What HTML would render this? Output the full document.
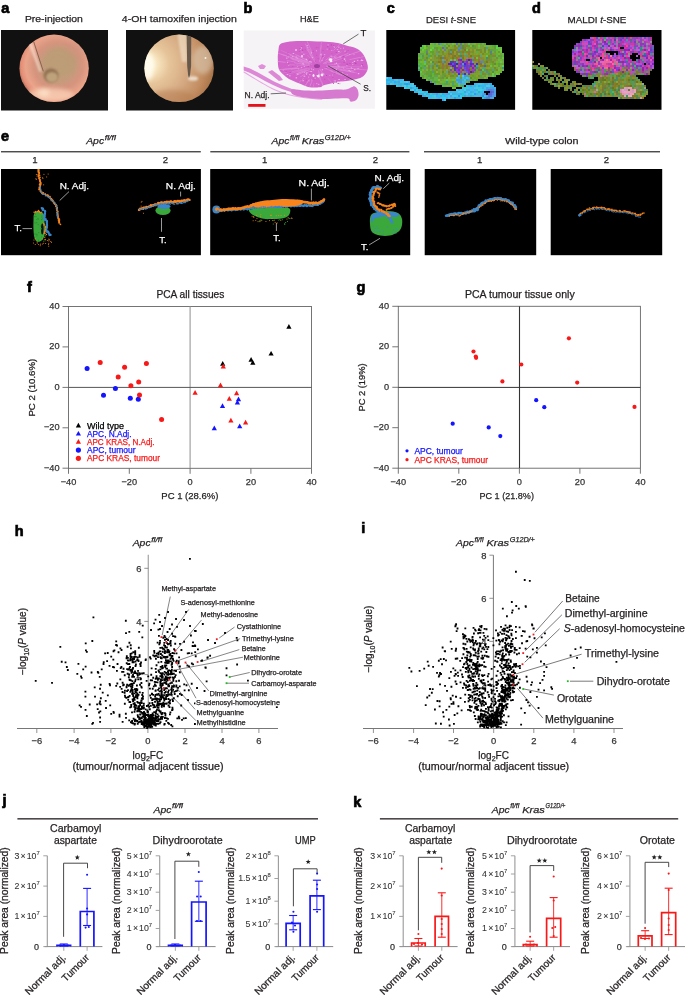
<!DOCTYPE html>
<html><head><meta charset="utf-8"><style>
html,body{margin:0;padding:0;background:#fff;}
body{width:685px;height:997px;overflow:hidden;}
svg{display:block;font-family:"Liberation Sans",sans-serif;will-change:transform;}
text:not([stroke]){stroke:#231f20;stroke-width:0.25px;}
</style></head><body>
<svg width="685" height="997" viewBox="0 0 685 997" fill="#231f20">
<text x="1.2" y="12.6" font-size="14.5" font-weight="bold" fill="#000" stroke="#000" stroke-width="0.7">a</text>
<text x="243.4" y="12.55" font-size="14.5" font-weight="bold" fill="#000" stroke="#000" stroke-width="0.7">b</text>
<text x="386.7" y="12.6" font-size="14.5" font-weight="bold" fill="#000" stroke="#000" stroke-width="0.7">c</text>
<text x="532" y="12.6" font-size="14.5" font-weight="bold" fill="#000" stroke="#000" stroke-width="0.7">d</text>
<text x="24.9" y="22.1" font-size="9.8" textLength="57.9" lengthAdjust="spacingAndGlyphs" stroke="#231f20" stroke-width="0.25">Pre-injection</text>
<text x="121.8" y="22.1" font-size="9.8" textLength="115" lengthAdjust="spacingAndGlyphs" stroke="#231f20" stroke-width="0.25">4-OH tamoxifen injection</text>
<rect x="1" y="30" width="107" height="80.5" fill="#111"/>
<rect x="126" y="30" width="107" height="80.5" fill="#111"/>
<defs>
<radialGradient id="e1" cx="0.56" cy="0.46" r="0.56">
 <stop offset="0" stop-color="#bfa27a"/><stop offset="0.4" stop-color="#c49c7c"/>
 <stop offset="0.62" stop-color="#d6947e"/><stop offset="0.84" stop-color="#eaa48a"/><stop offset="0.96" stop-color="#e48e76"/><stop offset="1" stop-color="#c87a66"/>
</radialGradient>
<radialGradient id="e2" cx="0.06" cy="0.44" r="1.0">
 <stop offset="0" stop-color="#fffbe8"/><stop offset="0.12" stop-color="#f8e6c0"/><stop offset="0.3" stop-color="#e6c49a"/>
 <stop offset="0.55" stop-color="#d6ab84"/><stop offset="0.8" stop-color="#c28c60"/><stop offset="1" stop-color="#a06a40"/>
</radialGradient>
<filter id="bl1" x="-0.5" y="-0.5" width="2" height="2"><feGaussianBlur stdDeviation="2.2"/></filter>
<filter id="bl2" x="-0.5" y="-0.5" width="2" height="2"><feGaussianBlur stdDeviation="0.8"/></filter>
<clipPath id="c1"><ellipse cx="54.1" cy="68.3" rx="34.7" ry="33.7"/></clipPath>
<clipPath id="c2"><ellipse cx="179.1" cy="68.3" rx="34.7" ry="33.7"/></clipPath>
</defs>
<ellipse cx="54.1" cy="68.3" rx="34.7" ry="33.7" fill="url(#e1)"/>
<g clip-path="url(#c1)">
<ellipse cx="50" cy="95" rx="24" ry="7" fill="#f8cdb4" opacity="0.8" filter="url(#bl1)"/>
<ellipse cx="44" cy="93" rx="6" ry="4" fill="#fbe2c8" opacity="0.8" filter="url(#bl1)"/>
<ellipse cx="76" cy="50" rx="10" ry="8" fill="#d09480" opacity="0.5" filter="url(#bl1)"/>
<ellipse cx="60" cy="62" rx="16" ry="14" fill="#b89c74" opacity="0.55" filter="url(#bl1)"/>
<ellipse cx="51" cy="75.5" rx="7.4" ry="7" fill="#8c6c50" opacity="0.9" filter="url(#bl2)"/>
<ellipse cx="52" cy="77.3" rx="6" ry="5.3" fill="#bea27c" filter="url(#bl2)"/>
<path d="M27,40 L31,40 L41.5,71 L39.5,72 Z" fill="#f6dccc" opacity="0.75" filter="url(#bl2)"/>
<line x1="33.8" y1="42" x2="43.3" y2="71.3" stroke="#7e5e4c" stroke-width="0.9"/>
</g>
<ellipse cx="179.1" cy="68.3" rx="34.7" ry="33.7" fill="url(#e2)"/>
<g clip-path="url(#c2)">
<ellipse cx="203" cy="60" rx="10" ry="14" fill="#d8c8b0" opacity="0.6" filter="url(#bl1)"/>
<ellipse cx="148" cy="66" rx="6" ry="14" fill="#fffcee" opacity="0.9" filter="url(#bl1)"/>
<ellipse cx="172" cy="98" rx="22" ry="8" fill="#b47a50" opacity="0.5" filter="url(#bl1)"/>
<path d="M177,33 L187,33 L187,62 L182,62 Z" fill="#f4e6d0" opacity="0.6" filter="url(#bl2)"/>
<path d="M186.6,33 L191.3,33 L191.1,66 L189.8,77.5 L188.4,77.5 L187.2,66 Z" fill="#66584a"/>
<ellipse cx="193" cy="78.5" rx="5" ry="2.2" fill="#f4ece4" opacity="0.8" filter="url(#bl2)"/>
<circle cx="205.5" cy="58" r="1" fill="#f6f0ea"/>
</g>
<text x="300" y="22.3" font-size="9.8" textLength="18.8" lengthAdjust="spacingAndGlyphs" stroke="#231f20" stroke-width="0.25">H&amp;E</text>
<rect x="243.7" y="30.5" width="131.2" height="78.2" fill="#f6f3f6"/>
<path d="M243.7,66.5 L250.0,68.5 L258.0,72.5 L266.0,77.0 L274.0,81.5 L283.0,85.5 L292.0,89.0 L300.0,91.0 L300.0,93.5 L291.0,92.0 L282.0,89.0 L273.0,85.0 L265.0,81.0 L257.0,76.5 L249.0,72.5 L243.7,70.5 Z" fill="#dc88d6"/>
<path d="M244.0,72.0 C245.3,72.8 249.0,75.2 252.0,77.0 C255.0,78.8 258.7,81.1 262.0,83.0 C265.3,84.9 268.7,86.9 272.0,88.5 C275.3,90.1 278.7,91.3 282.0,92.5 C285.3,93.7 288.2,94.6 292.0,95.5 C295.8,96.4 300.0,97.2 305.0,97.8 C310.0,98.4 319.2,99.0 322.0,99.3" fill="none" stroke="#e9a6e4" stroke-width="1.1" stroke-linecap="round" stroke-linejoin="round"/>
<path d="M268.0,72.0 L272.0,70.0 L276.0,73.0 L280.0,76.0 L283.0,80.0 L279.0,81.0 L274.0,77.0 Z" fill="#dc88d6"/>
<path d="M258.0,66.0 L262.0,64.0 L266.0,66.0 L264.0,69.0 L260.0,69.0 Z" fill="#e090da"/>
<path d="M292.0,89.5 C294.0,88.8 300.0,90.3 305.0,90.5 C310.0,90.7 316.8,90.7 322.0,90.5 C327.2,90.3 332.0,89.7 336.0,89.5 C340.0,89.3 343.4,89.9 346.0,89.5 C348.6,89.1 350.0,87.8 351.4,87.3 C352.8,86.8 353.4,85.9 354.4,86.2 C355.4,86.5 356.8,87.8 357.5,89.3 C358.2,90.8 358.8,93.5 358.5,95.4 C358.2,97.3 356.9,99.6 355.5,100.6 C354.1,101.6 351.6,101.9 350.4,101.6 C349.2,101.2 350.4,99.0 348.3,98.5 C346.2,98.0 342.5,98.4 338.1,98.5 C333.7,98.6 327.2,99.2 321.7,99.0 C316.2,98.8 309.8,98.2 305.0,97.5 C300.2,96.8 295.2,95.8 293.0,94.5 C290.8,93.2 290.0,90.2 292.0,89.5 Z" fill="#d67ad0"/>
<path d="M279.9,44.4 C281.3,43.0 283.4,42.5 287.0,41.9 C290.6,41.3 295.5,41.0 301.3,40.9 C307.1,40.8 315.9,41.2 321.7,41.5 C327.5,41.8 331.9,42.1 336.0,42.7 C340.1,43.4 342.9,44.5 346.3,45.4 C349.7,46.3 353.8,47.0 356.5,48.4 C359.2,49.8 360.9,51.3 362.6,53.5 C364.3,55.7 365.9,59.1 366.7,61.7 C367.5,64.3 368.2,66.5 367.7,68.9 C367.2,71.3 365.5,74.3 363.6,76.0 C361.7,77.7 359.1,78.3 356.5,79.1 C353.9,79.9 351.0,80.3 348.3,80.7 C345.6,81.1 342.8,81.1 340.1,81.5 C337.4,81.9 334.7,82.6 332.0,83.2 C329.3,83.8 325.9,84.5 323.8,85.2 C321.8,85.9 322.1,87.0 319.7,87.3 C317.3,87.6 312.6,87.8 309.5,87.3 C306.4,86.8 304.4,85.4 301.3,84.2 C298.2,83.0 294.0,81.6 291.1,80.1 C288.2,78.6 285.9,76.9 283.9,75.0 C281.8,73.1 279.8,71.6 278.8,68.9 C277.8,66.2 277.9,61.8 277.8,58.7 C277.7,55.6 278.0,52.9 278.4,50.5 C278.8,48.1 278.5,45.8 279.9,44.4 Z" fill="#d264ca"/>
<g fill="#eeb6ea"><rect x="301.2" y="66.9" width="1.0" height="0.9"/><rect x="334.2" y="46.8" width="0.6" height="1.1"/><rect x="303.0" y="53.8" width="1.6" height="0.8"/><rect x="352.1" y="64.0" width="1.2" height="0.6"/><rect x="335.0" y="80.5" width="1.1" height="1.0"/><rect x="338.1" y="46.7" width="1.4" height="0.9"/><rect x="306.6" y="45.3" width="1.5" height="0.8"/><rect x="342.1" y="80.9" width="1.3" height="1.1"/><rect x="314.6" y="77.6" width="1.0" height="1.2"/><rect x="292.6" y="53.1" width="1.6" height="0.8"/><rect x="334.3" y="56.6" width="1.1" height="0.8"/><rect x="310.8" y="68.6" width="1.2" height="1.1"/><rect x="339.0" y="83.0" width="1.5" height="1.2"/><rect x="338.1" y="50.9" width="1.5" height="1.2"/><rect x="357.9" y="67.9" width="1.3" height="0.6"/><rect x="351.7" y="68.1" width="0.9" height="0.5"/><rect x="315.9" y="50.3" width="0.9" height="1.0"/><rect x="333.2" y="45.9" width="1.3" height="0.7"/><rect x="307.3" y="47.2" width="1.2" height="0.5"/><rect x="297.8" y="61.1" width="1.2" height="0.6"/><rect x="357.2" y="59.9" width="1.1" height="0.9"/><rect x="335.7" y="69.0" width="1.2" height="0.9"/><rect x="361.0" y="65.3" width="1.0" height="1.0"/><rect x="301.2" y="56.6" width="1.6" height="0.9"/><rect x="327.6" y="44.5" width="1.0" height="0.9"/><rect x="282.7" y="69.9" width="1.2" height="0.5"/><rect x="334.3" y="63.6" width="1.3" height="0.7"/><rect x="341.1" y="75.0" width="0.6" height="0.5"/><rect x="302.3" y="63.2" width="1.2" height="0.7"/><rect x="311.9" y="57.1" width="1.0" height="0.9"/><rect x="306.5" y="59.8" width="1.4" height="0.5"/><rect x="329.4" y="74.9" width="0.9" height="0.7"/><rect x="349.3" y="54.0" width="0.8" height="0.8"/><rect x="340.3" y="48.3" width="0.9" height="0.7"/><rect x="351.9" y="62.4" width="1.5" height="0.6"/><rect x="309.6" y="71.3" width="1.5" height="0.8"/><rect x="300.1" y="49.1" width="1.1" height="0.6"/><rect x="349.6" y="79.2" width="0.8" height="0.7"/><rect x="349.6" y="71.0" width="1.4" height="0.7"/><rect x="292.0" y="56.3" width="1.4" height="0.7"/><rect x="310.4" y="61.5" width="1.0" height="0.8"/><rect x="317.9" y="83.9" width="1.5" height="0.7"/><rect x="344.4" y="79.1" width="1.3" height="0.9"/><rect x="305.6" y="58.3" width="0.8" height="0.5"/><rect x="331.0" y="56.1" width="1.4" height="0.5"/><rect x="357.8" y="73.1" width="1.5" height="1.1"/><rect x="357.5" y="68.2" width="0.6" height="1.0"/><rect x="295.6" y="56.6" width="1.3" height="0.9"/><rect x="316.2" y="83.4" width="1.2" height="0.7"/><rect x="302.5" y="80.2" width="1.1" height="1.0"/><rect x="310.9" y="52.3" width="1.1" height="1.1"/><rect x="295.6" y="77.3" width="1.5" height="1.1"/><rect x="334.4" y="80.2" width="0.6" height="0.7"/><rect x="303.8" y="66.1" width="1.0" height="0.8"/><rect x="288.3" y="65.1" width="0.9" height="0.7"/><rect x="310.9" y="71.2" width="1.2" height="0.8"/><rect x="297.2" y="57.8" width="0.7" height="0.9"/><rect x="341.9" y="60.0" width="0.7" height="0.6"/><rect x="312.7" y="69.4" width="1.4" height="0.8"/><rect x="349.1" y="70.2" width="1.0" height="0.8"/><rect x="323.2" y="73.5" width="1.0" height="1.0"/><rect x="320.2" y="54.3" width="1.1" height="1.0"/><rect x="287.1" y="61.8" width="1.0" height="1.1"/><rect x="360.6" y="59.7" width="1.5" height="1.1"/><rect x="303.3" y="63.5" width="0.7" height="1.1"/><rect x="337.3" y="81.3" width="1.4" height="1.0"/><rect x="343.4" y="67.7" width="0.7" height="0.9"/><rect x="338.3" y="79.1" width="1.6" height="0.9"/><rect x="346.2" y="65.5" width="1.3" height="0.6"/><rect x="286.2" y="57.6" width="1.2" height="1.1"/><rect x="301.6" y="51.6" width="0.8" height="0.9"/><rect x="345.1" y="60.5" width="1.0" height="0.8"/><rect x="310.8" y="61.6" width="0.7" height="0.9"/><rect x="344.5" y="50.7" width="1.3" height="1.0"/><rect x="338.3" y="65.7" width="1.1" height="1.0"/><rect x="289.1" y="75.4" width="1.5" height="0.9"/><rect x="318.7" y="74.2" width="0.8" height="0.7"/><rect x="297.9" y="68.6" width="0.9" height="0.7"/><rect x="306.1" y="73.6" width="1.0" height="1.1"/><rect x="330.7" y="55.2" width="0.8" height="0.5"/><rect x="321.8" y="60.1" width="0.8" height="0.8"/><rect x="308.4" y="76.5" width="0.7" height="1.2"/><rect x="321.8" y="69.2" width="1.1" height="1.1"/><rect x="350.8" y="67.4" width="1.1" height="1.0"/><rect x="353.8" y="60.8" width="1.3" height="1.2"/><rect x="320.7" y="53.6" width="0.8" height="1.0"/><rect x="353.6" y="54.2" width="0.8" height="0.7"/><rect x="296.9" y="73.6" width="1.5" height="1.1"/><rect x="302.7" y="80.3" width="0.9" height="0.8"/><rect x="343.0" y="47.6" width="0.7" height="1.1"/><rect x="305.8" y="59.0" width="1.2" height="1.0"/><rect x="318.1" y="64.4" width="0.8" height="0.9"/><rect x="362.2" y="60.4" width="1.1" height="0.6"/><rect x="304.4" y="71.9" width="0.7" height="1.1"/><rect x="361.0" y="59.7" width="1.4" height="1.0"/><rect x="306.1" y="72.4" width="1.3" height="1.1"/><rect x="303.6" y="75.7" width="1.6" height="1.0"/><rect x="326.6" y="48.8" width="1.1" height="0.7"/><rect x="342.0" y="72.5" width="1.2" height="0.6"/><rect x="335.9" y="70.5" width="0.8" height="1.1"/><rect x="336.7" y="49.2" width="1.5" height="0.6"/><rect x="309.2" y="74.3" width="1.2" height="0.9"/><rect x="336.0" y="63.2" width="0.9" height="0.6"/><rect x="286.8" y="74.1" width="1.4" height="0.9"/><rect x="343.9" y="59.1" width="0.9" height="0.8"/><rect x="323.9" y="54.4" width="1.4" height="0.7"/><rect x="309.3" y="60.9" width="1.1" height="1.0"/><rect x="311.0" y="79.6" width="0.7" height="0.7"/><rect x="347.2" y="74.5" width="0.8" height="0.6"/><rect x="316.4" y="75.2" width="1.4" height="1.0"/><rect x="331.3" y="50.2" width="1.0" height="0.6"/><rect x="325.8" y="67.9" width="0.8" height="0.7"/><rect x="361.7" y="60.1" width="1.2" height="0.9"/><rect x="339.4" y="56.6" width="1.5" height="0.8"/><rect x="332.1" y="74.5" width="0.6" height="1.0"/><rect x="337.3" y="64.7" width="1.1" height="0.8"/><rect x="297.4" y="66.2" width="0.6" height="0.9"/><rect x="335.9" y="62.7" width="1.2" height="1.2"/><rect x="348.4" y="70.2" width="0.7" height="0.8"/><rect x="300.8" y="47.3" width="1.1" height="1.2"/><rect x="308.5" y="80.6" width="1.3" height="0.6"/><rect x="354.0" y="69.2" width="1.5" height="1.0"/><rect x="343.9" y="58.4" width="1.4" height="1.2"/></g>
<g fill="#b848b0"><rect x="354.2" y="62.4" width="1.2" height="0.8"/><rect x="287.6" y="52.4" width="0.7" height="0.8"/><rect x="340.4" y="66.6" width="0.9" height="1.0"/><rect x="306.9" y="63.5" width="1.2" height="0.8"/><rect x="342.2" y="59.4" width="0.9" height="0.9"/><rect x="331.7" y="53.4" width="0.6" height="0.6"/><rect x="347.6" y="50.0" width="1.0" height="0.6"/><rect x="298.8" y="51.2" width="0.9" height="0.6"/><rect x="295.3" y="64.6" width="0.6" height="0.5"/><rect x="319.1" y="61.1" width="1.2" height="0.5"/><rect x="315.3" y="60.7" width="0.6" height="1.2"/><rect x="299.6" y="48.0" width="1.0" height="0.6"/><rect x="333.9" y="58.5" width="0.7" height="0.5"/><rect x="342.9" y="55.6" width="1.2" height="0.8"/><rect x="360.3" y="56.6" width="0.8" height="0.7"/><rect x="350.2" y="70.4" width="0.9" height="0.6"/><rect x="331.3" y="44.2" width="0.6" height="0.6"/><rect x="285.6" y="71.5" width="1.3" height="0.6"/><rect x="306.9" y="69.5" width="1.4" height="0.6"/><rect x="305.9" y="79.7" width="0.7" height="0.8"/><rect x="309.4" y="72.6" width="1.3" height="0.6"/><rect x="343.9" y="74.8" width="1.3" height="0.9"/><rect x="359.5" y="59.2" width="0.9" height="0.7"/><rect x="347.3" y="64.2" width="0.8" height="0.6"/><rect x="342.3" y="69.4" width="1.2" height="0.8"/><rect x="322.4" y="50.5" width="1.2" height="0.5"/><rect x="320.7" y="75.9" width="1.1" height="0.6"/><rect x="301.2" y="79.4" width="1.1" height="1.1"/><rect x="355.1" y="62.9" width="1.3" height="1.0"/><rect x="309.4" y="59.5" width="0.7" height="0.8"/><rect x="329.4" y="48.6" width="0.7" height="1.0"/><rect x="301.5" y="46.1" width="0.7" height="1.0"/><rect x="330.8" y="44.5" width="0.8" height="1.2"/><rect x="299.7" y="67.6" width="0.9" height="1.0"/><rect x="332.4" y="77.1" width="1.0" height="0.6"/><rect x="288.3" y="63.5" width="0.8" height="1.1"/><rect x="333.3" y="71.0" width="1.2" height="1.1"/><rect x="310.4" y="69.3" width="1.0" height="0.6"/><rect x="352.0" y="69.0" width="1.3" height="0.6"/><rect x="326.8" y="63.5" width="1.2" height="0.6"/><rect x="310.4" y="64.4" width="0.7" height="0.9"/><rect x="343.5" y="61.8" width="1.1" height="0.9"/><rect x="299.2" y="58.7" width="1.4" height="0.7"/><rect x="317.6" y="47.5" width="0.8" height="0.6"/><rect x="333.0" y="83.1" width="1.0" height="0.8"/><rect x="361.7" y="64.3" width="1.2" height="0.8"/><rect x="305.8" y="83.2" width="0.7" height="0.6"/><rect x="342.4" y="56.4" width="1.0" height="0.9"/><rect x="304.5" y="62.2" width="0.9" height="1.0"/><rect x="344.5" y="56.1" width="0.7" height="0.7"/><rect x="315.9" y="47.3" width="0.7" height="1.0"/><rect x="312.7" y="50.8" width="0.8" height="0.8"/><rect x="325.7" y="66.8" width="0.9" height="1.1"/><rect x="305.2" y="63.5" width="1.3" height="1.1"/><rect x="306.3" y="54.2" width="1.2" height="0.5"/><rect x="292.2" y="66.3" width="1.0" height="0.6"/><rect x="346.4" y="63.6" width="1.4" height="1.0"/><rect x="317.8" y="58.2" width="0.6" height="0.9"/><rect x="289.0" y="57.1" width="0.8" height="1.1"/><rect x="316.5" y="54.9" width="0.6" height="0.8"/><rect x="334.3" y="72.4" width="1.3" height="1.1"/><rect x="302.0" y="49.7" width="1.2" height="1.1"/><rect x="324.3" y="78.9" width="1.0" height="0.7"/><rect x="335.7" y="81.7" width="1.3" height="0.8"/><rect x="337.6" y="83.0" width="1.3" height="0.9"/><rect x="316.2" y="65.8" width="0.7" height="0.6"/><rect x="327.5" y="61.1" width="0.9" height="0.8"/><rect x="349.3" y="63.0" width="1.4" height="0.6"/><rect x="307.8" y="65.9" width="0.9" height="1.1"/><rect x="333.1" y="45.3" width="1.1" height="0.9"/><rect x="322.4" y="55.8" width="1.2" height="1.1"/><rect x="289.7" y="72.1" width="0.9" height="0.9"/><rect x="335.7" y="52.2" width="1.3" height="0.6"/><rect x="313.6" y="78.8" width="0.9" height="0.7"/><rect x="308.0" y="60.5" width="0.8" height="0.6"/><rect x="287.7" y="53.6" width="0.8" height="0.6"/><rect x="325.7" y="75.2" width="1.3" height="0.9"/><rect x="286.9" y="55.2" width="1.0" height="0.7"/><rect x="327.4" y="46.0" width="0.8" height="1.2"/><rect x="338.3" y="71.2" width="0.7" height="0.5"/><rect x="345.6" y="51.4" width="0.8" height="1.1"/><rect x="362.7" y="66.5" width="0.9" height="0.6"/><rect x="304.9" y="49.5" width="0.7" height="0.6"/><rect x="311.0" y="82.4" width="0.7" height="0.6"/></g>
<defs><clipPath id="hb"><path d="M279.9,44.4 C281.3,43.0 283.4,42.5 287.0,41.9 C290.6,41.3 295.5,41.0 301.3,40.9 C307.1,40.8 315.9,41.2 321.7,41.5 C327.5,41.8 331.9,42.1 336.0,42.7 C340.1,43.4 342.9,44.5 346.3,45.4 C349.7,46.3 353.8,47.0 356.5,48.4 C359.2,49.8 360.9,51.3 362.6,53.5 C364.3,55.7 365.9,59.1 366.7,61.7 C367.5,64.3 368.2,66.5 367.7,68.9 C367.2,71.3 365.5,74.3 363.6,76.0 C361.7,77.7 359.1,78.3 356.5,79.1 C353.9,79.9 351.0,80.3 348.3,80.7 C345.6,81.1 342.8,81.1 340.1,81.5 C337.4,81.9 334.7,82.6 332.0,83.2 C329.3,83.8 325.9,84.5 323.8,85.2 C321.8,85.9 322.1,87.0 319.7,87.3 C317.3,87.6 312.6,87.8 309.5,87.3 C306.4,86.8 304.4,85.4 301.3,84.2 C298.2,83.0 294.0,81.6 291.1,80.1 C288.2,78.6 285.9,76.9 283.9,75.0 C281.8,73.1 279.8,71.6 278.8,68.9 C277.8,66.2 277.9,61.8 277.8,58.7 C277.7,55.6 278.0,52.9 278.4,50.5 C278.8,48.1 278.5,45.8 279.9,44.4 Z" fill="#000"/></clipPath></defs>
<g clip-path="url(#hb)" stroke="#e9a2e3" opacity="0.55" stroke-linecap="round"><line x1="301.3" y1="68.0" x2="291.2" y2="69.2" stroke-width="0.93"/><line x1="338.9" y1="66.4" x2="362.7" y2="66.9" stroke-width="0.54"/><line x1="295.2" y1="62.0" x2="287.0" y2="60.5" stroke-width="0.69"/><line x1="312.4" y1="56.7" x2="306.4" y2="46.8" stroke-width="0.58"/><line x1="318.7" y1="70.8" x2="320.0" y2="79.2" stroke-width="0.96"/><line x1="293.8" y1="58.3" x2="281.4" y2="54.3" stroke-width="0.87"/><line x1="329.9" y1="70.4" x2="345.8" y2="76.3" stroke-width="0.86"/><line x1="310.1" y1="68.1" x2="298.9" y2="71.1" stroke-width="0.60"/><line x1="312.2" y1="80.6" x2="310.0" y2="86.2" stroke-width="0.94"/><line x1="323.8" y1="63.3" x2="334.4" y2="58.2" stroke-width="0.75"/><line x1="336.4" y1="67.4" x2="360.1" y2="69.1" stroke-width="0.56"/><line x1="309.9" y1="63.2" x2="295.0" y2="58.0" stroke-width="0.95"/><line x1="319.9" y1="69.2" x2="322.7" y2="73.7" stroke-width="0.77"/><line x1="326.8" y1="66.5" x2="343.4" y2="67.4" stroke-width="0.96"/><line x1="302.3" y1="70.3" x2="285.5" y2="74.9" stroke-width="0.55"/><line x1="308.0" y1="63.3" x2="291.6" y2="58.8" stroke-width="0.98"/><line x1="339.1" y1="69.7" x2="356.7" y2="72.9" stroke-width="0.57"/><line x1="314.0" y1="83.4" x2="311.0" y2="96.1" stroke-width="0.56"/><line x1="308.7" y1="49.8" x2="305.3" y2="43.9" stroke-width="0.81"/><line x1="334.3" y1="68.3" x2="353.5" y2="70.9" stroke-width="0.80"/><line x1="319.4" y1="61.6" x2="321.5" y2="54.6" stroke-width="0.93"/><line x1="301.3" y1="61.1" x2="288.2" y2="57.3" stroke-width="0.99"/><line x1="311.8" y1="64.4" x2="292.1" y2="59.5" stroke-width="0.66"/><line x1="306.5" y1="68.5" x2="292.1" y2="71.7" stroke-width="0.66"/><line x1="338.8" y1="72.5" x2="347.1" y2="75.1" stroke-width="0.89"/><line x1="346.5" y1="68.3" x2="368.4" y2="70.1" stroke-width="0.75"/><line x1="314.6" y1="59.4" x2="309.3" y2="49.3" stroke-width="0.71"/><line x1="322.1" y1="83.0" x2="323.9" y2="90.4" stroke-width="0.69"/><line x1="328.9" y1="59.4" x2="341.4" y2="51.8" stroke-width="0.59"/><line x1="325.7" y1="60.2" x2="330.6" y2="56.5" stroke-width="0.99"/><line x1="333.7" y1="80.9" x2="345.5" y2="92.1" stroke-width="0.80"/><line x1="326.1" y1="66.3" x2="337.8" y2="66.7" stroke-width="0.69"/><line x1="291.8" y1="55.0" x2="281.0" y2="50.4" stroke-width="0.57"/><line x1="308.4" y1="64.0" x2="299.6" y2="62.2" stroke-width="0.78"/><line x1="315.2" y1="62.1" x2="309.9" y2="54.6" stroke-width="0.85"/><line x1="319.5" y1="57.3" x2="321.6" y2="45.6" stroke-width="0.58"/><line x1="311.8" y1="52.0" x2="306.8" y2="40.6" stroke-width="0.75"/><line x1="324.3" y1="68.3" x2="338.4" y2="73.3" stroke-width="0.59"/><line x1="311.9" y1="62.8" x2="297.0" y2="54.9" stroke-width="0.61"/><line x1="329.4" y1="66.5" x2="345.4" y2="67.1" stroke-width="0.78"/><line x1="309.3" y1="69.7" x2="296.7" y2="75.0" stroke-width="0.97"/><line x1="285.3" y1="62.3" x2="277.0" y2="61.4" stroke-width="1.00"/><line x1="334.9" y1="58.9" x2="348.1" y2="53.4" stroke-width="0.77"/><line x1="325.0" y1="63.8" x2="341.3" y2="58.6" stroke-width="0.77"/><line x1="309.5" y1="79.0" x2="303.1" y2="88.8" stroke-width="0.55"/><line x1="311.9" y1="56.8" x2="306.7" y2="48.9" stroke-width="0.82"/><line x1="340.5" y1="69.9" x2="354.2" y2="72.3" stroke-width="0.94"/><line x1="321.6" y1="80.9" x2="324.0" y2="91.3" stroke-width="0.81"/><line x1="323.3" y1="63.4" x2="336.4" y2="56.9" stroke-width="0.81"/><line x1="310.1" y1="57.9" x2="306.1" y2="53.7" stroke-width="0.59"/><line x1="309.0" y1="62.3" x2="301.8" y2="59.5" stroke-width="0.68"/><line x1="296.6" y1="68.0" x2="288.2" y2="68.8" stroke-width="0.89"/><line x1="303.4" y1="78.5" x2="299.4" y2="82.0" stroke-width="0.98"/><line x1="288.9" y1="56.7" x2="267.5" y2="49.9" stroke-width="0.92"/><line x1="330.9" y1="71.1" x2="340.4" y2="74.8" stroke-width="0.89"/><line x1="322.5" y1="72.0" x2="326.1" y2="76.6" stroke-width="0.56"/><line x1="349.9" y1="59.5" x2="363.4" y2="56.7" stroke-width="0.87"/><line x1="297.0" y1="68.2" x2="282.8" y2="69.6" stroke-width="0.82"/><line x1="319.2" y1="72.9" x2="320.7" y2="81.4" stroke-width="0.60"/><line x1="286.8" y1="72.3" x2="279.0" y2="73.8" stroke-width="0.55"/><line x1="320.5" y1="62.2" x2="324.3" y2="56.3" stroke-width="0.93"/><line x1="307.9" y1="62.1" x2="300.8" y2="59.3" stroke-width="0.64"/><line x1="308.9" y1="80.0" x2="301.1" y2="92.0" stroke-width="0.89"/><line x1="345.1" y1="56.4" x2="364.2" y2="49.6" stroke-width="0.96"/><line x1="326.9" y1="65.1" x2="340.2" y2="63.7" stroke-width="0.62"/><line x1="301.7" y1="59.7" x2="290.5" y2="55.4" stroke-width="0.92"/><line x1="308.0" y1="69.7" x2="297.6" y2="73.5" stroke-width="0.73"/><line x1="300.5" y1="58.7" x2="288.4" y2="53.7" stroke-width="0.59"/><line x1="305.1" y1="70.5" x2="296.1" y2="73.7" stroke-width="0.77"/><line x1="328.1" y1="78.5" x2="335.5" y2="87.5" stroke-width="0.57"/><line x1="306.6" y1="60.3" x2="295.4" y2="54.7" stroke-width="0.80"/><line x1="320.3" y1="50.1" x2="321.8" y2="39.7" stroke-width="0.61"/><line x1="302.5" y1="63.9" x2="294.4" y2="62.8" stroke-width="0.78"/><line x1="287.2" y1="68.9" x2="273.7" y2="70.1" stroke-width="0.92"/><line x1="308.8" y1="65.6" x2="288.2" y2="64.7" stroke-width="0.64"/><line x1="309.7" y1="65.1" x2="301.7" y2="64.3" stroke-width="0.96"/><line x1="328.3" y1="67.4" x2="338.8" y2="68.8" stroke-width="0.55"/><line x1="333.7" y1="50.3" x2="342.5" y2="41.7" stroke-width="0.70"/><line x1="334.0" y1="59.2" x2="342.0" y2="55.9" stroke-width="0.85"/><line x1="309.0" y1="71.5" x2="300.4" y2="76.8" stroke-width="0.69"/></g>
<ellipse cx="317" cy="66" rx="3" ry="2" fill="#a040a0"/>
<g fill="#fbeefa"><ellipse cx="330.5" cy="59.5" rx="1.8" ry="1.2"/><ellipse cx="313.5" cy="75.5" rx="1" ry="1.6"/><ellipse cx="318.5" cy="76" rx="1.1" ry="1.5"/><ellipse cx="302" cy="56" rx="1" ry="0.7"/><ellipse cx="296" cy="50" rx="0.9" ry="0.7"/></g>
<circle cx="322" cy="75" r="1.4" fill="#fbe8fa"/><circle cx="318" cy="76" r="1.1" fill="#fbe8fa"/><circle cx="331" cy="61" r="1.3" fill="#fbe8fa"/>
<rect x="248.2" y="104" width="17.3" height="2.8" fill="#e3121b"/>
<line x1="343.2" y1="43.9" x2="358.5" y2="34.1" stroke="#333" stroke-width="0.7"/>
<text x="360.5" y="35.6" font-size="9.6" stroke="#231f20" stroke-width="0.25">T</text>
<line x1="327.9" y1="65.8" x2="360.6" y2="84.2" stroke="#333" stroke-width="0.7"/>
<text x="363.3" y="90.6" font-size="9.6" textLength="7.8" lengthAdjust="spacingAndGlyphs" stroke="#231f20" stroke-width="0.25">S.</text>
<line x1="270.7" y1="93.8" x2="286" y2="93" stroke="#333" stroke-width="0.7"/>
<text x="244.5" y="97.6" font-size="9.6" textLength="25.1" lengthAdjust="spacingAndGlyphs" stroke="#231f20" stroke-width="0.25">N. Adj.</text>
<text x="426" y="22.5" font-size="9.8" textLength="50" lengthAdjust="spacingAndGlyphs" stroke="#231f20" stroke-width="0.25">DESI <tspan font-style="italic">t</tspan>-SNE</text>
<rect x="386.3" y="30" width="128.8" height="79.8" fill="#000"/>
<defs><filter id="soft" x="-0.05" y="-0.05" width="1.1" height="1.1"><feGaussianBlur stdDeviation="0.45"/></filter></defs>
<g filter="url(#soft)"><path fill="#78b43c" d="M430 43h2v2h-2zM436 43h2v2h-2zM444 43h2v2h-2zM432 45h2v2h-2zM436 45h2v2h-2zM440 45h2v2h-2zM470 45h2v2h-2zM484 45h2v2h-2zM486 45h2v2h-2zM488 45h2v2h-2zM430 47h2v2h-2zM478 47h2v2h-2zM420 51h2v2h-2zM486 51h2v2h-2zM498 53h2v2h-2zM418 57h2v2h-2zM498 59h2v2h-2zM420 61h2v2h-2zM426 65h2v2h-2zM494 65h2v2h-2zM500 65h2v2h-2zM498 67h2v2h-2zM422 69h2v2h-2zM426 69h2v2h-2zM502 69h2v2h-2zM438 75h2v2h-2zM486 75h2v2h-2zM424 77h2v2h-2zM444 79h2v2h-2zM448 79h2v2h-2zM454 79h2v2h-2zM440 81h2v2h-2zM466 81h2v2h-2zM436 83h2v2h-2zM450 83h2v2h-2zM446 85h2v2h-2zM454 87h2v2h-2z"/>
<path fill="#64b450" d="M432 43h2v2h-2zM434 45h2v2h-2zM438 49h2v2h-2zM458 53h2v2h-2zM502 53h2v2h-2zM420 55h2v2h-2zM496 55h2v2h-2zM420 57h2v2h-2zM502 61h2v2h-2zM436 77h2v2h-2zM434 79h2v2h-2zM442 85h2v2h-2zM448 85h2v2h-2z"/>
<path fill="#50b43c" d="M434 43h2v2h-2zM418 55h2v2h-2zM418 61h2v2h-2zM420 63h2v2h-2zM422 65h2v2h-2zM452 73h2v2h-2zM494 75h2v2h-2zM426 77h2v2h-2zM432 79h2v2h-2z"/>
<path fill="#508c8c" d="M438 43h2v2h-2zM488 73h2v2h-2z"/>
<path fill="#50a0a0" d="M440 43h2v2h-2zM450 51h2v2h-2zM436 53h2v2h-2zM480 55h2v2h-2zM472 57h2v2h-2zM472 61h2v2h-2zM462 63h2v2h-2zM424 67h2v2h-2zM446 71h2v2h-2zM434 83h2v2h-2z"/>
<path fill="#64b43c" d="M442 43h2v2h-2zM448 43h2v2h-2zM472 43h2v2h-2zM482 43h2v2h-2zM490 45h2v2h-2zM422 47h2v2h-2zM490 47h2v2h-2zM424 49h2v2h-2zM496 49h2v2h-2zM492 51h2v2h-2zM424 53h2v2h-2zM496 53h2v2h-2zM502 55h2v2h-2zM498 57h2v2h-2zM498 61h2v2h-2zM422 63h2v2h-2zM420 65h2v2h-2zM430 69h2v2h-2zM494 71h2v2h-2zM498 71h2v2h-2zM500 71h2v2h-2zM420 73h2v2h-2zM422 73h2v2h-2zM420 75h2v2h-2zM424 75h2v2h-2zM432 75h2v2h-2zM428 77h2v2h-2zM434 77h2v2h-2zM430 79h2v2h-2zM436 79h2v2h-2zM442 79h2v2h-2zM470 79h2v2h-2zM432 81h2v2h-2zM444 81h2v2h-2zM448 81h2v2h-2zM438 83h2v2h-2zM454 83h2v2h-2zM444 85h2v2h-2z"/>
<path fill="#64a03c" d="M446 43h2v2h-2zM480 43h2v2h-2zM484 43h2v2h-2zM468 45h2v2h-2zM474 45h2v2h-2zM434 47h2v2h-2zM472 47h2v2h-2zM420 49h2v2h-2zM436 49h2v2h-2zM492 49h2v2h-2zM430 51h2v2h-2zM494 51h2v2h-2zM432 53h2v2h-2zM500 55h2v2h-2zM422 57h2v2h-2zM490 57h2v2h-2zM420 59h2v2h-2zM426 59h2v2h-2zM426 63h2v2h-2zM498 63h2v2h-2zM498 65h2v2h-2zM488 69h2v2h-2zM494 69h2v2h-2zM426 71h2v2h-2zM428 71h2v2h-2zM428 73h2v2h-2zM444 73h2v2h-2zM422 75h2v2h-2zM442 75h2v2h-2zM480 75h2v2h-2zM484 75h2v2h-2zM430 77h2v2h-2zM432 77h2v2h-2zM440 77h2v2h-2zM460 77h2v2h-2zM474 77h2v2h-2zM480 77h2v2h-2zM482 77h2v2h-2zM472 79h2v2h-2zM434 81h2v2h-2zM452 81h2v2h-2zM446 83h2v2h-2zM454 85h2v2h-2zM462 85h2v2h-2z"/>
<path fill="#78a050" d="M450 43h2v2h-2zM428 49h2v2h-2zM434 49h2v2h-2zM418 53h2v2h-2zM424 55h2v2h-2zM502 59h2v2h-2z"/>
<path fill="#64c83c" d="M452 43h2v2h-2zM478 45h2v2h-2zM496 45h2v2h-2zM498 47h2v2h-2zM500 47h2v2h-2zM500 51h2v2h-2zM486 55h2v2h-2zM476 57h2v2h-2zM502 57h2v2h-2zM450 59h2v2h-2zM424 63h2v2h-2zM490 65h2v2h-2zM496 73h2v2h-2zM458 85h2v2h-2zM452 87h2v2h-2z"/>
<path fill="#78b428" d="M454 43h2v2h-2zM474 43h2v2h-2zM438 45h2v2h-2zM446 45h2v2h-2zM450 45h2v2h-2zM422 51h2v2h-2zM428 51h2v2h-2zM496 51h2v2h-2zM430 53h2v2h-2zM428 59h2v2h-2zM500 59h2v2h-2zM422 61h2v2h-2zM496 61h2v2h-2zM496 65h2v2h-2zM500 69h2v2h-2zM496 71h2v2h-2zM498 73h2v2h-2zM484 77h2v2h-2zM450 79h2v2h-2zM442 81h2v2h-2zM450 85h2v2h-2z"/>
<path fill="#5078b4" d="M456 43h2v2h-2zM460 43h2v2h-2zM442 57h2v2h-2z"/>
<path fill="#64b428" d="M458 43h2v2h-2zM462 43h2v2h-2zM478 43h2v2h-2zM442 45h2v2h-2zM426 47h2v2h-2zM438 47h2v2h-2zM432 49h2v2h-2zM424 51h2v2h-2zM494 57h2v2h-2zM422 59h2v2h-2zM418 63h2v2h-2zM496 63h2v2h-2zM432 73h2v2h-2zM444 77h2v2h-2zM474 79h2v2h-2zM456 83h2v2h-2zM456 85h2v2h-2zM460 85h2v2h-2z"/>
<path fill="#788c50" d="M464 43h2v2h-2zM424 59h2v2h-2z"/>
<path fill="#78a028" d="M466 43h2v2h-2zM476 43h2v2h-2zM440 47h2v2h-2zM444 47h2v2h-2zM468 47h2v2h-2zM470 47h2v2h-2zM460 49h2v2h-2zM440 51h2v2h-2zM446 51h2v2h-2zM434 53h2v2h-2zM444 53h2v2h-2zM478 53h2v2h-2zM484 53h2v2h-2zM486 53h2v2h-2zM488 53h2v2h-2zM494 53h2v2h-2zM426 55h2v2h-2zM424 57h2v2h-2zM434 59h2v2h-2zM436 59h2v2h-2zM484 59h2v2h-2zM426 61h2v2h-2zM502 63h2v2h-2zM434 65h2v2h-2zM478 65h2v2h-2zM492 65h2v2h-2zM484 67h2v2h-2zM424 69h2v2h-2zM434 69h2v2h-2zM444 69h2v2h-2zM438 71h2v2h-2zM476 71h2v2h-2zM472 73h2v2h-2zM486 73h2v2h-2zM446 75h2v2h-2zM454 75h2v2h-2zM470 75h2v2h-2zM474 75h2v2h-2zM488 75h2v2h-2zM438 77h2v2h-2zM476 77h2v2h-2zM478 77h2v2h-2z"/>
<path fill="#64c850" d="M468 43h2v2h-2zM432 47h2v2h-2zM422 49h2v2h-2zM466 49h2v2h-2zM454 59h2v2h-2zM430 61h2v2h-2zM500 61h2v2h-2zM450 67h2v2h-2zM420 71h2v2h-2zM492 73h2v2h-2zM492 75h2v2h-2zM446 79h2v2h-2z"/>
<path fill="#78a03c" d="M470 43h2v2h-2zM428 45h2v2h-2zM452 45h2v2h-2zM476 45h2v2h-2zM480 45h2v2h-2zM482 45h2v2h-2zM452 47h2v2h-2zM476 47h2v2h-2zM480 47h2v2h-2zM482 47h2v2h-2zM488 47h2v2h-2zM492 47h2v2h-2zM446 49h2v2h-2zM456 49h2v2h-2zM434 51h2v2h-2zM478 51h2v2h-2zM482 51h2v2h-2zM428 53h2v2h-2zM438 53h2v2h-2zM440 53h2v2h-2zM470 53h2v2h-2zM474 53h2v2h-2zM500 53h2v2h-2zM432 55h2v2h-2zM428 57h2v2h-2zM432 57h2v2h-2zM484 57h2v2h-2zM492 57h2v2h-2zM432 59h2v2h-2zM492 59h2v2h-2zM496 59h2v2h-2zM494 61h2v2h-2zM428 63h2v2h-2zM486 63h2v2h-2zM490 63h2v2h-2zM500 63h2v2h-2zM426 67h2v2h-2zM430 67h2v2h-2zM490 67h2v2h-2zM492 67h2v2h-2zM496 67h2v2h-2zM500 67h2v2h-2zM438 69h2v2h-2zM476 69h2v2h-2zM422 71h2v2h-2zM424 71h2v2h-2zM478 71h2v2h-2zM484 71h2v2h-2zM490 71h2v2h-2zM474 73h2v2h-2zM476 73h2v2h-2zM494 73h2v2h-2zM426 75h2v2h-2zM440 75h2v2h-2zM468 75h2v2h-2zM482 75h2v2h-2zM490 75h2v2h-2zM450 77h2v2h-2zM452 77h2v2h-2zM454 77h2v2h-2zM472 77h2v2h-2zM486 77h2v2h-2zM440 79h2v2h-2zM438 81h2v2h-2zM450 81h2v2h-2zM454 81h2v2h-2zM440 83h2v2h-2zM448 83h2v2h-2z"/>
<path fill="#50c850" d="M422 45h2v2h-2zM482 69h2v2h-2zM452 79h2v2h-2z"/>
<path fill="#78c83c" d="M424 45h2v2h-2zM500 49h2v2h-2zM438 79h2v2h-2z"/>
<path fill="#50a028" d="M426 45h2v2h-2zM420 67h2v2h-2z"/>
<path fill="#64c828" d="M430 45h2v2h-2z"/>
<path fill="#50a08c" d="M444 45h2v2h-2zM432 63h2v2h-2zM430 65h2v2h-2zM482 67h2v2h-2zM492 69h2v2h-2zM480 71h2v2h-2z"/>
<path fill="#788c28" d="M448 45h2v2h-2zM454 45h2v2h-2zM458 45h2v2h-2zM464 47h2v2h-2zM484 47h2v2h-2zM452 49h2v2h-2zM454 49h2v2h-2zM476 49h2v2h-2zM478 49h2v2h-2zM488 49h2v2h-2zM442 51h2v2h-2zM448 51h2v2h-2zM460 51h2v2h-2zM466 51h2v2h-2zM480 51h2v2h-2zM484 51h2v2h-2zM452 53h2v2h-2zM456 53h2v2h-2zM482 53h2v2h-2zM440 55h2v2h-2zM478 55h2v2h-2zM488 55h2v2h-2zM438 57h2v2h-2zM488 57h2v2h-2zM440 59h2v2h-2zM486 59h2v2h-2zM492 61h2v2h-2zM434 63h2v2h-2zM484 63h2v2h-2zM432 65h2v2h-2zM438 65h2v2h-2zM448 65h2v2h-2zM486 65h2v2h-2zM440 67h2v2h-2zM494 67h2v2h-2zM486 69h2v2h-2zM496 69h2v2h-2zM450 71h2v2h-2zM454 71h2v2h-2zM464 71h2v2h-2zM474 71h2v2h-2zM448 73h2v2h-2zM460 73h2v2h-2zM482 73h2v2h-2zM450 75h2v2h-2zM452 75h2v2h-2zM456 75h2v2h-2zM446 77h2v2h-2z"/>
<path fill="#8ca03c" d="M456 45h2v2h-2zM448 47h2v2h-2zM442 49h2v2h-2zM474 49h2v2h-2zM486 49h2v2h-2zM442 59h2v2h-2zM436 67h2v2h-2zM480 67h2v2h-2zM488 67h2v2h-2zM440 69h2v2h-2zM446 69h2v2h-2zM440 73h2v2h-2zM466 73h2v2h-2z"/>
<path fill="#788c3c" d="M460 45h2v2h-2zM464 45h2v2h-2zM466 45h2v2h-2zM448 49h2v2h-2zM462 49h2v2h-2zM468 49h2v2h-2zM480 49h2v2h-2zM438 51h2v2h-2zM472 51h2v2h-2zM442 53h2v2h-2zM434 55h2v2h-2zM444 55h2v2h-2zM448 55h2v2h-2zM492 55h2v2h-2zM494 55h2v2h-2zM436 57h2v2h-2zM454 57h2v2h-2zM496 57h2v2h-2zM488 59h2v2h-2zM490 59h2v2h-2zM428 61h2v2h-2zM436 61h2v2h-2zM484 61h2v2h-2zM428 65h2v2h-2zM444 65h2v2h-2zM428 67h2v2h-2zM478 67h2v2h-2zM436 69h2v2h-2zM448 69h2v2h-2zM482 71h2v2h-2zM436 73h2v2h-2zM454 73h2v2h-2zM484 73h2v2h-2zM444 75h2v2h-2zM478 75h2v2h-2zM442 77h2v2h-2z"/>
<path fill="#648c3c" d="M462 45h2v2h-2zM472 45h2v2h-2zM446 47h2v2h-2zM484 49h2v2h-2zM490 53h2v2h-2zM438 55h2v2h-2zM426 57h2v2h-2zM494 63h2v2h-2zM432 67h2v2h-2z"/>
<path fill="#50b428" d="M492 45h2v2h-2zM420 69h2v2h-2zM436 81h2v2h-2z"/>
<path fill="#50a03c" d="M494 45h2v2h-2zM422 55h2v2h-2zM430 75h2v2h-2z"/>
<path fill="#50c83c" d="M420 47h2v2h-2z"/>
<path fill="#78c828" d="M424 47h2v2h-2z"/>
<path fill="#64a050" d="M428 47h2v2h-2zM494 49h2v2h-2zM420 53h2v2h-2zM422 53h2v2h-2zM500 57h2v2h-2zM422 67h2v2h-2zM424 73h2v2h-2zM434 75h2v2h-2zM436 75h2v2h-2zM468 81h2v2h-2zM444 83h2v2h-2z"/>
<path fill="#64a028" d="M436 47h2v2h-2zM474 47h2v2h-2zM494 47h2v2h-2zM426 49h2v2h-2zM440 49h2v2h-2zM490 49h2v2h-2zM432 51h2v2h-2zM488 51h2v2h-2zM498 51h2v2h-2zM430 55h2v2h-2zM490 55h2v2h-2zM498 55h2v2h-2zM418 59h2v2h-2zM490 61h2v2h-2zM492 63h2v2h-2zM424 65h2v2h-2zM428 69h2v2h-2zM490 69h2v2h-2zM430 71h2v2h-2zM434 71h2v2h-2zM488 71h2v2h-2zM426 73h2v2h-2zM430 73h2v2h-2zM434 73h2v2h-2zM438 73h2v2h-2zM442 73h2v2h-2zM490 73h2v2h-2zM472 75h2v2h-2zM422 77h2v2h-2zM476 79h2v2h-2zM452 85h2v2h-2z"/>
<path fill="#6464c8" d="M442 47h2v2h-2z"/>
<path fill="#8ca028" d="M450 47h2v2h-2zM466 47h2v2h-2zM470 49h2v2h-2zM482 49h2v2h-2zM444 51h2v2h-2zM454 51h2v2h-2zM474 51h2v2h-2zM476 53h2v2h-2zM480 53h2v2h-2zM436 55h2v2h-2zM442 55h2v2h-2zM482 55h2v2h-2zM484 55h2v2h-2zM430 63h2v2h-2zM438 63h2v2h-2zM482 63h2v2h-2zM488 63h2v2h-2zM434 67h2v2h-2zM486 67h2v2h-2zM440 71h2v2h-2zM444 71h2v2h-2zM446 73h2v2h-2zM478 73h2v2h-2zM448 75h2v2h-2zM460 75h2v2h-2zM476 75h2v2h-2z"/>
<path fill="#8c8c28" d="M454 47h2v2h-2zM456 47h2v2h-2zM472 49h2v2h-2zM470 51h2v2h-2zM462 53h2v2h-2zM456 55h2v2h-2zM472 55h2v2h-2zM474 55h2v2h-2zM476 55h2v2h-2zM446 57h2v2h-2zM450 57h2v2h-2zM480 57h2v2h-2zM438 59h2v2h-2zM452 59h2v2h-2zM464 59h2v2h-2zM476 59h2v2h-2zM482 59h2v2h-2zM446 61h2v2h-2zM476 61h2v2h-2zM440 63h2v2h-2zM440 65h2v2h-2zM488 65h2v2h-2zM444 67h2v2h-2zM462 67h2v2h-2zM442 69h2v2h-2zM470 73h2v2h-2z"/>
<path fill="#3ca0a0" d="M458 47h2v2h-2zM486 47h2v2h-2zM428 55h2v2h-2zM460 57h2v2h-2zM476 65h2v2h-2zM452 83h2v2h-2z"/>
<path fill="#6478c8" d="M460 47h2v2h-2zM444 49h2v2h-2zM458 49h2v2h-2zM480 61h2v2h-2z"/>
<path fill="#648c28" d="M462 47h2v2h-2zM450 49h2v2h-2zM426 53h2v2h-2zM432 61h2v2h-2zM438 67h2v2h-2zM442 71h2v2h-2zM492 71h2v2h-2zM470 77h2v2h-2z"/>
<path fill="#50dc50" d="M496 47h2v2h-2zM502 65h2v2h-2z"/>
<path fill="#64dc3c" d="M430 49h2v2h-2z"/>
<path fill="#78783c" d="M464 49h2v2h-2zM450 53h2v2h-2zM478 61h2v2h-2zM480 69h2v2h-2zM448 71h2v2h-2z"/>
<path fill="#78b450" d="M498 49h2v2h-2zM418 67h2v2h-2zM498 69h2v2h-2zM448 77h2v2h-2zM426 79h2v2h-2z"/>
<path fill="#6478b4" d="M426 51h2v2h-2zM430 81h2v2h-2z"/>
<path fill="#8c8c3c" d="M436 51h2v2h-2zM446 53h2v2h-2zM492 53h2v2h-2zM464 55h2v2h-2zM434 57h2v2h-2zM448 57h2v2h-2zM482 57h2v2h-2zM430 59h2v2h-2zM480 59h2v2h-2zM494 59h2v2h-2zM434 61h2v2h-2zM448 61h2v2h-2zM468 61h2v2h-2zM474 61h2v2h-2zM488 61h2v2h-2zM436 63h2v2h-2zM474 63h2v2h-2zM432 69h2v2h-2zM452 69h2v2h-2zM462 71h2v2h-2zM450 73h2v2h-2z"/>
<path fill="#8c7828" d="M452 51h2v2h-2zM462 51h2v2h-2zM448 53h2v2h-2zM452 55h2v2h-2zM458 55h2v2h-2zM462 55h2v2h-2zM444 57h2v2h-2zM456 57h2v2h-2zM474 57h2v2h-2zM472 59h2v2h-2zM440 61h2v2h-2zM458 61h2v2h-2zM442 63h2v2h-2zM478 63h2v2h-2zM446 65h2v2h-2zM480 65h2v2h-2zM482 65h2v2h-2zM446 67h2v2h-2zM452 67h2v2h-2zM470 67h2v2h-2zM460 69h2v2h-2z"/>
<path fill="#8c783c" d="M456 51h2v2h-2zM458 51h2v2h-2zM468 51h2v2h-2zM468 53h2v2h-2zM446 59h2v2h-2zM474 59h2v2h-2zM478 59h2v2h-2zM442 65h2v2h-2zM442 67h2v2h-2zM478 69h2v2h-2z"/>
<path fill="#8c8c14" d="M464 51h2v2h-2zM468 55h2v2h-2zM470 57h2v2h-2z"/>
<path fill="#50b450" d="M476 51h2v2h-2zM480 73h2v2h-2zM442 83h2v2h-2z"/>
<path fill="#5078c8" d="M490 51h2v2h-2zM462 73h2v2h-2zM488 95h2v2h-2z"/>
<path fill="#a08c3c" d="M454 53h2v2h-2zM444 59h2v2h-2z"/>
<path fill="#3ca08c" d="M460 53h2v2h-2zM466 55h2v2h-2zM418 65h2v2h-2zM418 69h2v2h-2zM484 69h2v2h-2zM432 71h2v2h-2zM446 81h2v2h-2z"/>
<path fill="#3cb48c" d="M464 53h2v2h-2z"/>
<path fill="#a08c28" d="M466 53h2v2h-2zM450 55h2v2h-2zM464 57h2v2h-2zM466 57h2v2h-2zM448 59h2v2h-2zM444 63h2v2h-2zM456 65h2v2h-2zM448 67h2v2h-2z"/>
<path fill="#78a014" d="M472 53h2v2h-2z"/>
<path fill="#a08c14" d="M446 55h2v2h-2z"/>
<path fill="#787828" d="M454 55h2v2h-2zM460 55h2v2h-2zM470 55h2v2h-2zM440 57h2v2h-2zM452 57h2v2h-2zM462 57h2v2h-2zM438 61h2v2h-2zM486 61h2v2h-2zM480 63h2v2h-2zM470 69h2v2h-2z"/>
<path fill="#8cb428" d="M430 57h2v2h-2zM436 71h2v2h-2z"/>
<path fill="#a07828" d="M458 57h2v2h-2zM468 57h2v2h-2z"/>
<path fill="#a0783c" d="M478 57h2v2h-2zM456 59h2v2h-2zM446 63h2v2h-2z"/>
<path fill="#3c8c8c" d="M486 57h2v2h-2zM444 61h2v2h-2zM436 65h2v2h-2zM476 67h2v2h-2z"/>
<path fill="#8c28dc" d="M458 59h2v2h-2z"/>
<path fill="#7828c8" d="M460 59h2v2h-2zM472 67h2v2h-2zM458 69h2v2h-2z"/>
<path fill="#788c14" d="M462 59h2v2h-2z"/>
<path fill="#8c3cc8" d="M466 59h2v2h-2zM460 65h2v2h-2zM450 69h2v2h-2zM456 69h2v2h-2zM456 71h2v2h-2z"/>
<path fill="#5028b4" d="M468 59h2v2h-2zM450 63h2v2h-2z"/>
<path fill="#8c28c8" d="M470 59h2v2h-2z"/>
<path fill="#50b4a0" d="M424 61h2v2h-2z"/>
<path fill="#508cc8" d="M442 61h2v2h-2zM482 61h2v2h-2z"/>
<path fill="#503cb4" d="M450 61h2v2h-2zM452 61h2v2h-2z"/>
<path fill="#a028b4" d="M454 61h2v2h-2zM466 63h2v2h-2zM458 67h2v2h-2zM466 67h2v2h-2z"/>
<path fill="#3cb4a0" d="M456 61h2v2h-2z"/>
<path fill="#b43ca0" d="M460 61h2v2h-2z"/>
<path fill="#6428c8" d="M462 61h2v2h-2z"/>
<path fill="#8c3cdc" d="M464 61h2v2h-2z"/>
<path fill="#643cb4" d="M466 61h2v2h-2zM468 73h2v2h-2z"/>
<path fill="#643cdc" d="M470 61h2v2h-2z"/>
<path fill="#6428b4" d="M448 63h2v2h-2zM470 63h2v2h-2zM454 65h2v2h-2zM454 67h2v2h-2zM464 73h2v2h-2z"/>
<path fill="#6450dc" d="M452 63h2v2h-2z"/>
<path fill="#503cc8" d="M454 63h2v2h-2zM470 65h2v2h-2zM474 65h2v2h-2zM456 67h2v2h-2z"/>
<path fill="#3c28c8" d="M456 63h2v2h-2z"/>
<path fill="#a03ca0" d="M458 63h2v2h-2z"/>
<path fill="#643cc8" d="M460 63h2v2h-2zM460 67h2v2h-2z"/>
<path fill="#5028c8" d="M464 63h2v2h-2zM476 63h2v2h-2zM452 65h2v2h-2zM458 73h2v2h-2z"/>
<path fill="#b43cb4" d="M468 63h2v2h-2zM450 65h2v2h-2zM472 65h2v2h-2zM452 71h2v2h-2z"/>
<path fill="#7828b4" d="M472 63h2v2h-2z"/>
<path fill="#783cdc" d="M458 65h2v2h-2z"/>
<path fill="#7850f0" d="M462 65h2v2h-2zM466 71h2v2h-2z"/>
<path fill="#503cdc" d="M464 65h2v2h-2z"/>
<path fill="#5050b4" d="M466 65h2v2h-2z"/>
<path fill="#5050dc" d="M468 65h2v2h-2zM488 93h2v2h-2z"/>
<path fill="#5064b4" d="M484 65h2v2h-2z"/>
<path fill="#783cf0" d="M464 67h2v2h-2zM474 69h2v2h-2zM458 71h2v2h-2z"/>
<path fill="#8c3cb4" d="M468 67h2v2h-2z"/>
<path fill="#8c7814" d="M474 67h2v2h-2z"/>
<path fill="#3c8ca0" d="M502 67h2v2h-2z"/>
<path fill="#3c3cb4" d="M454 69h2v2h-2z"/>
<path fill="#8c28b4" d="M462 69h2v2h-2z"/>
<path fill="#7850dc" d="M464 69h2v2h-2z"/>
<path fill="#5050c8" d="M466 69h2v2h-2z"/>
<path fill="#a028a0" d="M468 69h2v2h-2z"/>
<path fill="#a03cb4" d="M472 69h2v2h-2zM460 71h2v2h-2z"/>
<path fill="#783cc8" d="M468 71h2v2h-2z"/>
<path fill="#6414b4" d="M470 71h2v2h-2z"/>
<path fill="#783cb4" d="M472 71h2v2h-2z"/>
<path fill="#508ca0" d="M486 71h2v2h-2z"/>
<path fill="#8ca014" d="M456 73h2v2h-2z"/>
<path fill="#50a050" d="M428 75h2v2h-2zM428 79h2v2h-2z"/>
<path fill="#50b4dc" d="M458 75h2v2h-2zM456 77h2v2h-2zM462 77h2v2h-2zM388 81h2v2h-2zM462 81h2v2h-2zM396 83h2v2h-2zM402 83h2v2h-2zM458 83h2v2h-2zM464 83h2v2h-2zM398 85h2v2h-2zM472 87h2v2h-2zM456 91h2v2h-2zM438 93h2v2h-2zM470 93h2v2h-2zM478 93h2v2h-2zM466 95h2v2h-2zM474 95h2v2h-2zM478 95h2v2h-2zM450 97h2v2h-2zM452 97h2v2h-2z"/>
<path fill="#50c8f0" d="M462 75h2v2h-2zM386 77h2v2h-2zM406 81h2v2h-2zM390 83h2v2h-2zM404 85h2v2h-2zM412 85h2v2h-2zM486 85h2v2h-2zM488 85h2v2h-2zM404 87h2v2h-2zM412 89h2v2h-2zM456 89h2v2h-2zM464 89h2v2h-2zM480 89h2v2h-2zM448 91h2v2h-2zM450 93h2v2h-2zM466 93h2v2h-2z"/>
<path fill="#3ca0c8" d="M464 75h2v2h-2zM458 79h2v2h-2zM460 81h2v2h-2z"/>
<path fill="#3ca0dc" d="M466 75h2v2h-2zM456 79h2v2h-2zM460 79h2v2h-2zM466 79h2v2h-2zM404 83h2v2h-2zM410 87h2v2h-2zM484 97h2v2h-2z"/>
<path fill="#3cb4dc" d="M388 77h2v2h-2zM390 79h2v2h-2zM390 81h2v2h-2zM396 81h2v2h-2zM386 83h2v2h-2zM398 83h2v2h-2zM400 83h2v2h-2zM462 83h2v2h-2zM484 83h2v2h-2zM486 83h2v2h-2zM400 85h2v2h-2zM474 85h2v2h-2zM490 85h2v2h-2zM482 87h2v2h-2zM488 87h2v2h-2zM418 89h2v2h-2zM466 89h2v2h-2zM468 89h2v2h-2zM476 89h2v2h-2zM414 91h2v2h-2zM416 91h2v2h-2zM424 91h2v2h-2zM454 91h2v2h-2zM472 91h2v2h-2zM420 93h2v2h-2zM422 93h2v2h-2zM426 93h2v2h-2zM428 93h2v2h-2zM444 93h2v2h-2zM448 93h2v2h-2zM452 93h2v2h-2zM454 93h2v2h-2zM460 93h2v2h-2zM476 93h2v2h-2zM424 95h2v2h-2zM440 95h2v2h-2zM468 95h2v2h-2zM472 95h2v2h-2zM446 97h2v2h-2zM456 97h2v2h-2zM492 97h2v2h-2z"/>
<path fill="#3cb4f0" d="M390 77h2v2h-2zM398 79h2v2h-2zM400 79h2v2h-2zM386 81h2v2h-2zM408 81h2v2h-2zM394 83h2v2h-2zM474 83h2v2h-2zM414 85h2v2h-2zM468 85h2v2h-2zM472 85h2v2h-2zM480 85h2v2h-2zM482 85h2v2h-2zM484 85h2v2h-2zM492 85h2v2h-2zM412 87h2v2h-2zM494 87h2v2h-2zM458 89h2v2h-2zM474 89h2v2h-2zM450 91h2v2h-2zM452 91h2v2h-2zM482 91h2v2h-2zM418 93h2v2h-2zM432 93h2v2h-2zM434 93h2v2h-2zM456 93h2v2h-2zM458 93h2v2h-2zM468 93h2v2h-2zM436 95h2v2h-2zM444 95h2v2h-2zM480 95h2v2h-2zM438 97h2v2h-2zM458 97h2v2h-2z"/>
<path fill="#3cb4c8" d="M458 77h2v2h-2zM464 77h2v2h-2zM462 79h2v2h-2z"/>
<path fill="#3cc8dc" d="M466 77h2v2h-2zM464 79h2v2h-2zM402 81h2v2h-2zM392 83h2v2h-2zM410 83h2v2h-2zM480 83h2v2h-2zM396 85h2v2h-2zM402 85h2v2h-2zM476 85h2v2h-2zM406 87h2v2h-2zM408 87h2v2h-2zM414 87h2v2h-2zM462 87h2v2h-2zM464 87h2v2h-2zM466 87h2v2h-2zM478 87h2v2h-2zM480 87h2v2h-2zM484 87h2v2h-2zM410 89h2v2h-2zM462 91h2v2h-2zM476 91h2v2h-2zM430 93h2v2h-2zM440 93h2v2h-2zM472 93h2v2h-2zM426 95h2v2h-2zM432 95h2v2h-2zM456 95h2v2h-2zM432 97h2v2h-2zM442 97h2v2h-2z"/>
<path fill="#50b4c8" d="M468 77h2v2h-2zM456 81h2v2h-2zM464 81h2v2h-2z"/>
<path fill="#28b4f0" d="M386 79h2v2h-2zM388 79h2v2h-2zM392 79h2v2h-2zM394 81h2v2h-2zM388 83h2v2h-2zM490 83h2v2h-2zM478 85h2v2h-2zM414 89h2v2h-2zM470 91h2v2h-2zM442 93h2v2h-2z"/>
<path fill="#50b4f0" d="M394 79h2v2h-2zM402 79h2v2h-2zM392 81h2v2h-2zM476 83h2v2h-2zM488 83h2v2h-2zM468 87h2v2h-2zM462 89h2v2h-2zM470 89h2v2h-2zM472 89h2v2h-2zM484 89h2v2h-2zM466 91h2v2h-2zM474 91h2v2h-2zM464 93h2v2h-2zM480 93h2v2h-2zM428 95h2v2h-2zM446 95h2v2h-2zM476 95h2v2h-2zM484 95h2v2h-2zM430 97h2v2h-2zM436 97h2v2h-2zM440 97h2v2h-2z"/>
<path fill="#3cc8f0" d="M396 79h2v2h-2zM400 81h2v2h-2zM404 81h2v2h-2zM478 83h2v2h-2zM410 85h2v2h-2zM474 87h2v2h-2zM460 89h2v2h-2zM482 89h2v2h-2zM420 91h2v2h-2zM422 91h2v2h-2zM460 91h2v2h-2zM468 91h2v2h-2zM424 93h2v2h-2zM448 95h2v2h-2zM452 95h2v2h-2zM454 95h2v2h-2zM460 95h2v2h-2zM434 97h2v2h-2zM444 97h2v2h-2zM448 97h2v2h-2zM444 99h2v2h-2z"/>
<path fill="#50a0dc" d="M468 79h2v2h-2zM398 81h2v2h-2zM408 83h2v2h-2zM460 83h2v2h-2zM486 87h2v2h-2zM490 87h2v2h-2zM494 89h2v2h-2zM494 91h2v2h-2zM482 93h2v2h-2zM422 95h2v2h-2zM450 95h2v2h-2zM494 95h2v2h-2z"/>
<path fill="#50a0c8" d="M458 81h2v2h-2z"/>
<path fill="#28a0f0" d="M406 83h2v2h-2zM474 93h2v2h-2zM454 97h2v2h-2z"/>
<path fill="#50c8dc" d="M412 83h2v2h-2zM408 85h2v2h-2zM476 87h2v2h-2zM416 89h2v2h-2zM478 89h2v2h-2zM418 91h2v2h-2zM458 91h2v2h-2zM434 95h2v2h-2z"/>
<path fill="#28c8f0" d="M482 83h2v2h-2zM470 87h2v2h-2zM426 91h2v2h-2zM430 95h2v2h-2zM438 95h2v2h-2zM442 95h2v2h-2zM428 97h2v2h-2zM460 97h2v2h-2z"/>
<path fill="#28c8dc" d="M406 85h2v2h-2zM466 85h2v2h-2zM420 89h2v2h-2zM480 91h2v2h-2zM462 93h2v2h-2zM462 95h2v2h-2zM482 97h2v2h-2z"/>
<path fill="#28b4dc" d="M470 85h2v2h-2zM416 87h2v2h-2zM464 91h2v2h-2zM478 91h2v2h-2zM464 95h2v2h-2zM470 95h2v2h-2z"/>
<path fill="#3ca0f0" d="M492 87h2v2h-2zM486 89h2v2h-2zM436 93h2v2h-2zM442 99h2v2h-2z"/>
<path fill="#6478f0" d="M488 89h2v2h-2z"/>
<path fill="#6478dc" d="M490 89h2v2h-2z"/>
<path fill="#508cdc" d="M492 89h2v2h-2zM484 93h2v2h-2zM492 93h2v2h-2z"/>
<path fill="#5064c8" d="M490 91h2v2h-2z"/>
<path fill="#6464dc" d="M492 91h2v2h-2zM490 93h2v2h-2z"/>
<path fill="#50a0f0" d="M446 93h2v2h-2zM494 93h2v2h-2zM486 95h2v2h-2zM490 97h2v2h-2z"/>
<path fill="#28a0dc" d="M458 95h2v2h-2zM482 95h2v2h-2z"/>
<path fill="#5078dc" d="M490 95h2v2h-2z"/>
<path fill="#648cf0" d="M492 95h2v2h-2z"/>
<path fill="#3c8cdc" d="M486 97h2v2h-2zM488 97h2v2h-2z"/></g>
<text x="567.5" y="22.5" font-size="9.8" textLength="58.9" lengthAdjust="spacingAndGlyphs" stroke="#231f20" stroke-width="0.25">MALDI <tspan font-style="italic">t</tspan>-SNE</text>
<rect x="532.3" y="30" width="129.2" height="79.8" fill="#000"/>
<g filter="url(#soft)"><path fill="#b450dc" d="M590 37h2v2h-2zM588 39h2v2h-2zM584 41h2v2h-2zM614 43h2v2h-2zM604 45h2v2h-2zM630 45h2v2h-2zM646 45h2v2h-2zM598 49h2v2h-2zM576 53h2v2h-2zM614 53h2v2h-2zM614 55h2v2h-2zM612 57h2v2h-2zM584 63h2v2h-2zM640 63h2v2h-2zM652 65h2v2h-2zM586 71h2v2h-2z"/>
<path fill="#dc50a0" d="M592 37h2v2h-2zM616 41h2v2h-2zM648 43h2v2h-2zM626 45h2v2h-2zM604 49h2v2h-2zM642 51h2v2h-2zM588 55h2v2h-2zM648 57h2v2h-2zM580 61h2v2h-2zM616 65h2v2h-2zM612 67h2v2h-2zM620 67h2v2h-2zM628 69h2v2h-2z"/>
<path fill="#dc3c8c" d="M594 37h2v2h-2zM594 39h2v2h-2zM604 51h2v2h-2zM620 51h2v2h-2zM640 53h2v2h-2zM606 55h2v2h-2zM640 55h2v2h-2zM610 57h2v2h-2zM616 57h2v2h-2zM622 59h2v2h-2zM596 65h2v2h-2zM610 65h2v2h-2zM646 65h2v2h-2z"/>
<path fill="#783cc8" d="M596 37h2v2h-2zM626 37h2v2h-2zM584 39h2v2h-2zM580 41h2v2h-2zM590 43h2v2h-2zM604 43h2v2h-2zM594 45h2v2h-2zM622 45h2v2h-2zM644 45h2v2h-2zM650 47h2v2h-2zM596 51h2v2h-2zM630 51h2v2h-2zM632 51h2v2h-2zM638 51h2v2h-2zM578 55h2v2h-2zM646 55h2v2h-2zM618 61h2v2h-2zM574 63h2v2h-2zM602 67h2v2h-2zM576 71h2v2h-2zM582 73h2v2h-2z"/>
<path fill="#64a08c" d="M598 37h2v2h-2z"/>
<path fill="#c83c8c" d="M600 37h2v2h-2zM578 53h2v2h-2zM630 65h2v2h-2z"/>
<path fill="#a050c8" d="M602 37h2v2h-2zM596 39h2v2h-2zM624 41h2v2h-2zM642 45h2v2h-2zM640 51h2v2h-2zM646 59h2v2h-2zM650 61h2v2h-2zM600 63h2v2h-2z"/>
<path fill="#28a078" d="M604 37h2v2h-2zM608 41h2v2h-2zM618 41h2v2h-2z"/>
<path fill="#b464dc" d="M606 37h2v2h-2zM642 37h2v2h-2zM616 43h2v2h-2zM638 49h2v2h-2zM576 65h2v2h-2zM618 65h2v2h-2z"/>
<path fill="#b43cc8" d="M608 37h2v2h-2zM638 37h2v2h-2zM622 39h2v2h-2zM632 41h2v2h-2zM586 47h2v2h-2zM638 53h2v2h-2zM624 59h2v2h-2zM592 61h2v2h-2zM644 67h2v2h-2zM634 69h2v2h-2z"/>
<path fill="#b450c8" d="M610 37h2v2h-2zM646 37h2v2h-2zM612 39h2v2h-2zM638 39h2v2h-2zM646 39h2v2h-2zM586 41h2v2h-2zM592 41h2v2h-2zM584 45h2v2h-2zM590 45h2v2h-2zM598 47h2v2h-2zM606 47h2v2h-2zM594 49h2v2h-2zM614 49h2v2h-2zM634 49h2v2h-2zM588 51h2v2h-2zM644 57h2v2h-2zM652 57h2v2h-2zM644 61h2v2h-2zM590 63h2v2h-2zM638 63h2v2h-2zM620 69h2v2h-2zM600 71h2v2h-2zM630 71h2v2h-2zM632 71h2v2h-2z"/>
<path fill="#c83ca0" d="M612 37h2v2h-2zM624 37h2v2h-2zM594 41h2v2h-2zM630 43h2v2h-2zM632 43h2v2h-2zM618 47h2v2h-2zM624 47h2v2h-2zM618 49h2v2h-2zM634 51h2v2h-2zM630 53h2v2h-2zM640 61h2v2h-2zM592 63h2v2h-2zM610 63h2v2h-2zM590 67h2v2h-2zM640 71h2v2h-2z"/>
<path fill="#6450b4" d="M614 37h2v2h-2zM588 43h2v2h-2zM592 65h2v2h-2z"/>
<path fill="#648c8c" d="M616 37h2v2h-2zM608 53h2v2h-2zM642 53h2v2h-2z"/>
<path fill="#8c3cc8" d="M618 37h2v2h-2zM636 37h2v2h-2zM590 39h2v2h-2zM602 41h2v2h-2zM612 43h2v2h-2zM576 45h2v2h-2zM640 45h2v2h-2zM596 47h2v2h-2zM600 47h2v2h-2zM582 49h2v2h-2zM624 51h2v2h-2zM608 55h2v2h-2zM616 55h2v2h-2zM598 63h2v2h-2zM628 63h2v2h-2zM642 63h2v2h-2zM632 65h2v2h-2zM638 65h2v2h-2zM650 65h2v2h-2zM590 71h2v2h-2zM612 71h2v2h-2z"/>
<path fill="#8c3cb4" d="M620 37h2v2h-2zM596 41h2v2h-2zM578 43h2v2h-2zM596 43h2v2h-2zM642 43h2v2h-2zM578 47h2v2h-2zM652 51h2v2h-2zM590 53h2v2h-2zM574 59h2v2h-2zM578 61h2v2h-2zM646 61h2v2h-2zM576 63h2v2h-2zM584 65h2v2h-2zM614 65h2v2h-2zM626 65h2v2h-2zM598 69h2v2h-2zM578 71h2v2h-2zM604 73h2v2h-2zM586 75h2v2h-2z"/>
<path fill="#643cc8" d="M622 37h2v2h-2zM620 39h2v2h-2zM602 45h2v2h-2zM618 53h2v2h-2zM636 65h2v2h-2zM640 65h2v2h-2zM586 73h2v2h-2z"/>
<path fill="#a03cb4" d="M628 37h2v2h-2zM632 37h2v2h-2zM634 37h2v2h-2zM610 39h2v2h-2zM640 39h2v2h-2zM648 39h2v2h-2zM590 41h2v2h-2zM620 41h2v2h-2zM630 41h2v2h-2zM620 43h2v2h-2zM634 43h2v2h-2zM644 43h2v2h-2zM628 45h2v2h-2zM634 45h2v2h-2zM594 47h2v2h-2zM600 49h2v2h-2zM622 49h2v2h-2zM642 49h2v2h-2zM598 53h2v2h-2zM600 53h2v2h-2zM606 53h2v2h-2zM596 55h2v2h-2zM652 55h2v2h-2zM580 59h2v2h-2zM584 59h2v2h-2zM600 59h2v2h-2zM630 59h2v2h-2zM648 59h2v2h-2zM572 61h2v2h-2zM648 61h2v2h-2zM634 63h2v2h-2zM628 65h2v2h-2zM644 65h2v2h-2zM628 67h2v2h-2z"/>
<path fill="#f03ca0" d="M630 37h2v2h-2zM582 43h2v2h-2zM648 47h2v2h-2zM626 55h2v2h-2zM572 57h2v2h-2zM588 63h2v2h-2zM608 65h2v2h-2zM592 67h2v2h-2z"/>
<path fill="#7850c8" d="M640 37h2v2h-2zM648 37h2v2h-2zM634 39h2v2h-2zM640 41h2v2h-2zM636 45h2v2h-2zM648 45h2v2h-2zM610 47h2v2h-2zM578 59h2v2h-2zM640 59h2v2h-2zM636 61h2v2h-2zM580 63h2v2h-2z"/>
<path fill="#6450dc" d="M644 37h2v2h-2zM590 61h2v2h-2zM622 65h2v2h-2zM580 69h2v2h-2z"/>
<path fill="#c828a0" d="M650 37h2v2h-2zM620 45h2v2h-2zM586 51h2v2h-2zM646 53h2v2h-2zM592 57h2v2h-2zM626 57h2v2h-2zM628 59h2v2h-2zM622 63h2v2h-2zM642 71h2v2h-2zM590 73h2v2h-2z"/>
<path fill="#a03ca0" d="M582 39h2v2h-2zM592 39h2v2h-2zM602 39h2v2h-2zM650 43h2v2h-2zM650 45h2v2h-2zM588 47h2v2h-2zM620 49h2v2h-2zM598 61h2v2h-2zM618 67h2v2h-2zM636 67h2v2h-2zM580 73h2v2h-2z"/>
<path fill="#a03cdc" d="M586 39h2v2h-2zM598 39h2v2h-2zM652 45h2v2h-2zM630 47h2v2h-2zM616 49h2v2h-2zM652 61h2v2h-2zM650 67h2v2h-2z"/>
<path fill="#f03cb4" d="M600 39h2v2h-2zM586 43h2v2h-2z"/>
<path fill="#78a078" d="M604 39h2v2h-2zM600 41h2v2h-2zM642 41h2v2h-2zM576 47h2v2h-2zM622 51h2v2h-2zM628 53h2v2h-2zM614 63h2v2h-2zM618 63h2v2h-2zM574 65h2v2h-2z"/>
<path fill="#a03cc8" d="M606 39h2v2h-2zM624 39h2v2h-2zM638 41h2v2h-2zM644 41h2v2h-2zM580 43h2v2h-2zM600 43h2v2h-2zM638 47h2v2h-2zM584 51h2v2h-2zM582 55h2v2h-2zM620 55h2v2h-2zM588 61h2v2h-2z"/>
<path fill="#a050b4" d="M608 39h2v2h-2zM610 43h2v2h-2zM628 43h2v2h-2zM572 49h2v2h-2zM636 51h2v2h-2zM650 55h2v2h-2zM632 61h2v2h-2zM608 63h2v2h-2z"/>
<path fill="#8c28a0" d="M614 39h2v2h-2zM604 41h2v2h-2zM608 45h2v2h-2zM610 49h2v2h-2zM644 49h2v2h-2zM618 51h2v2h-2zM586 55h2v2h-2zM622 55h2v2h-2zM646 57h2v2h-2zM618 69h2v2h-2zM642 69h2v2h-2zM622 71h2v2h-2z"/>
<path fill="#c864dc" d="M616 39h2v2h-2zM608 47h2v2h-2zM616 47h2v2h-2zM576 49h2v2h-2zM648 49h2v2h-2zM628 55h2v2h-2zM624 63h2v2h-2z"/>
<path fill="#c828b4" d="M618 39h2v2h-2zM622 41h2v2h-2zM592 45h2v2h-2zM626 53h2v2h-2zM594 65h2v2h-2zM576 69h2v2h-2z"/>
<path fill="#3ca08c" d="M626 39h2v2h-2zM602 47h2v2h-2zM574 49h2v2h-2zM642 59h2v2h-2z"/>
<path fill="#dc28a0" d="M628 39h2v2h-2zM596 45h2v2h-2zM624 45h2v2h-2zM580 53h2v2h-2z"/>
<path fill="#148c78" d="M630 39h2v2h-2zM644 53h2v2h-2z"/>
<path fill="#8c50c8" d="M632 39h2v2h-2zM576 43h2v2h-2zM598 43h2v2h-2zM582 45h2v2h-2zM628 47h2v2h-2zM646 49h2v2h-2zM586 57h2v2h-2zM616 59h2v2h-2zM578 63h2v2h-2zM626 63h2v2h-2zM646 69h2v2h-2zM602 73h2v2h-2z"/>
<path fill="#dc50b4" d="M636 39h2v2h-2zM644 39h2v2h-2zM626 51h2v2h-2zM590 57h2v2h-2zM618 57h2v2h-2zM576 59h2v2h-2zM586 61h2v2h-2z"/>
<path fill="#c83cb4" d="M642 39h2v2h-2zM646 41h2v2h-2zM582 57h2v2h-2zM622 57h2v2h-2zM628 61h2v2h-2zM620 65h2v2h-2zM632 67h2v2h-2zM602 69h2v2h-2zM644 69h2v2h-2zM602 71h2v2h-2zM644 73h2v2h-2z"/>
<path fill="#b43ca0" d="M650 39h2v2h-2zM572 59h2v2h-2z"/>
<path fill="#b450b4" d="M582 41h2v2h-2zM636 43h2v2h-2zM618 55h2v2h-2zM644 59h2v2h-2zM584 67h2v2h-2zM640 67h2v2h-2zM648 71h2v2h-2z"/>
<path fill="#643cdc" d="M588 41h2v2h-2zM606 43h2v2h-2zM620 53h2v2h-2zM644 55h2v2h-2z"/>
<path fill="#b464c8" d="M598 41h2v2h-2zM610 45h2v2h-2zM638 45h2v2h-2zM604 47h2v2h-2zM636 49h2v2h-2zM598 51h2v2h-2zM636 55h2v2h-2zM576 67h2v2h-2zM578 67h2v2h-2zM652 67h2v2h-2zM580 71h2v2h-2z"/>
<path fill="#dc3cb4" d="M606 41h2v2h-2zM612 41h2v2h-2zM592 43h2v2h-2zM632 45h2v2h-2zM644 47h2v2h-2zM588 49h2v2h-2zM646 51h2v2h-2zM576 55h2v2h-2zM624 65h2v2h-2zM614 71h2v2h-2z"/>
<path fill="#8c50b4" d="M610 41h2v2h-2zM604 57h2v2h-2zM642 61h2v2h-2zM646 63h2v2h-2zM596 67h2v2h-2zM634 73h2v2h-2z"/>
<path fill="#288c8c" d="M614 41h2v2h-2zM580 47h2v2h-2zM634 47h2v2h-2zM652 47h2v2h-2z"/>
<path fill="#a050dc" d="M626 41h2v2h-2zM628 41h2v2h-2zM606 45h2v2h-2zM578 49h2v2h-2zM576 51h2v2h-2zM588 57h2v2h-2zM580 65h2v2h-2z"/>
<path fill="#783cb4" d="M634 41h2v2h-2zM580 45h2v2h-2zM614 45h2v2h-2zM586 49h2v2h-2zM612 55h2v2h-2zM642 55h2v2h-2zM574 61h2v2h-2zM596 71h2v2h-2z"/>
<path fill="#64a078" d="M636 41h2v2h-2zM608 43h2v2h-2zM638 43h2v2h-2zM598 45h2v2h-2zM642 47h2v2h-2zM578 57h2v2h-2zM634 65h2v2h-2zM598 71h2v2h-2z"/>
<path fill="#b43cdc" d="M648 41h2v2h-2zM574 51h2v2h-2zM572 53h2v2h-2zM620 57h2v2h-2z"/>
<path fill="#78a08c" d="M650 41h2v2h-2zM646 43h2v2h-2zM630 63h2v2h-2zM630 67h2v2h-2z"/>
<path fill="#c850b4" d="M584 43h2v2h-2zM582 47h2v2h-2zM612 47h2v2h-2zM596 53h2v2h-2zM584 57h2v2h-2zM572 65h2v2h-2zM648 65h2v2h-2zM588 71h2v2h-2z"/>
<path fill="#f050b4" d="M594 43h2v2h-2zM614 47h2v2h-2zM650 59h2v2h-2z"/>
<path fill="#c850dc" d="M602 43h2v2h-2zM624 43h2v2h-2zM636 47h2v2h-2zM600 51h2v2h-2zM582 61h2v2h-2zM636 63h2v2h-2z"/>
<path fill="#b428a0" d="M618 43h2v2h-2z"/>
<path fill="#b450a0" d="M622 43h2v2h-2zM580 49h2v2h-2zM574 55h2v2h-2z"/>
<path fill="#dc3ca0" d="M626 43h2v2h-2zM592 47h2v2h-2zM608 49h2v2h-2zM602 51h2v2h-2zM584 55h2v2h-2zM600 55h2v2h-2zM582 59h2v2h-2zM612 61h2v2h-2zM634 61h2v2h-2zM590 65h2v2h-2zM600 65h2v2h-2zM612 65h2v2h-2zM642 65h2v2h-2zM574 67h2v2h-2zM648 67h2v2h-2zM616 71h2v2h-2zM630 73h2v2h-2z"/>
<path fill="#b428b4" d="M640 43h2v2h-2z"/>
<path fill="#a028b4" d="M574 45h2v2h-2zM578 45h2v2h-2zM618 45h2v2h-2zM602 49h2v2h-2zM580 51h2v2h-2zM648 51h2v2h-2zM628 57h2v2h-2zM650 57h2v2h-2zM610 59h2v2h-2zM620 61h2v2h-2zM608 67h2v2h-2zM610 71h2v2h-2zM584 73h2v2h-2zM606 73h2v2h-2z"/>
<path fill="#7850dc" d="M586 45h2v2h-2zM624 53h2v2h-2zM638 69h2v2h-2z"/>
<path fill="#788c8c" d="M588 45h2v2h-2zM600 45h2v2h-2zM646 47h2v2h-2zM606 49h2v2h-2zM624 55h2v2h-2zM620 63h2v2h-2zM582 67h2v2h-2zM582 69h2v2h-2z"/>
<path fill="#c850c8" d="M612 45h2v2h-2zM584 47h2v2h-2zM592 49h2v2h-2zM650 63h2v2h-2z"/>
<path fill="#788c78" d="M616 45h2v2h-2zM582 51h2v2h-2zM640 57h2v2h-2zM586 67h2v2h-2z"/>
<path fill="#6450c8" d="M574 47h2v2h-2zM590 47h2v2h-2zM588 53h2v2h-2z"/>
<path fill="#dc28b4" d="M626 47h2v2h-2zM584 49h2v2h-2zM630 61h2v2h-2zM586 69h2v2h-2z"/>
<path fill="#a064dc" d="M632 47h2v2h-2zM572 55h2v2h-2zM620 59h2v2h-2zM582 71h2v2h-2z"/>
<path fill="#14a078" d="M640 47h2v2h-2z"/>
<path fill="#7850b4" d="M590 49h2v2h-2zM594 57h2v2h-2zM626 61h2v2h-2zM572 63h2v2h-2zM584 69h2v2h-2zM612 69h2v2h-2zM606 71h2v2h-2z"/>
<path fill="#148c8c" d="M596 49h2v2h-2zM592 59h2v2h-2z"/>
<path fill="#783cdc" d="M612 49h2v2h-2zM572 51h2v2h-2zM650 51h2v2h-2zM592 53h2v2h-2zM594 53h2v2h-2zM580 57h2v2h-2zM624 61h2v2h-2zM616 69h2v2h-2zM592 71h2v2h-2z"/>
<path fill="#8c28b4" d="M624 49h2v2h-2zM594 51h2v2h-2zM622 53h2v2h-2zM592 55h2v2h-2zM624 57h2v2h-2zM602 59h2v2h-2zM638 59h2v2h-2zM648 63h2v2h-2zM642 67h2v2h-2zM588 69h2v2h-2zM632 69h2v2h-2zM594 71h2v2h-2zM646 73h2v2h-2z"/>
<path fill="#8c28c8" d="M626 49h2v2h-2zM578 51h2v2h-2zM582 65h2v2h-2zM586 65h2v2h-2z"/>
<path fill="#7828c8" d="M628 49h2v2h-2z"/>
<path fill="#f050a0" d="M630 49h2v2h-2zM584 53h2v2h-2zM602 53h2v2h-2zM604 55h2v2h-2zM602 57h2v2h-2zM608 59h2v2h-2zM604 65h2v2h-2zM606 65h2v2h-2zM614 69h2v2h-2z"/>
<path fill="#b43cb4" d="M632 49h2v2h-2zM592 51h2v2h-2zM580 55h2v2h-2zM590 59h2v2h-2zM594 67h2v2h-2zM608 71h2v2h-2z"/>
<path fill="#288c78" d="M640 49h2v2h-2zM582 53h2v2h-2zM632 63h2v2h-2z"/>
<path fill="#643cb4" d="M650 49h2v2h-2zM598 55h2v2h-2zM594 61h2v2h-2zM622 61h2v2h-2z"/>
<path fill="#8c3cdc" d="M652 49h2v2h-2zM608 57h2v2h-2zM616 67h2v2h-2z"/>
<path fill="#648c78" d="M590 51h2v2h-2zM652 53h2v2h-2zM590 55h2v2h-2zM594 73h2v2h-2z"/>
<path fill="#dc508c" d="M628 51h2v2h-2z"/>
<path fill="#c864c8" d="M644 51h2v2h-2z"/>
<path fill="#a028a0" d="M574 53h2v2h-2zM648 53h2v2h-2zM574 57h2v2h-2zM618 59h2v2h-2zM652 59h2v2h-2zM638 61h2v2h-2zM578 65h2v2h-2zM614 67h2v2h-2zM646 67h2v2h-2zM626 69h2v2h-2z"/>
<path fill="#c850a0" d="M586 53h2v2h-2zM594 55h2v2h-2zM648 55h2v2h-2zM584 61h2v2h-2zM602 65h2v2h-2z"/>
<path fill="#3ca078" d="M604 53h2v2h-2zM576 57h2v2h-2zM536 67h2v2h-2zM546 71h2v2h-2zM626 71h2v2h-2zM624 75h2v2h-2zM546 77h2v2h-2zM636 77h2v2h-2zM562 81h2v2h-2zM632 81h2v2h-2zM632 85h2v2h-2zM588 87h2v2h-2zM610 89h2v2h-2zM574 91h2v2h-2zM610 91h2v2h-2z"/>
<path fill="#28a08c" d="M650 53h2v2h-2zM596 59h2v2h-2zM626 59h2v2h-2zM588 65h2v2h-2zM604 69h2v2h-2z"/>
<path fill="#f0508c" d="M602 55h2v2h-2zM596 57h2v2h-2zM612 59h2v2h-2zM594 63h2v2h-2zM600 67h2v2h-2zM592 69h2v2h-2zM624 69h2v2h-2z"/>
<path fill="#ff78b4" d="M610 55h2v2h-2z"/>
<path fill="#f064a0" d="M598 57h2v2h-2zM598 59h2v2h-2zM596 61h2v2h-2zM600 61h2v2h-2zM604 61h2v2h-2zM606 61h2v2h-2zM616 61h2v2h-2zM602 63h2v2h-2zM604 67h2v2h-2z"/>
<path fill="#dc3c78" d="M606 57h2v2h-2z"/>
<path fill="#8c50dc" d="M614 57h2v2h-2z"/>
<path fill="#f03c8c" d="M642 57h2v2h-2zM586 63h2v2h-2zM610 67h2v2h-2z"/>
<path fill="#c8508c" d="M594 59h2v2h-2zM606 63h2v2h-2z"/>
<path fill="#dc64a0" d="M604 59h2v2h-2zM614 59h2v2h-2zM614 61h2v2h-2zM596 63h2v2h-2zM604 63h2v2h-2z"/>
<path fill="#f078b4" d="M606 59h2v2h-2z"/>
<path fill="#3c8c8c" d="M636 59h2v2h-2zM634 67h2v2h-2z"/>
<path fill="#8c8c3c" d="M532 61h2v2h-2zM622 69h2v2h-2zM614 73h2v2h-2zM638 73h2v2h-2zM602 75h2v2h-2zM606 75h2v2h-2zM608 75h2v2h-2zM624 77h2v2h-2zM566 79h2v2h-2zM624 79h2v2h-2zM596 83h2v2h-2zM590 89h2v2h-2zM596 91h2v2h-2zM600 91h2v2h-2zM646 93h2v2h-2zM616 95h2v2h-2zM640 95h2v2h-2z"/>
<path fill="#8c3ca0" d="M576 61h2v2h-2zM582 63h2v2h-2z"/>
<path fill="#f064b4" d="M602 61h2v2h-2zM598 65h2v2h-2z"/>
<path fill="#f0648c" d="M608 61h2v2h-2z"/>
<path fill="#ff64b4" d="M610 61h2v2h-2z"/>
<path fill="#b48c8c" d="M538 63h2v2h-2z"/>
<path fill="#ff64a0" d="M612 63h2v2h-2zM606 67h2v2h-2z"/>
<path fill="#dc648c" d="M616 63h2v2h-2z"/>
<path fill="#7828b4" d="M652 63h2v2h-2z"/>
<path fill="#78a050" d="M532 65h2v2h-2zM546 67h2v2h-2zM560 77h2v2h-2z"/>
<path fill="#787828" d="M534 65h2v2h-2zM538 71h2v2h-2zM548 71h2v2h-2zM552 71h2v2h-2zM620 71h2v2h-2zM538 73h2v2h-2zM620 73h2v2h-2zM624 73h2v2h-2zM648 73h2v2h-2zM554 75h2v2h-2zM600 79h2v2h-2zM576 83h2v2h-2zM616 83h2v2h-2zM618 85h2v2h-2zM644 85h2v2h-2zM586 87h2v2h-2zM594 87h2v2h-2zM604 87h2v2h-2zM602 91h2v2h-2zM604 91h2v2h-2zM588 95h2v2h-2zM598 95h2v2h-2z"/>
<path fill="#647814" d="M536 65h2v2h-2zM544 75h2v2h-2zM604 79h2v2h-2zM562 83h2v2h-2zM608 83h2v2h-2zM562 85h2v2h-2zM630 85h2v2h-2zM582 89h2v2h-2zM582 93h2v2h-2zM608 93h2v2h-2z"/>
<path fill="#8c8c28" d="M540 65h2v2h-2zM542 65h2v2h-2zM606 69h2v2h-2zM610 73h2v2h-2zM540 75h2v2h-2zM598 77h2v2h-2zM618 77h2v2h-2zM626 77h2v2h-2zM632 77h2v2h-2zM634 77h2v2h-2zM556 79h2v2h-2zM560 79h2v2h-2zM610 79h2v2h-2zM636 79h2v2h-2zM638 81h2v2h-2zM618 83h2v2h-2zM566 87h2v2h-2zM582 87h2v2h-2zM584 87h2v2h-2zM598 87h2v2h-2zM606 95h2v2h-2zM608 95h2v2h-2zM610 95h2v2h-2zM622 97h2v2h-2zM634 97h2v2h-2z"/>
<path fill="#508c50" d="M532 67h2v2h-2zM624 67h2v2h-2zM538 69h2v2h-2zM600 69h2v2h-2zM640 69h2v2h-2zM548 73h2v2h-2zM592 73h2v2h-2zM608 73h2v2h-2zM630 75h2v2h-2zM616 79h2v2h-2zM634 79h2v2h-2zM608 85h2v2h-2zM592 87h2v2h-2z"/>
<path fill="#788c28" d="M534 67h2v2h-2zM544 69h2v2h-2zM604 71h2v2h-2zM628 71h2v2h-2zM600 73h2v2h-2zM618 73h2v2h-2zM588 75h2v2h-2zM598 75h2v2h-2zM612 75h2v2h-2zM628 77h2v2h-2zM550 79h2v2h-2zM618 79h2v2h-2zM626 79h2v2h-2zM574 81h2v2h-2zM602 81h2v2h-2zM614 81h2v2h-2zM604 83h2v2h-2zM630 83h2v2h-2zM560 85h2v2h-2zM566 85h2v2h-2zM616 85h2v2h-2zM624 85h2v2h-2zM632 87h2v2h-2zM564 89h2v2h-2zM586 89h2v2h-2zM608 89h2v2h-2zM572 91h2v2h-2zM582 91h2v2h-2zM586 93h2v2h-2z"/>
<path fill="#648c28" d="M538 67h2v2h-2zM622 73h2v2h-2zM552 77h2v2h-2zM546 79h2v2h-2zM622 79h2v2h-2zM630 79h2v2h-2zM550 83h2v2h-2zM610 83h2v2h-2zM602 85h2v2h-2zM590 87h2v2h-2zM612 89h2v2h-2zM580 91h2v2h-2zM598 93h2v2h-2zM592 95h2v2h-2z"/>
<path fill="#28a064" d="M540 67h2v2h-2zM612 93h2v2h-2zM626 95h2v2h-2z"/>
<path fill="#648c3c" d="M542 67h2v2h-2zM580 67h2v2h-2zM540 69h2v2h-2zM648 69h2v2h-2zM624 71h2v2h-2zM554 73h2v2h-2zM634 75h2v2h-2zM608 77h2v2h-2zM630 77h2v2h-2zM608 79h2v2h-2zM594 81h2v2h-2zM610 81h2v2h-2zM634 81h2v2h-2zM620 83h2v2h-2zM556 85h2v2h-2zM570 85h2v2h-2zM574 85h2v2h-2zM582 85h2v2h-2zM598 85h2v2h-2zM634 85h2v2h-2zM606 87h2v2h-2zM640 87h2v2h-2zM588 93h2v2h-2zM592 93h2v2h-2zM590 95h2v2h-2z"/>
<path fill="#3c8c78" d="M544 67h2v2h-2zM616 77h2v2h-2zM614 79h2v2h-2zM594 95h2v2h-2zM636 95h2v2h-2zM638 97h2v2h-2z"/>
<path fill="#788c3c" d="M588 67h2v2h-2zM622 67h2v2h-2zM594 69h2v2h-2zM630 69h2v2h-2zM636 69h2v2h-2zM550 71h2v2h-2zM584 71h2v2h-2zM634 71h2v2h-2zM646 71h2v2h-2zM540 73h2v2h-2zM598 73h2v2h-2zM626 73h2v2h-2zM560 75h2v2h-2zM620 75h2v2h-2zM604 77h2v2h-2zM544 79h2v2h-2zM552 79h2v2h-2zM564 79h2v2h-2zM548 81h2v2h-2zM564 81h2v2h-2zM572 81h2v2h-2zM606 81h2v2h-2zM620 81h2v2h-2zM626 81h2v2h-2zM600 83h2v2h-2zM622 83h2v2h-2zM624 83h2v2h-2zM626 83h2v2h-2zM632 83h2v2h-2zM554 85h2v2h-2zM606 85h2v2h-2zM638 85h2v2h-2zM640 85h2v2h-2zM558 87h2v2h-2zM564 87h2v2h-2zM620 87h2v2h-2zM622 87h2v2h-2zM642 87h2v2h-2zM566 89h2v2h-2zM592 89h2v2h-2zM600 89h2v2h-2zM606 89h2v2h-2zM636 89h2v2h-2zM588 91h2v2h-2zM614 91h2v2h-2zM622 95h2v2h-2z"/>
<path fill="#3c8c50" d="M598 67h2v2h-2z"/>
<path fill="#78783c" d="M626 67h2v2h-2zM536 69h2v2h-2zM574 69h2v2h-2zM578 69h2v2h-2zM636 71h2v2h-2zM638 71h2v2h-2zM558 73h2v2h-2zM636 73h2v2h-2zM616 75h2v2h-2zM542 77h2v2h-2zM600 77h2v2h-2zM606 77h2v2h-2zM612 79h2v2h-2zM570 83h2v2h-2zM606 83h2v2h-2zM568 85h2v2h-2zM572 85h2v2h-2zM586 85h2v2h-2zM588 85h2v2h-2zM628 85h2v2h-2zM602 87h2v2h-2zM610 87h2v2h-2zM584 89h2v2h-2zM602 89h2v2h-2zM598 91h2v2h-2zM616 93h2v2h-2zM626 97h2v2h-2z"/>
<path fill="#50a064" d="M638 67h2v2h-2zM640 73h2v2h-2zM642 73h2v2h-2zM556 77h2v2h-2zM590 77h2v2h-2zM592 77h2v2h-2zM638 79h2v2h-2zM610 85h2v2h-2zM570 87h2v2h-2zM580 89h2v2h-2zM642 89h2v2h-2z"/>
<path fill="#64a050" d="M542 69h2v2h-2zM568 79h2v2h-2zM624 81h2v2h-2zM620 85h2v2h-2zM638 89h2v2h-2zM590 91h2v2h-2z"/>
<path fill="#64783c" d="M548 69h2v2h-2zM590 69h2v2h-2zM650 69h2v2h-2zM628 73h2v2h-2zM614 89h2v2h-2zM618 89h2v2h-2zM576 91h2v2h-2zM632 97h2v2h-2z"/>
<path fill="#3ca050" d="M596 69h2v2h-2z"/>
<path fill="#647828" d="M608 69h2v2h-2zM536 71h2v2h-2zM556 73h2v2h-2zM588 73h2v2h-2zM602 77h2v2h-2zM612 77h2v2h-2zM548 79h2v2h-2zM558 79h2v2h-2zM602 79h2v2h-2zM628 79h2v2h-2zM632 79h2v2h-2zM612 81h2v2h-2zM636 81h2v2h-2zM580 87h2v2h-2zM612 87h2v2h-2zM588 89h2v2h-2zM578 93h2v2h-2zM590 93h2v2h-2zM600 93h2v2h-2z"/>
<path fill="#50a050" d="M610 69h2v2h-2zM584 75h2v2h-2zM634 93h2v2h-2z"/>
<path fill="#8ca028" d="M540 71h2v2h-2zM616 73h2v2h-2zM552 83h2v2h-2zM596 85h2v2h-2zM600 85h2v2h-2zM622 85h2v2h-2zM606 91h2v2h-2zM636 93h2v2h-2z"/>
<path fill="#507850" d="M542 71h2v2h-2zM604 93h2v2h-2z"/>
<path fill="#787814" d="M544 71h2v2h-2zM558 81h2v2h-2zM640 91h2v2h-2zM642 91h2v2h-2zM596 93h2v2h-2zM636 97h2v2h-2z"/>
<path fill="#3cb464" d="M554 71h2v2h-2zM614 75h2v2h-2zM586 95h2v2h-2z"/>
<path fill="#8c783c" d="M618 71h2v2h-2zM552 73h2v2h-2zM596 73h2v2h-2zM558 75h2v2h-2zM564 77h2v2h-2zM618 81h2v2h-2zM628 81h2v2h-2zM580 83h2v2h-2zM612 85h2v2h-2zM638 91h2v2h-2zM628 97h2v2h-2z"/>
<path fill="#508c64" d="M644 71h2v2h-2zM592 75h2v2h-2zM594 75h2v2h-2z"/>
<path fill="#3cb478" d="M542 73h2v2h-2z"/>
<path fill="#8c7850" d="M550 73h2v2h-2zM636 91h2v2h-2zM624 97h2v2h-2z"/>
<path fill="#28b478" d="M612 73h2v2h-2zM594 83h2v2h-2zM602 93h2v2h-2z"/>
<path fill="#648c64" d="M632 73h2v2h-2z"/>
<path fill="#787850" d="M546 75h2v2h-2zM604 85h2v2h-2zM576 93h2v2h-2zM594 93h2v2h-2z"/>
<path fill="#788c50" d="M582 75h2v2h-2zM590 75h2v2h-2zM596 75h2v2h-2zM634 83h2v2h-2zM608 87h2v2h-2zM638 87h2v2h-2zM594 89h2v2h-2z"/>
<path fill="#c878a0" d="M600 75h2v2h-2z"/>
<path fill="#8c7828" d="M604 75h2v2h-2zM632 75h2v2h-2zM620 79h2v2h-2zM560 83h2v2h-2zM602 83h2v2h-2zM614 83h2v2h-2zM614 85h2v2h-2zM626 85h2v2h-2zM570 89h2v2h-2zM632 95h2v2h-2zM634 95h2v2h-2z"/>
<path fill="#50a078" d="M610 75h2v2h-2zM618 95h2v2h-2z"/>
<path fill="#647850" d="M618 75h2v2h-2zM556 83h2v2h-2zM572 83h2v2h-2zM612 83h2v2h-2zM564 85h2v2h-2zM628 89h2v2h-2zM616 91h2v2h-2zM640 93h2v2h-2zM630 97h2v2h-2z"/>
<path fill="#3c8c64" d="M622 75h2v2h-2zM588 77h2v2h-2zM584 85h2v2h-2zM618 87h2v2h-2z"/>
<path fill="#8c8c50" d="M626 75h2v2h-2zM610 77h2v2h-2zM578 83h2v2h-2zM576 89h2v2h-2zM620 95h2v2h-2z"/>
<path fill="#a08c3c" d="M628 75h2v2h-2zM592 91h2v2h-2zM614 93h2v2h-2z"/>
<path fill="#648c50" d="M550 77h2v2h-2zM562 77h2v2h-2zM598 79h2v2h-2zM550 81h2v2h-2zM598 83h2v2h-2zM568 87h2v2h-2zM574 89h2v2h-2zM584 91h2v2h-2zM608 91h2v2h-2zM644 91h2v2h-2zM606 93h2v2h-2zM618 93h2v2h-2zM604 95h2v2h-2zM612 95h2v2h-2z"/>
<path fill="#a08c28" d="M614 77h2v2h-2zM622 81h2v2h-2zM574 83h2v2h-2zM576 87h2v2h-2zM600 87h2v2h-2zM602 95h2v2h-2zM638 95h2v2h-2zM644 95h2v2h-2z"/>
<path fill="#3ca064" d="M620 77h2v2h-2zM630 81h2v2h-2zM592 83h2v2h-2zM642 85h2v2h-2zM604 89h2v2h-2zM616 89h2v2h-2z"/>
<path fill="#64a03c" d="M622 77h2v2h-2zM596 81h2v2h-2zM636 85h2v2h-2zM598 89h2v2h-2zM610 93h2v2h-2zM644 93h2v2h-2zM614 95h2v2h-2z"/>
<path fill="#788c14" d="M606 79h2v2h-2zM566 83h2v2h-2zM590 85h2v2h-2zM614 87h2v2h-2z"/>
<path fill="#8ca03c" d="M566 81h2v2h-2zM598 81h2v2h-2zM604 81h2v2h-2zM616 81h2v2h-2zM638 83h2v2h-2zM558 85h2v2h-2zM646 91h2v2h-2zM620 93h2v2h-2zM638 93h2v2h-2zM642 95h2v2h-2z"/>
<path fill="#508c3c" d="M600 81h2v2h-2zM558 83h2v2h-2zM646 89h2v2h-2z"/>
<path fill="#78a03c" d="M608 81h2v2h-2zM596 87h2v2h-2zM634 87h2v2h-2zM578 91h2v2h-2zM596 95h2v2h-2z"/>
<path fill="#648c14" d="M640 81h2v2h-2zM586 91h2v2h-2z"/>
<path fill="#50b478" d="M554 83h2v2h-2z"/>
<path fill="#78a028" d="M628 83h2v2h-2zM618 91h2v2h-2z"/>
<path fill="#a0a03c" d="M636 83h2v2h-2zM640 83h2v2h-2zM618 97h2v2h-2z"/>
<path fill="#a0a0a0" d="M642 83h2v2h-2z"/>
<path fill="#508c78" d="M592 85h2v2h-2zM644 89h2v2h-2z"/>
<path fill="#b478a0" d="M594 85h2v2h-2z"/>
<path fill="#50a03c" d="M578 87h2v2h-2z"/>
<path fill="#a08c50" d="M616 87h2v2h-2z"/>
<path fill="#dca0b4" d="M624 87h2v2h-2zM630 89h2v2h-2zM630 91h2v2h-2zM624 93h2v2h-2z"/>
<path fill="#c8a0b4" d="M626 87h2v2h-2zM626 89h2v2h-2zM632 91h2v2h-2z"/>
<path fill="#f0a0b4" d="M628 87h2v2h-2zM630 87h2v2h-2zM634 89h2v2h-2zM626 91h2v2h-2zM628 91h2v2h-2zM634 91h2v2h-2zM630 93h2v2h-2zM632 93h2v2h-2z"/>
<path fill="#a0788c" d="M636 87h2v2h-2z"/>
<path fill="#a0a08c" d="M644 87h2v2h-2z"/>
<path fill="#b4a0a0" d="M596 89h2v2h-2z"/>
<path fill="#dc8cc8" d="M620 89h2v2h-2zM632 89h2v2h-2zM628 93h2v2h-2z"/>
<path fill="#f0a0c8" d="M622 89h2v2h-2zM624 91h2v2h-2z"/>
<path fill="#c8a0c8" d="M624 89h2v2h-2z"/>
<path fill="#8ca050" d="M640 89h2v2h-2z"/>
<path fill="#c8788c" d="M594 91h2v2h-2z"/>
<path fill="#50b464" d="M612 91h2v2h-2z"/>
<path fill="#dc8cb4" d="M620 91h2v2h-2z"/>
<path fill="#dca0c8" d="M622 91h2v2h-2zM626 93h2v2h-2z"/>
<path fill="#b4788c" d="M584 93h2v2h-2z"/>
<path fill="#f08cb4" d="M622 93h2v2h-2z"/>
<path fill="#28b464" d="M642 93h2v2h-2z"/>
<path fill="#a07850" d="M584 95h2v2h-2z"/>
<path fill="#288c64" d="M600 95h2v2h-2z"/>
<path fill="#c8b4b4" d="M624 95h2v2h-2z"/>
<path fill="#dcb4b4" d="M628 95h2v2h-2z"/>
<path fill="#dcb4c8" d="M630 95h2v2h-2z"/>
<path fill="#50783c" d="M620 97h2v2h-2z"/>
<path fill="#c8a08c" d="M640 97h2v2h-2z"/>
<path fill="#a07828" d="M642 97h2v2h-2z"/></g>
<text x="1.0" y="141.4" font-size="14.5" font-weight="bold" fill="#000" stroke="#000" stroke-width="0.7">e</text>
<text x="86.2" y="143.9" font-size="9.8" font-style="italic"><tspan textLength="17.9" lengthAdjust="spacingAndGlyphs">Apc</tspan></text>
<text x="104.8" y="139.8" font-size="7" font-style="italic" textLength="11" lengthAdjust="spacingAndGlyphs">fl/fl</text>
<text x="271.5" y="144" font-size="9.8" font-style="italic" textLength="17.9" lengthAdjust="spacingAndGlyphs">Apc</text>
<text x="290.1" y="139.9" font-size="7" font-style="italic" textLength="9.2" lengthAdjust="spacingAndGlyphs">fl/fl</text>
<text x="301.8" y="144" font-size="9.8" font-style="italic" textLength="22.5" lengthAdjust="spacingAndGlyphs">Kras</text>
<text x="324.8" y="139.9" font-size="7" font-style="italic" textLength="26" lengthAdjust="spacingAndGlyphs">G12D/+</text>
<text x="505" y="144" font-size="9.8" textLength="73.6" lengthAdjust="spacingAndGlyphs" stroke="#231f20" stroke-width="0.25">Wild-type colon</text>
<rect x="1" y="151.1" width="199.8" height="1.3" fill="#3a3a3a"/>
<rect x="210.3" y="151.1" width="199.1" height="1.3" fill="#3a3a3a"/>
<rect x="424" y="151.1" width="236.0" height="1.3" fill="#3a3a3a"/>
<text x="35" y="163.4" font-size="9.6" text-anchor="middle" stroke="#231f20" stroke-width="0.25">1</text>
<text x="165.4" y="163.4" font-size="9.6" text-anchor="middle" stroke="#231f20" stroke-width="0.25">2</text>
<text x="264.6" y="163.4" font-size="9.6" text-anchor="middle" stroke="#231f20" stroke-width="0.25">1</text>
<text x="375.5" y="163.4" font-size="9.6" text-anchor="middle" stroke="#231f20" stroke-width="0.25">2</text>
<text x="479.6" y="163.4" font-size="9.6" text-anchor="middle" stroke="#231f20" stroke-width="0.25">1</text>
<text x="606.3" y="163.4" font-size="9.6" text-anchor="middle" stroke="#231f20" stroke-width="0.25">2</text>
<rect x="1" y="169" width="199.9" height="86.2" fill="#000"/>
<rect x="210.2" y="169" width="200.0" height="86.2" fill="#000"/>
<rect x="424.7" y="169" width="111.5" height="86.2" fill="#000"/>
<rect x="550.7" y="169" width="111.5" height="86.2" fill="#000"/>
<g fill="#f7841c"><circle cx="38.1" cy="169.9" r="0.90"/><circle cx="38.9" cy="169.9" r="0.90"/><circle cx="38.6" cy="170.9" r="0.90"/><circle cx="38.8" cy="172.0" r="0.90"/><circle cx="38.2" cy="171.8" r="0.90"/><circle cx="39.2" cy="173.0" r="0.90"/><circle cx="39.1" cy="173.2" r="0.90"/><circle cx="38.8" cy="174.8" r="0.90"/><circle cx="38.6" cy="175.8" r="0.90"/><circle cx="39.5" cy="175.4" r="0.90"/><circle cx="38.6" cy="176.8" r="0.90"/><circle cx="39.9" cy="177.4" r="0.90"/><circle cx="39.2" cy="178.2" r="0.90"/><circle cx="39.2" cy="178.7" r="0.90"/><circle cx="39.9" cy="179.7" r="0.90"/><circle cx="39.8" cy="180.2" r="0.90"/><circle cx="40.0" cy="181.2" r="0.90"/><circle cx="40.2" cy="181.4" r="0.90"/><circle cx="40.8" cy="182.8" r="0.90"/><circle cx="40.4" cy="183.0" r="0.90"/><circle cx="40.7" cy="184.5" r="0.90"/><circle cx="39.6" cy="184.6" r="0.90"/><circle cx="40.2" cy="185.8" r="0.90"/><circle cx="40.3" cy="186.1" r="0.90"/><circle cx="40.1" cy="187.1" r="0.90"/><circle cx="39.3" cy="187.7" r="0.90"/><circle cx="39.9" cy="188.7" r="0.90"/><circle cx="39.3" cy="189.1" r="0.90"/><circle cx="39.2" cy="189.4" r="0.90"/><circle cx="40.6" cy="190.2" r="0.90"/><circle cx="40.3" cy="191.1" r="0.90"/><circle cx="41.3" cy="191.9" r="0.90"/><circle cx="41.4" cy="192.3" r="0.90"/><circle cx="42.0" cy="193.3" r="0.90"/><circle cx="42.7" cy="193.2" r="0.90"/><circle cx="43.3" cy="193.0" r="0.90"/><circle cx="43.5" cy="194.1" r="0.90"/><circle cx="45.2" cy="194.3" r="0.90"/><circle cx="45.2" cy="194.1" r="0.90"/><circle cx="46.0" cy="195.4" r="0.90"/><circle cx="47.0" cy="195.1" r="0.90"/><circle cx="47.8" cy="195.1" r="0.90"/><circle cx="48.0" cy="196.2" r="0.90"/><circle cx="48.6" cy="196.2" r="0.90"/><circle cx="48.7" cy="196.8" r="0.90"/><circle cx="50.0" cy="196.7" r="0.90"/><circle cx="50.3" cy="198.2" r="0.90"/><circle cx="51.0" cy="198.7" r="0.90"/><circle cx="51.4" cy="198.9" r="0.90"/><circle cx="51.6" cy="199.4" r="0.90"/><circle cx="51.5" cy="200.4" r="0.90"/><circle cx="52.5" cy="200.2" r="0.90"/><circle cx="52.9" cy="201.1" r="0.90"/><circle cx="53.2" cy="201.5" r="0.90"/><circle cx="53.8" cy="202.4" r="0.90"/><circle cx="54.4" cy="202.7" r="0.90"/><circle cx="54.1" cy="203.0" r="0.90"/><circle cx="54.7" cy="204.0" r="0.90"/><circle cx="56.0" cy="204.8" r="0.90"/><circle cx="56.4" cy="205.4" r="0.90"/><circle cx="55.9" cy="206.1" r="0.90"/><circle cx="56.6" cy="205.9" r="0.90"/><circle cx="56.1" cy="206.6" r="0.90"/><circle cx="57.2" cy="207.6" r="0.90"/><circle cx="56.6" cy="208.7" r="0.90"/><circle cx="57.1" cy="208.8" r="0.90"/><circle cx="57.1" cy="210.0" r="0.90"/><circle cx="57.1" cy="210.4" r="0.90"/><circle cx="57.8" cy="211.4" r="0.90"/><circle cx="57.4" cy="212.1" r="0.90"/><circle cx="57.1" cy="212.7" r="0.90"/><circle cx="57.6" cy="213.2" r="0.90"/><circle cx="57.3" cy="214.8" r="0.90"/><circle cx="57.8" cy="214.7" r="0.90"/><circle cx="58.1" cy="216.1" r="0.90"/><circle cx="57.6" cy="215.9" r="0.90"/><circle cx="57.9" cy="217.4" r="0.90"/><circle cx="58.1" cy="218.1" r="0.90"/><circle cx="58.9" cy="218.6" r="0.90"/><circle cx="58.5" cy="219.9" r="0.90"/><circle cx="59.4" cy="220.0" r="0.90"/><circle cx="58.8" cy="220.9" r="0.90"/><circle cx="59.2" cy="221.6" r="0.90"/><circle cx="59.3" cy="222.5" r="0.90"/><circle cx="59.1" cy="222.8" r="0.90"/><circle cx="60.4" cy="224.3" r="0.90"/></g>
<g fill="#3a86c8"><circle cx="40.0" cy="186.5" r="0.60"/><circle cx="39.2" cy="186.2" r="0.60"/><circle cx="40.4" cy="187.6" r="0.60"/><circle cx="40.4" cy="187.8" r="0.60"/><circle cx="40.5" cy="188.9" r="0.60"/><circle cx="40.7" cy="189.0" r="0.60"/><circle cx="40.8" cy="190.0" r="0.60"/><circle cx="41.4" cy="191.4" r="0.60"/><circle cx="41.9" cy="191.5" r="0.60"/><circle cx="41.5" cy="191.9" r="0.60"/><circle cx="41.2" cy="192.3" r="0.60"/><circle cx="42.0" cy="193.3" r="0.60"/><circle cx="42.5" cy="194.3" r="0.60"/><circle cx="43.4" cy="194.2" r="0.60"/><circle cx="43.7" cy="193.9" r="0.60"/><circle cx="44.5" cy="194.4" r="0.60"/><circle cx="45.3" cy="195.8" r="0.60"/><circle cx="46.2" cy="195.1" r="0.60"/><circle cx="47.1" cy="196.2" r="0.60"/><circle cx="47.6" cy="196.7" r="0.60"/><circle cx="48.3" cy="196.8" r="0.60"/><circle cx="48.4" cy="197.6" r="0.60"/><circle cx="49.7" cy="197.1" r="0.60"/><circle cx="50.0" cy="198.3" r="0.60"/><circle cx="50.2" cy="198.5" r="0.60"/><circle cx="50.8" cy="199.5" r="0.60"/><circle cx="51.3" cy="199.9" r="0.60"/><circle cx="51.7" cy="200.5" r="0.60"/><circle cx="52.9" cy="200.5" r="0.60"/><circle cx="53.1" cy="201.5" r="0.60"/><circle cx="53.7" cy="201.6" r="0.60"/><circle cx="53.5" cy="202.0" r="0.60"/><circle cx="54.6" cy="202.5" r="0.60"/><circle cx="55.2" cy="203.2" r="0.60"/><circle cx="55.7" cy="203.9" r="0.60"/><circle cx="56.2" cy="205.0" r="0.60"/><circle cx="56.1" cy="205.4" r="0.60"/><circle cx="56.7" cy="206.1" r="0.60"/><circle cx="56.4" cy="206.4" r="0.60"/><circle cx="56.7" cy="208.0" r="0.60"/><circle cx="56.9" cy="207.7" r="0.60"/><circle cx="57.3" cy="209.3" r="0.60"/><circle cx="57.5" cy="209.4" r="0.60"/><circle cx="57.4" cy="210.0" r="0.60"/><circle cx="57.4" cy="211.0" r="0.60"/><circle cx="57.0" cy="212.5" r="0.60"/><circle cx="56.9" cy="212.8" r="0.60"/><circle cx="57.9" cy="213.2" r="0.60"/><circle cx="57.2" cy="214.7" r="0.60"/><circle cx="57.6" cy="215.3" r="0.60"/><circle cx="57.2" cy="215.6" r="0.60"/><circle cx="57.4" cy="216.7" r="0.60"/><circle cx="57.4" cy="217.8" r="0.60"/></g>
<path d="M34.0,214.0 C34.6,212.6 35.8,211.8 37.0,211.5 C38.2,211.2 39.8,211.4 41.0,212.0 C42.2,212.6 43.4,213.3 44.0,215.0 C44.6,216.7 44.3,219.5 44.5,222.0 C44.7,224.5 45.1,227.5 45.0,230.0 C44.9,232.5 44.7,235.2 44.0,237.0 C43.3,238.8 42.2,240.2 41.0,241.0 C39.8,241.8 38.1,242.0 37.0,241.5 C35.9,241.0 35.1,239.9 34.5,238.0 C33.9,236.1 33.7,233.0 33.5,230.0 C33.3,227.0 33.4,222.7 33.5,220.0 C33.6,217.3 33.4,215.4 34.0,214.0 Z" fill="#3aa83a"/>
<ellipse cx="42.3" cy="229" rx="1.3" ry="5.5" fill="#111"/>
<g fill="#2a8a2a"><rect x="34.1" y="216.1" width="1.0" height="1.0"/><rect x="38.3" y="232.1" width="1.0" height="1.0"/><rect x="35.5" y="216.1" width="1.0" height="1.0"/><rect x="36.5" y="234.2" width="1.0" height="1.0"/><rect x="35.6" y="233.7" width="1.0" height="1.0"/><rect x="41.3" y="216.8" width="1.0" height="1.0"/><rect x="39.9" y="225.5" width="1.0" height="1.0"/><rect x="38.5" y="240.9" width="1.0" height="1.0"/><rect x="35.0" y="213.6" width="1.0" height="1.0"/><rect x="44.3" y="224.3" width="1.0" height="1.0"/><rect x="36.2" y="222.2" width="1.0" height="1.0"/><rect x="38.0" y="239.7" width="1.0" height="1.0"/><rect x="36.3" y="219.1" width="1.0" height="1.0"/><rect x="40.4" y="228.3" width="1.0" height="1.0"/><rect x="44.5" y="236.5" width="1.0" height="1.0"/><rect x="37.9" y="218.7" width="1.0" height="1.0"/><rect x="43.2" y="240.7" width="1.0" height="1.0"/><rect x="34.3" y="233.6" width="1.0" height="1.0"/><rect x="43.6" y="231.2" width="1.0" height="1.0"/><rect x="36.4" y="235.3" width="1.0" height="1.0"/><rect x="42.0" y="218.4" width="1.0" height="1.0"/><rect x="41.0" y="219.1" width="1.0" height="1.0"/><rect x="34.5" y="222.4" width="1.0" height="1.0"/><rect x="37.7" y="224.1" width="1.0" height="1.0"/><rect x="41.1" y="236.4" width="1.0" height="1.0"/><rect x="44.6" y="240.3" width="1.0" height="1.0"/><rect x="44.9" y="235.1" width="1.0" height="1.0"/><rect x="37.4" y="217.9" width="1.0" height="1.0"/><rect x="40.9" y="228.3" width="1.0" height="1.0"/><rect x="41.4" y="215.6" width="1.0" height="1.0"/></g>
<g fill="#3a86c8"><circle cx="41.7" cy="208.1" r="1.10"/><circle cx="42.3" cy="208.7" r="1.10"/><circle cx="43.0" cy="208.6" r="1.10"/><circle cx="42.7" cy="210.1" r="1.10"/><circle cx="43.4" cy="210.0" r="1.10"/><circle cx="44.7" cy="210.8" r="1.10"/><circle cx="45.0" cy="211.4" r="1.10"/><circle cx="45.2" cy="211.6" r="1.10"/><circle cx="45.0" cy="213.2" r="1.10"/><circle cx="44.8" cy="213.8" r="1.10"/><circle cx="44.8" cy="213.7" r="1.10"/><circle cx="44.8" cy="215.1" r="1.10"/><circle cx="44.1" cy="215.2" r="1.10"/><circle cx="44.7" cy="216.5" r="1.10"/><circle cx="44.4" cy="217.7" r="1.10"/><circle cx="44.3" cy="218.5" r="1.10"/><circle cx="44.3" cy="218.9" r="1.10"/><circle cx="44.8" cy="219.7" r="1.10"/><circle cx="45.7" cy="219.2" r="1.10"/><circle cx="45.3" cy="219.9" r="1.10"/><circle cx="46.7" cy="220.8" r="1.10"/><circle cx="46.7" cy="221.2" r="1.10"/><circle cx="47.0" cy="221.9" r="1.10"/><circle cx="46.7" cy="222.8" r="1.10"/><circle cx="46.9" cy="223.9" r="1.10"/><circle cx="46.9" cy="224.7" r="1.10"/><circle cx="47.1" cy="225.5" r="1.10"/><circle cx="46.8" cy="225.2" r="1.10"/><circle cx="46.9" cy="226.9" r="1.10"/><circle cx="46.8" cy="227.2" r="1.10"/><circle cx="46.5" cy="227.5" r="1.10"/><circle cx="46.6" cy="228.6" r="1.10"/><circle cx="45.8" cy="228.7" r="1.10"/><circle cx="46.4" cy="230.6" r="1.10"/><circle cx="45.9" cy="230.9" r="1.10"/><circle cx="46.7" cy="230.7" r="1.10"/><circle cx="47.0" cy="232.0" r="1.10"/><circle cx="48.2" cy="231.7" r="1.10"/><circle cx="48.3" cy="232.3" r="1.10"/><circle cx="48.8" cy="233.2" r="1.10"/><circle cx="49.5" cy="234.6" r="1.10"/><circle cx="49.5" cy="235.1" r="1.10"/><circle cx="49.8" cy="234.5" r="1.10"/><circle cx="50.6" cy="234.9" r="1.10"/></g>
<g fill="#f7841c"><circle cx="43.7" cy="223.5" r="0.65"/><circle cx="44.2" cy="224.3" r="0.65"/><circle cx="44.1" cy="225.2" r="0.65"/><circle cx="45.5" cy="226.4" r="0.65"/><circle cx="45.7" cy="226.3" r="0.65"/><circle cx="45.7" cy="227.1" r="0.65"/><circle cx="45.6" cy="227.5" r="0.65"/><circle cx="45.4" cy="229.2" r="0.65"/><circle cx="45.8" cy="229.8" r="0.65"/><circle cx="45.5" cy="229.8" r="0.65"/><circle cx="44.6" cy="231.0" r="0.65"/><circle cx="44.8" cy="232.0" r="0.65"/><circle cx="44.7" cy="231.8" r="0.65"/><circle cx="44.1" cy="233.2" r="0.65"/><circle cx="44.6" cy="233.0" r="0.65"/><circle cx="45.2" cy="233.3" r="0.65"/><circle cx="46.3" cy="234.6" r="0.65"/><circle cx="46.5" cy="234.4" r="0.65"/></g>
<g fill="#f7841c"><circle cx="34.1" cy="212.3" r="0.75"/><circle cx="35.2" cy="212.3" r="0.75"/><circle cx="35.9" cy="212.1" r="0.75"/><circle cx="35.8" cy="211.4" r="0.75"/><circle cx="37.7" cy="211.4" r="0.75"/><circle cx="38.5" cy="210.5" r="0.75"/><circle cx="38.6" cy="211.0" r="0.75"/><circle cx="39.4" cy="211.8" r="0.75"/><circle cx="39.4" cy="211.7" r="0.75"/><circle cx="40.4" cy="212.8" r="0.75"/><circle cx="41.7" cy="212.3" r="0.75"/></g>
<g fill="#f7841c"><rect x="48.1" y="244.2" width="0.9" height="0.9"/><rect x="42.2" y="238.6" width="0.9" height="0.9"/><rect x="33.0" y="242.6" width="0.9" height="0.9"/><rect x="41.9" y="243.6" width="0.9" height="0.9"/><rect x="40.1" y="243.7" width="0.9" height="0.9"/><rect x="38.2" y="244.0" width="0.9" height="0.9"/><rect x="46.9" y="240.1" width="0.9" height="0.9"/><rect x="43.2" y="242.8" width="0.9" height="0.9"/><rect x="36.7" y="241.5" width="0.9" height="0.9"/><rect x="48.3" y="238.7" width="0.9" height="0.9"/><rect x="48.3" y="242.9" width="0.9" height="0.9"/><rect x="49.0" y="239.4" width="0.9" height="0.9"/><rect x="34.8" y="244.0" width="0.9" height="0.9"/><rect x="48.3" y="240.5" width="0.9" height="0.9"/><rect x="34.8" y="238.0" width="0.9" height="0.9"/><rect x="45.1" y="238.9" width="0.9" height="0.9"/><rect x="51.1" y="241.9" width="0.9" height="0.9"/><rect x="36.8" y="242.6" width="0.9" height="0.9"/><rect x="39.8" y="245.3" width="0.9" height="0.9"/><rect x="50.3" y="241.1" width="0.9" height="0.9"/><rect x="45.2" y="243.0" width="0.9" height="0.9"/><rect x="48.3" y="245.8" width="0.9" height="0.9"/><rect x="33.5" y="239.6" width="0.9" height="0.9"/><rect x="44.4" y="239.0" width="0.9" height="0.9"/><rect x="44.2" y="236.9" width="0.9" height="0.9"/></g>
<g fill="#f7841c"><rect x="39.2" y="174.8" width="0.9" height="0.9"/><rect x="43.5" y="173.9" width="0.9" height="0.9"/><rect x="42.0" y="177.4" width="0.9" height="0.9"/><rect x="35.8" y="179.1" width="0.9" height="0.9"/><rect x="35.5" y="178.2" width="0.9" height="0.9"/><rect x="35.9" y="174.1" width="0.9" height="0.9"/><rect x="40.5" y="182.9" width="0.9" height="0.9"/><rect x="36.6" y="175.7" width="0.9" height="0.9"/><rect x="43.2" y="184.4" width="0.9" height="0.9"/><rect x="42.5" y="177.8" width="0.9" height="0.9"/><rect x="47.7" y="173.6" width="0.9" height="0.9"/><rect x="46.2" y="176.5" width="0.9" height="0.9"/><rect x="36.9" y="174.4" width="0.9" height="0.9"/><rect x="39.0" y="182.8" width="0.9" height="0.9"/></g>
<line x1="69" y1="191.6" x2="59.7" y2="200.5" stroke="#ddd" stroke-width="0.7"/>
<text x="59.7" y="189" font-size="9.6" textLength="29.3" lengthAdjust="spacingAndGlyphs" fill="#fff" stroke="#fff" stroke-width="0.25">N. Adj.</text>
<line x1="22.5" y1="228.6" x2="32" y2="228.6" stroke="#ddd" stroke-width="0.7"/>
<text x="14.5" y="231" font-size="9.6" fill="#fff" stroke="#fff" stroke-width="0.25">T.</text>
<g fill="#f7841c"><circle cx="139.0" cy="209.9" r="1.20"/><circle cx="139.6" cy="209.4" r="1.20"/><circle cx="140.2" cy="208.7" r="1.20"/><circle cx="142.0" cy="208.5" r="1.20"/><circle cx="142.3" cy="208.6" r="1.20"/><circle cx="142.8" cy="208.5" r="1.20"/><circle cx="143.2" cy="208.7" r="1.20"/><circle cx="143.8" cy="207.8" r="1.20"/><circle cx="144.4" cy="207.7" r="1.20"/><circle cx="145.6" cy="208.2" r="1.20"/><circle cx="146.3" cy="207.0" r="1.20"/><circle cx="146.8" cy="207.8" r="1.20"/><circle cx="147.3" cy="207.1" r="1.20"/><circle cx="148.4" cy="206.9" r="1.20"/><circle cx="149.0" cy="206.7" r="1.20"/><circle cx="149.9" cy="206.4" r="1.20"/><circle cx="151.1" cy="206.1" r="1.20"/><circle cx="150.9" cy="205.2" r="1.20"/><circle cx="152.5" cy="205.5" r="1.20"/><circle cx="152.4" cy="205.8" r="1.20"/><circle cx="153.5" cy="205.3" r="1.20"/><circle cx="154.6" cy="204.6" r="1.20"/><circle cx="154.7" cy="205.0" r="1.20"/><circle cx="155.2" cy="204.7" r="1.20"/><circle cx="155.9" cy="204.4" r="1.20"/><circle cx="157.3" cy="204.4" r="1.20"/><circle cx="158.2" cy="203.7" r="1.20"/><circle cx="158.2" cy="203.0" r="1.20"/><circle cx="159.3" cy="203.2" r="1.20"/><circle cx="159.5" cy="203.5" r="1.20"/><circle cx="160.7" cy="203.2" r="1.20"/><circle cx="161.1" cy="202.5" r="1.20"/><circle cx="161.6" cy="202.6" r="1.20"/><circle cx="162.6" cy="202.6" r="1.20"/><circle cx="163.4" cy="203.0" r="1.20"/><circle cx="164.8" cy="202.2" r="1.20"/><circle cx="164.9" cy="202.1" r="1.20"/><circle cx="165.9" cy="203.0" r="1.20"/><circle cx="166.1" cy="202.7" r="1.20"/><circle cx="166.9" cy="201.7" r="1.20"/><circle cx="168.2" cy="202.0" r="1.20"/><circle cx="168.2" cy="202.1" r="1.20"/><circle cx="169.0" cy="202.0" r="1.20"/><circle cx="169.9" cy="201.9" r="1.20"/><circle cx="170.8" cy="201.7" r="1.20"/><circle cx="170.9" cy="201.4" r="1.20"/><circle cx="171.7" cy="201.9" r="1.20"/><circle cx="172.7" cy="202.2" r="1.20"/><circle cx="173.6" cy="202.1" r="1.20"/><circle cx="174.9" cy="201.3" r="1.20"/><circle cx="174.4" cy="201.3" r="1.20"/><circle cx="175.6" cy="201.8" r="1.20"/><circle cx="176.7" cy="201.5" r="1.20"/><circle cx="177.7" cy="201.0" r="1.20"/><circle cx="178.3" cy="201.3" r="1.20"/><circle cx="179.0" cy="201.0" r="1.20"/><circle cx="179.8" cy="201.8" r="1.20"/><circle cx="180.6" cy="201.6" r="1.20"/><circle cx="180.4" cy="201.9" r="1.20"/><circle cx="181.4" cy="200.8" r="1.20"/><circle cx="182.4" cy="201.1" r="1.20"/><circle cx="183.0" cy="200.6" r="1.20"/><circle cx="183.3" cy="201.0" r="1.20"/><circle cx="184.4" cy="200.3" r="1.20"/><circle cx="185.2" cy="200.9" r="1.20"/><circle cx="186.3" cy="200.5" r="1.20"/><circle cx="186.7" cy="200.1" r="1.20"/><circle cx="187.3" cy="199.7" r="1.20"/><circle cx="188.3" cy="199.4" r="1.20"/><circle cx="189.5" cy="199.9" r="1.20"/></g>
<g fill="#3a86c8"><circle cx="139.5" cy="209.3" r="0.70"/><circle cx="139.8" cy="209.8" r="0.70"/><circle cx="140.4" cy="209.2" r="0.70"/><circle cx="142.1" cy="208.6" r="0.70"/><circle cx="142.5" cy="209.1" r="0.70"/><circle cx="142.6" cy="208.7" r="0.70"/><circle cx="144.1" cy="208.6" r="0.70"/><circle cx="144.8" cy="208.2" r="0.70"/><circle cx="145.0" cy="208.0" r="0.70"/><circle cx="146.0" cy="208.8" r="0.70"/><circle cx="146.8" cy="208.4" r="0.70"/><circle cx="147.3" cy="208.1" r="0.70"/><circle cx="147.6" cy="207.4" r="0.70"/><circle cx="149.0" cy="207.7" r="0.70"/><circle cx="149.4" cy="206.7" r="0.70"/><circle cx="149.9" cy="206.6" r="0.70"/><circle cx="150.6" cy="207.1" r="0.70"/><circle cx="151.2" cy="206.9" r="0.70"/><circle cx="152.8" cy="205.7" r="0.70"/><circle cx="152.9" cy="206.0" r="0.70"/><circle cx="153.1" cy="205.7" r="0.70"/><circle cx="154.9" cy="205.1" r="0.70"/><circle cx="155.2" cy="204.9" r="0.70"/><circle cx="155.9" cy="205.7" r="0.70"/><circle cx="156.1" cy="204.4" r="0.70"/><circle cx="156.7" cy="204.8" r="0.70"/><circle cx="157.3" cy="204.1" r="0.70"/><circle cx="158.6" cy="204.9" r="0.70"/><circle cx="159.2" cy="204.1" r="0.70"/><circle cx="160.2" cy="203.5" r="0.70"/><circle cx="160.8" cy="203.6" r="0.70"/><circle cx="161.6" cy="204.5" r="0.70"/><circle cx="161.6" cy="203.9" r="0.70"/><circle cx="163.0" cy="203.4" r="0.70"/><circle cx="163.4" cy="204.4" r="0.70"/><circle cx="165.0" cy="203.3" r="0.70"/><circle cx="165.3" cy="204.2" r="0.70"/><circle cx="165.5" cy="203.8" r="0.70"/><circle cx="166.0" cy="203.4" r="0.70"/><circle cx="167.5" cy="203.7" r="0.70"/><circle cx="168.3" cy="203.0" r="0.70"/><circle cx="168.5" cy="204.0" r="0.70"/><circle cx="169.6" cy="203.5" r="0.70"/><circle cx="170.1" cy="204.2" r="0.70"/><circle cx="171.0" cy="203.0" r="0.70"/><circle cx="172.0" cy="203.4" r="0.70"/><circle cx="172.3" cy="203.3" r="0.70"/><circle cx="173.0" cy="203.5" r="0.70"/><circle cx="173.3" cy="203.9" r="0.70"/><circle cx="174.1" cy="204.1" r="0.70"/><circle cx="174.7" cy="204.1" r="0.70"/><circle cx="176.4" cy="203.8" r="0.70"/><circle cx="177.0" cy="203.4" r="0.70"/><circle cx="177.7" cy="203.5" r="0.70"/><circle cx="177.9" cy="204.0" r="0.70"/><circle cx="178.8" cy="203.2" r="0.70"/><circle cx="180.1" cy="203.1" r="0.70"/><circle cx="180.6" cy="202.7" r="0.70"/><circle cx="181.5" cy="202.7" r="0.70"/><circle cx="181.3" cy="203.4" r="0.70"/><circle cx="182.2" cy="203.3" r="0.70"/><circle cx="183.9" cy="202.7" r="0.70"/><circle cx="183.4" cy="202.0" r="0.70"/><circle cx="184.4" cy="202.2" r="0.70"/><circle cx="185.6" cy="202.6" r="0.70"/><circle cx="186.0" cy="201.4" r="0.70"/><circle cx="186.9" cy="201.2" r="0.70"/><circle cx="187.1" cy="201.5" r="0.70"/><circle cx="188.5" cy="200.7" r="0.70"/></g>
<ellipse cx="163" cy="210.5" rx="7.6" ry="4.6" fill="#3aa83a"/>
<ellipse cx="164" cy="206.5" rx="6.5" ry="2.6" fill="#3a86c8"/>
<g fill="#f7841c"><rect x="140.7" y="205.7" width="0.9" height="0.9"/><rect x="140.8" y="201.7" width="0.9" height="0.9"/><rect x="143.1" y="212.8" width="0.9" height="0.9"/><rect x="141.5" y="200.9" width="0.9" height="0.9"/></g>
<line x1="180.6" y1="191.6" x2="180.6" y2="196.5" stroke="#ddd" stroke-width="0.7"/>
<text x="165.8" y="189" font-size="9.6" textLength="30" lengthAdjust="spacingAndGlyphs" fill="#fff" stroke="#fff" stroke-width="0.25">N. Adj.</text>
<line x1="161.5" y1="218" x2="161.5" y2="231.8" stroke="#ddd" stroke-width="0.7"/>
<text x="159.3" y="243" font-size="9.6" fill="#fff" stroke="#fff" stroke-width="0.25">T.</text>
<circle cx="216.4" cy="209.5" r="4" fill="#3a86c8"/>
<circle cx="217" cy="209.3" r="2" fill="#f7841c"/>
<g fill="#3a86c8"><circle cx="217.9" cy="211.1" r="1.10"/><circle cx="219.2" cy="210.9" r="1.10"/><circle cx="219.4" cy="211.0" r="1.10"/><circle cx="219.8" cy="210.8" r="1.10"/><circle cx="221.0" cy="211.1" r="1.10"/><circle cx="221.1" cy="210.4" r="1.10"/><circle cx="221.8" cy="210.9" r="1.10"/><circle cx="223.2" cy="210.0" r="1.10"/><circle cx="224.3" cy="211.0" r="1.10"/><circle cx="224.6" cy="210.5" r="1.10"/><circle cx="224.7" cy="209.7" r="1.10"/><circle cx="225.9" cy="209.7" r="1.10"/><circle cx="226.2" cy="209.8" r="1.10"/><circle cx="226.7" cy="210.0" r="1.10"/><circle cx="227.9" cy="210.4" r="1.10"/><circle cx="228.7" cy="210.1" r="1.10"/><circle cx="229.4" cy="210.1" r="1.10"/><circle cx="230.1" cy="209.6" r="1.10"/><circle cx="231.5" cy="210.5" r="1.10"/><circle cx="232.0" cy="210.1" r="1.10"/><circle cx="232.1" cy="209.5" r="1.10"/><circle cx="232.7" cy="209.2" r="1.10"/><circle cx="234.0" cy="209.6" r="1.10"/><circle cx="234.8" cy="209.5" r="1.10"/><circle cx="235.7" cy="210.1" r="1.10"/><circle cx="235.3" cy="209.3" r="1.10"/><circle cx="237.1" cy="209.5" r="1.10"/><circle cx="237.9" cy="209.4" r="1.10"/><circle cx="237.5" cy="209.7" r="1.10"/><circle cx="239.1" cy="209.2" r="1.10"/><circle cx="239.0" cy="209.2" r="1.10"/><circle cx="240.7" cy="209.7" r="1.10"/><circle cx="240.5" cy="209.0" r="1.10"/><circle cx="241.2" cy="208.7" r="1.10"/><circle cx="242.7" cy="208.8" r="1.10"/><circle cx="243.2" cy="209.1" r="1.10"/><circle cx="243.4" cy="209.4" r="1.10"/><circle cx="244.1" cy="209.3" r="1.10"/><circle cx="244.8" cy="209.0" r="1.10"/><circle cx="245.7" cy="208.7" r="1.10"/><circle cx="247.3" cy="209.3" r="1.10"/><circle cx="247.2" cy="209.3" r="1.10"/><circle cx="247.8" cy="208.6" r="1.10"/><circle cx="249.3" cy="208.8" r="1.10"/><circle cx="249.2" cy="209.1" r="1.10"/><circle cx="250.0" cy="208.2" r="1.10"/><circle cx="251.4" cy="208.2" r="1.10"/><circle cx="251.6" cy="207.8" r="1.10"/><circle cx="252.1" cy="208.3" r="1.10"/><circle cx="253.0" cy="208.2" r="1.10"/><circle cx="253.8" cy="207.9" r="1.10"/><circle cx="255.3" cy="207.9" r="1.10"/><circle cx="255.5" cy="208.3" r="1.10"/><circle cx="255.8" cy="207.4" r="1.10"/><circle cx="257.4" cy="208.2" r="1.10"/><circle cx="257.3" cy="207.4" r="1.10"/><circle cx="258.7" cy="208.3" r="1.10"/><circle cx="258.7" cy="208.2" r="1.10"/><circle cx="260.3" cy="207.8" r="1.10"/><circle cx="260.5" cy="207.1" r="1.10"/><circle cx="260.7" cy="208.1" r="1.10"/><circle cx="261.7" cy="207.7" r="1.10"/><circle cx="262.4" cy="207.9" r="1.10"/><circle cx="263.6" cy="207.2" r="1.10"/><circle cx="263.8" cy="207.7" r="1.10"/><circle cx="264.4" cy="207.1" r="1.10"/><circle cx="265.7" cy="207.8" r="1.10"/><circle cx="266.5" cy="207.1" r="1.10"/><circle cx="267.6" cy="207.0" r="1.10"/><circle cx="267.2" cy="207.0" r="1.10"/><circle cx="268.4" cy="206.7" r="1.10"/><circle cx="268.8" cy="207.1" r="1.10"/><circle cx="270.0" cy="206.8" r="1.10"/><circle cx="270.5" cy="207.6" r="1.10"/><circle cx="272.0" cy="207.3" r="1.10"/><circle cx="272.3" cy="207.2" r="1.10"/><circle cx="272.4" cy="206.5" r="1.10"/><circle cx="273.0" cy="207.5" r="1.10"/><circle cx="274.5" cy="207.6" r="1.10"/><circle cx="274.4" cy="207.2" r="1.10"/><circle cx="275.7" cy="207.2" r="1.10"/><circle cx="276.2" cy="207.5" r="1.10"/><circle cx="276.6" cy="206.9" r="1.10"/><circle cx="278.1" cy="207.3" r="1.10"/><circle cx="278.9" cy="207.0" r="1.10"/><circle cx="279.6" cy="207.2" r="1.10"/><circle cx="279.8" cy="206.9" r="1.10"/><circle cx="281.2" cy="207.1" r="1.10"/><circle cx="281.3" cy="206.9" r="1.10"/><circle cx="282.6" cy="206.6" r="1.10"/><circle cx="283.0" cy="206.3" r="1.10"/><circle cx="283.7" cy="206.6" r="1.10"/><circle cx="283.8" cy="206.5" r="1.10"/><circle cx="285.6" cy="206.8" r="1.10"/><circle cx="286.0" cy="206.2" r="1.10"/><circle cx="286.7" cy="206.3" r="1.10"/><circle cx="287.1" cy="206.6" r="1.10"/><circle cx="287.4" cy="206.4" r="1.10"/><circle cx="288.0" cy="206.2" r="1.10"/><circle cx="289.3" cy="205.7" r="1.10"/><circle cx="290.2" cy="206.0" r="1.10"/><circle cx="290.9" cy="206.5" r="1.10"/><circle cx="291.1" cy="205.3" r="1.10"/><circle cx="291.9" cy="206.1" r="1.10"/><circle cx="292.5" cy="205.5" r="1.10"/><circle cx="294.1" cy="206.0" r="1.10"/><circle cx="294.2" cy="206.3" r="1.10"/><circle cx="294.8" cy="205.9" r="1.10"/><circle cx="295.4" cy="205.6" r="1.10"/><circle cx="296.8" cy="206.2" r="1.10"/><circle cx="297.6" cy="205.5" r="1.10"/><circle cx="298.0" cy="205.4" r="1.10"/><circle cx="298.1" cy="205.6" r="1.10"/><circle cx="299.7" cy="206.0" r="1.10"/><circle cx="300.3" cy="206.0" r="1.10"/><circle cx="300.4" cy="205.1" r="1.10"/><circle cx="301.4" cy="205.3" r="1.10"/><circle cx="301.8" cy="205.5" r="1.10"/><circle cx="303.0" cy="205.6" r="1.10"/><circle cx="303.3" cy="206.1" r="1.10"/><circle cx="304.9" cy="205.7" r="1.10"/><circle cx="304.5" cy="205.2" r="1.10"/><circle cx="306.2" cy="205.2" r="1.10"/><circle cx="306.7" cy="205.9" r="1.10"/><circle cx="306.9" cy="206.2" r="1.10"/><circle cx="307.3" cy="205.5" r="1.10"/><circle cx="308.5" cy="205.4" r="1.10"/><circle cx="309.7" cy="205.6" r="1.10"/><circle cx="309.6" cy="205.5" r="1.10"/><circle cx="310.9" cy="205.8" r="1.10"/><circle cx="311.6" cy="205.9" r="1.10"/><circle cx="312.6" cy="206.1" r="1.10"/><circle cx="313.1" cy="205.1" r="1.10"/><circle cx="313.6" cy="204.9" r="1.10"/><circle cx="313.8" cy="205.1" r="1.10"/><circle cx="315.3" cy="204.7" r="1.10"/><circle cx="315.5" cy="204.7" r="1.10"/><circle cx="316.8" cy="204.8" r="1.10"/><circle cx="317.4" cy="204.9" r="1.10"/><circle cx="317.9" cy="204.9" r="1.10"/><circle cx="319.1" cy="203.6" r="1.10"/><circle cx="319.8" cy="204.0" r="1.10"/><circle cx="319.4" cy="203.3" r="1.10"/><circle cx="320.7" cy="203.5" r="1.10"/><circle cx="321.0" cy="202.7" r="1.10"/><circle cx="322.2" cy="202.6" r="1.10"/><circle cx="322.9" cy="201.8" r="1.10"/><circle cx="323.2" cy="201.1" r="1.10"/><circle cx="323.6" cy="201.3" r="1.10"/><circle cx="323.9" cy="200.5" r="1.10"/><circle cx="323.8" cy="200.1" r="1.10"/></g>
<g fill="#f7841c"><circle cx="220.0" cy="210.2" r="1.20"/><circle cx="220.9" cy="209.5" r="1.20"/><circle cx="220.8" cy="209.7" r="1.20"/><circle cx="221.9" cy="210.2" r="1.20"/><circle cx="223.1" cy="209.8" r="1.20"/><circle cx="223.6" cy="209.8" r="1.20"/><circle cx="223.9" cy="209.5" r="1.20"/><circle cx="224.6" cy="210.0" r="1.20"/><circle cx="225.2" cy="209.8" r="1.20"/><circle cx="225.9" cy="209.6" r="1.20"/><circle cx="226.9" cy="209.2" r="1.20"/><circle cx="228.3" cy="208.6" r="1.20"/><circle cx="228.0" cy="209.6" r="1.20"/><circle cx="229.3" cy="208.6" r="1.20"/><circle cx="230.6" cy="209.5" r="1.20"/><circle cx="230.2" cy="208.9" r="1.20"/><circle cx="231.0" cy="208.7" r="1.20"/><circle cx="232.3" cy="208.5" r="1.20"/><circle cx="233.1" cy="208.3" r="1.20"/><circle cx="233.2" cy="209.2" r="1.20"/><circle cx="234.2" cy="208.7" r="1.20"/><circle cx="235.1" cy="208.7" r="1.20"/><circle cx="235.6" cy="208.2" r="1.20"/><circle cx="236.7" cy="209.2" r="1.20"/><circle cx="237.7" cy="208.8" r="1.20"/><circle cx="237.7" cy="208.4" r="1.20"/><circle cx="238.8" cy="208.8" r="1.20"/><circle cx="238.8" cy="208.2" r="1.20"/><circle cx="239.8" cy="208.5" r="1.20"/><circle cx="241.1" cy="208.3" r="1.20"/><circle cx="240.9" cy="208.5" r="1.20"/><circle cx="242.1" cy="208.0" r="1.20"/><circle cx="242.5" cy="207.7" r="1.20"/><circle cx="243.4" cy="207.9" r="1.20"/><circle cx="243.8" cy="207.5" r="1.20"/><circle cx="244.6" cy="207.5" r="1.20"/><circle cx="245.2" cy="206.8" r="1.20"/><circle cx="246.2" cy="207.1" r="1.20"/><circle cx="246.6" cy="206.7" r="1.20"/><circle cx="247.5" cy="206.3" r="1.20"/><circle cx="248.5" cy="206.9" r="1.20"/><circle cx="249.3" cy="206.7" r="1.20"/><circle cx="249.6" cy="206.5" r="1.20"/><circle cx="250.6" cy="205.4" r="1.20"/><circle cx="251.7" cy="206.1" r="1.20"/><circle cx="251.6" cy="205.1" r="1.20"/><circle cx="253.2" cy="205.0" r="1.20"/><circle cx="253.3" cy="204.3" r="1.20"/><circle cx="253.7" cy="204.9" r="1.20"/><circle cx="255.6" cy="205.1" r="1.20"/><circle cx="255.7" cy="203.7" r="1.20"/><circle cx="256.2" cy="204.4" r="1.20"/><circle cx="257.5" cy="204.0" r="1.20"/><circle cx="257.5" cy="203.7" r="1.20"/><circle cx="258.5" cy="203.6" r="1.20"/><circle cx="259.0" cy="203.8" r="1.20"/><circle cx="260.5" cy="202.6" r="1.20"/><circle cx="260.5" cy="203.5" r="1.20"/><circle cx="261.2" cy="203.7" r="1.20"/><circle cx="262.2" cy="203.5" r="1.20"/><circle cx="263.2" cy="203.0" r="1.20"/><circle cx="263.4" cy="203.2" r="1.20"/><circle cx="264.6" cy="203.8" r="1.20"/><circle cx="264.6" cy="204.1" r="1.20"/><circle cx="265.7" cy="203.4" r="1.20"/><circle cx="266.5" cy="204.4" r="1.20"/><circle cx="267.3" cy="204.1" r="1.20"/><circle cx="268.5" cy="204.6" r="1.20"/><circle cx="269.0" cy="203.8" r="1.20"/><circle cx="269.5" cy="204.4" r="1.20"/><circle cx="270.5" cy="203.9" r="1.20"/><circle cx="270.6" cy="203.6" r="1.20"/><circle cx="271.8" cy="203.8" r="1.20"/><circle cx="271.7" cy="203.9" r="1.20"/><circle cx="273.4" cy="203.9" r="1.20"/><circle cx="274.1" cy="204.0" r="1.20"/><circle cx="274.4" cy="203.8" r="1.20"/><circle cx="274.9" cy="202.9" r="1.20"/><circle cx="275.6" cy="203.1" r="1.20"/><circle cx="277.0" cy="203.5" r="1.20"/><circle cx="277.2" cy="203.4" r="1.20"/><circle cx="277.4" cy="203.2" r="1.20"/><circle cx="278.8" cy="203.0" r="1.20"/><circle cx="279.0" cy="202.9" r="1.20"/><circle cx="279.8" cy="203.2" r="1.20"/><circle cx="280.3" cy="202.4" r="1.20"/><circle cx="281.2" cy="202.9" r="1.20"/><circle cx="282.5" cy="202.8" r="1.20"/><circle cx="283.4" cy="202.3" r="1.20"/><circle cx="283.0" cy="202.3" r="1.20"/><circle cx="284.2" cy="201.8" r="1.20"/><circle cx="285.2" cy="201.8" r="1.20"/><circle cx="285.4" cy="201.7" r="1.20"/><circle cx="287.0" cy="201.1" r="1.20"/><circle cx="287.0" cy="201.3" r="1.20"/><circle cx="287.5" cy="201.3" r="1.20"/><circle cx="288.2" cy="201.8" r="1.20"/><circle cx="289.3" cy="201.4" r="1.20"/><circle cx="289.6" cy="201.0" r="1.20"/><circle cx="290.8" cy="201.4" r="1.20"/><circle cx="291.1" cy="201.0" r="1.20"/><circle cx="292.6" cy="201.5" r="1.20"/><circle cx="292.5" cy="201.2" r="1.20"/><circle cx="293.9" cy="201.1" r="1.20"/><circle cx="294.5" cy="201.4" r="1.20"/><circle cx="295.6" cy="201.3" r="1.20"/><circle cx="295.9" cy="201.1" r="1.20"/><circle cx="296.7" cy="201.1" r="1.20"/><circle cx="297.1" cy="201.2" r="1.20"/><circle cx="297.6" cy="201.0" r="1.20"/><circle cx="298.2" cy="201.5" r="1.20"/><circle cx="299.0" cy="200.9" r="1.20"/><circle cx="300.4" cy="201.2" r="1.20"/><circle cx="301.2" cy="201.7" r="1.20"/><circle cx="301.3" cy="202.2" r="1.20"/><circle cx="302.6" cy="201.6" r="1.20"/><circle cx="302.4" cy="202.1" r="1.20"/><circle cx="304.0" cy="202.2" r="1.20"/><circle cx="304.6" cy="202.0" r="1.20"/><circle cx="305.1" cy="202.0" r="1.20"/><circle cx="305.6" cy="202.2" r="1.20"/><circle cx="306.3" cy="202.3" r="1.20"/><circle cx="307.5" cy="202.2" r="1.20"/><circle cx="307.5" cy="202.4" r="1.20"/><circle cx="309.1" cy="202.8" r="1.20"/><circle cx="308.7" cy="203.3" r="1.20"/><circle cx="310.4" cy="203.4" r="1.20"/><circle cx="310.6" cy="203.3" r="1.20"/><circle cx="311.2" cy="202.6" r="1.20"/><circle cx="312.6" cy="203.4" r="1.20"/><circle cx="312.6" cy="203.5" r="1.20"/><circle cx="313.1" cy="202.8" r="1.20"/><circle cx="313.8" cy="202.6" r="1.20"/><circle cx="314.7" cy="203.3" r="1.20"/><circle cx="315.6" cy="202.6" r="1.20"/><circle cx="316.2" cy="202.8" r="1.20"/><circle cx="317.7" cy="203.1" r="1.20"/><circle cx="317.5" cy="203.2" r="1.20"/><circle cx="318.8" cy="202.6" r="1.20"/><circle cx="319.5" cy="202.5" r="1.20"/><circle cx="320.5" cy="201.9" r="1.20"/><circle cx="321.0" cy="201.5" r="1.20"/><circle cx="321.7" cy="201.1" r="1.20"/><circle cx="322.2" cy="200.9" r="1.20"/><circle cx="323.3" cy="200.2" r="1.20"/><circle cx="323.8" cy="199.8" r="1.20"/><circle cx="324.1" cy="199.4" r="1.20"/></g>
<path d="M250.0,205.0 C250.0,203.8 258.3,201.8 262.0,201.0 C265.7,200.2 268.7,200.3 272.0,200.0 C275.3,199.7 278.0,199.1 282.0,199.0 C286.0,198.9 292.3,199.2 296.0,199.5 C299.7,199.8 303.3,200.1 304.0,201.0 C304.7,201.9 302.3,204.1 300.0,205.0 C297.7,205.9 294.0,206.2 290.0,206.5 C286.0,206.8 280.7,206.8 276.0,207.0 C271.3,207.2 266.3,208.3 262.0,208.0 C257.7,207.7 250.0,206.2 250.0,205.0 Z" fill="#f7841c"/>
<path d="M249.0,210.0 C249.8,208.9 254.5,208.8 258.0,208.5 C261.5,208.2 265.7,208.1 270.0,208.0 C274.3,207.9 280.7,207.8 284.0,208.0 C287.3,208.2 289.2,207.8 290.0,209.0 C290.8,210.2 290.0,213.5 289.0,215.0 C288.0,216.5 286.5,217.3 284.0,218.0 C281.5,218.7 277.7,218.9 274.0,219.0 C270.3,219.1 265.5,219.2 262.0,218.5 C258.5,217.8 255.2,216.4 253.0,215.0 C250.8,213.6 248.2,211.1 249.0,210.0 Z" fill="#3aa83a"/>
<g fill="#3a86c8"><circle cx="259.7" cy="207.7" r="0.65"/><circle cx="260.9" cy="207.9" r="0.65"/><circle cx="261.1" cy="207.1" r="0.65"/><circle cx="261.7" cy="207.1" r="0.65"/><circle cx="263.1" cy="206.9" r="0.65"/><circle cx="263.6" cy="207.0" r="0.65"/><circle cx="264.0" cy="207.2" r="0.65"/><circle cx="265.4" cy="207.4" r="0.65"/><circle cx="265.1" cy="206.9" r="0.65"/><circle cx="266.0" cy="207.6" r="0.65"/><circle cx="267.5" cy="207.5" r="0.65"/><circle cx="268.2" cy="207.4" r="0.65"/><circle cx="269.1" cy="207.4" r="0.65"/><circle cx="269.0" cy="207.5" r="0.65"/><circle cx="270.0" cy="207.3" r="0.65"/><circle cx="270.8" cy="206.9" r="0.65"/><circle cx="271.2" cy="206.9" r="0.65"/><circle cx="271.9" cy="206.5" r="0.65"/><circle cx="273.2" cy="207.2" r="0.65"/><circle cx="274.1" cy="207.1" r="0.65"/><circle cx="274.3" cy="207.1" r="0.65"/><circle cx="274.5" cy="207.0" r="0.65"/><circle cx="275.6" cy="206.4" r="0.65"/><circle cx="276.0" cy="206.8" r="0.65"/><circle cx="276.8" cy="206.7" r="0.65"/><circle cx="277.9" cy="206.6" r="0.65"/><circle cx="278.0" cy="206.6" r="0.65"/><circle cx="278.9" cy="206.3" r="0.65"/><circle cx="279.5" cy="206.4" r="0.65"/><circle cx="280.1" cy="206.7" r="0.65"/><circle cx="281.8" cy="206.4" r="0.65"/></g>
<g fill="#f7841c"><rect x="252.7" y="220.3" width="0.9" height="0.9"/><rect x="276.7" y="222.5" width="0.9" height="0.9"/><rect x="259.9" y="216.3" width="0.9" height="0.9"/><rect x="280.3" y="219.9" width="0.9" height="0.9"/><rect x="261.3" y="220.2" width="0.9" height="0.9"/><rect x="265.5" y="221.0" width="0.9" height="0.9"/><rect x="253.2" y="216.0" width="0.9" height="0.9"/><rect x="287.7" y="217.2" width="0.9" height="0.9"/><rect x="259.5" y="221.2" width="0.9" height="0.9"/><rect x="275.8" y="215.3" width="0.9" height="0.9"/><rect x="272.3" y="220.0" width="0.9" height="0.9"/><rect x="255.3" y="219.9" width="0.9" height="0.9"/><rect x="253.4" y="217.0" width="0.9" height="0.9"/><rect x="251.7" y="215.8" width="0.9" height="0.9"/><rect x="291.0" y="217.6" width="0.9" height="0.9"/><rect x="291.6" y="217.9" width="0.9" height="0.9"/><rect x="274.7" y="221.9" width="0.9" height="0.9"/><rect x="278.2" y="215.0" width="0.9" height="0.9"/><rect x="273.9" y="219.7" width="0.9" height="0.9"/><rect x="256.0" y="214.9" width="0.9" height="0.9"/><rect x="286.5" y="218.6" width="0.9" height="0.9"/><rect x="256.5" y="218.1" width="0.9" height="0.9"/><rect x="257.6" y="221.2" width="0.9" height="0.9"/><rect x="270.0" y="214.9" width="0.9" height="0.9"/><rect x="284.0" y="214.8" width="0.9" height="0.9"/><rect x="260.3" y="214.3" width="0.9" height="0.9"/><rect x="280.6" y="215.0" width="0.9" height="0.9"/><rect x="271.1" y="214.8" width="0.9" height="0.9"/><rect x="269.1" y="220.2" width="0.9" height="0.9"/><rect x="271.5" y="218.1" width="0.9" height="0.9"/></g>
<g fill="#3aa83a"><rect x="288.6" y="218.1" width="0.9" height="0.9"/><rect x="279.4" y="218.9" width="0.9" height="0.9"/><rect x="289.5" y="218.1" width="0.9" height="0.9"/><rect x="285.2" y="222.1" width="0.9" height="0.9"/><rect x="284.3" y="224.0" width="0.9" height="0.9"/><rect x="259.6" y="220.0" width="0.9" height="0.9"/><rect x="278.3" y="219.7" width="0.9" height="0.9"/><rect x="260.5" y="219.4" width="0.9" height="0.9"/><rect x="284.3" y="223.2" width="0.9" height="0.9"/><rect x="281.9" y="219.3" width="0.9" height="0.9"/><rect x="287.0" y="221.1" width="0.9" height="0.9"/><rect x="259.3" y="220.7" width="0.9" height="0.9"/><rect x="266.8" y="218.5" width="0.9" height="0.9"/><rect x="272.6" y="220.2" width="0.9" height="0.9"/><rect x="272.8" y="223.6" width="0.9" height="0.9"/></g>
<line x1="311.4" y1="188.6" x2="311.4" y2="200.5" stroke="#ddd" stroke-width="0.7"/>
<text x="298.6" y="186" font-size="9.6" textLength="30.8" lengthAdjust="spacingAndGlyphs" fill="#fff" stroke="#fff" stroke-width="0.25">N. Adj.</text>
<line x1="276.4" y1="223" x2="276.4" y2="231" stroke="#ddd" stroke-width="0.7"/>
<text x="273.2" y="241.3" font-size="9.6" fill="#fff" stroke="#fff" stroke-width="0.25">T.</text>
<path d="M371.0,215.0 C372.3,213.0 375.2,212.7 378.0,212.0 C380.8,211.3 384.7,210.8 388.0,211.0 C391.3,211.2 395.7,211.7 398.0,213.0 C400.3,214.3 401.4,216.7 402.0,219.0 C402.6,221.3 402.2,224.8 401.5,227.0 C400.8,229.2 399.9,230.6 398.0,232.0 C396.1,233.4 393.0,234.9 390.0,235.5 C387.0,236.1 383.0,236.1 380.0,235.5 C377.0,234.9 373.7,233.9 372.0,232.0 C370.3,230.1 370.2,226.8 370.0,224.0 C369.8,221.2 369.7,217.0 371.0,215.0 Z" fill="#3aa83a"/>
<path d="M373.0,214.0 C374.8,212.9 378.8,212.6 382.0,212.3 C385.2,212.0 389.2,211.7 392.0,212.0 C394.8,212.3 398.3,213.2 399.0,214.0 C399.7,214.8 397.8,216.7 396.0,217.0 C394.2,217.3 390.7,216.0 388.0,216.0 C385.3,216.0 382.3,216.5 380.0,217.0 C377.7,217.5 375.3,218.0 374.0,219.0 C372.7,220.0 372.5,223.0 372.0,223.0 C371.5,223.0 370.8,220.5 371.0,219.0 C371.2,217.5 371.2,215.1 373.0,214.0 Z" fill="#3a86c8"/>
<g fill="#3a86c8"><circle cx="380.8" cy="188.0" r="1.30"/><circle cx="380.2" cy="187.7" r="1.30"/><circle cx="379.6" cy="187.7" r="1.30"/><circle cx="378.7" cy="187.4" r="1.30"/><circle cx="377.7" cy="186.8" r="1.30"/><circle cx="377.5" cy="186.3" r="1.30"/><circle cx="377.3" cy="186.3" r="1.30"/><circle cx="376.7" cy="187.3" r="1.30"/><circle cx="375.4" cy="187.5" r="1.30"/><circle cx="375.4" cy="187.5" r="1.30"/><circle cx="373.8" cy="187.4" r="1.30"/><circle cx="373.8" cy="187.5" r="1.30"/><circle cx="372.7" cy="187.8" r="1.30"/><circle cx="372.4" cy="189.1" r="1.30"/><circle cx="372.1" cy="189.3" r="1.30"/><circle cx="372.1" cy="190.7" r="1.30"/><circle cx="371.3" cy="190.3" r="1.30"/><circle cx="371.8" cy="192.0" r="1.30"/><circle cx="371.2" cy="192.3" r="1.30"/><circle cx="370.2" cy="192.6" r="1.30"/><circle cx="370.2" cy="193.7" r="1.30"/><circle cx="369.9" cy="194.7" r="1.30"/><circle cx="370.6" cy="194.7" r="1.30"/><circle cx="370.7" cy="196.0" r="1.30"/><circle cx="370.7" cy="196.7" r="1.30"/><circle cx="370.5" cy="197.4" r="1.30"/><circle cx="370.2" cy="198.2" r="1.30"/><circle cx="369.4" cy="198.6" r="1.30"/><circle cx="369.9" cy="199.6" r="1.30"/><circle cx="370.3" cy="200.4" r="1.30"/><circle cx="370.9" cy="200.9" r="1.30"/><circle cx="370.7" cy="201.7" r="1.30"/><circle cx="371.7" cy="202.7" r="1.30"/><circle cx="371.5" cy="203.4" r="1.30"/><circle cx="371.2" cy="203.2" r="1.30"/><circle cx="371.3" cy="203.9" r="1.30"/><circle cx="371.4" cy="205.2" r="1.30"/><circle cx="372.9" cy="205.1" r="1.30"/><circle cx="373.1" cy="206.7" r="1.30"/><circle cx="373.6" cy="206.3" r="1.30"/><circle cx="373.9" cy="207.0" r="1.30"/><circle cx="373.8" cy="207.3" r="1.30"/><circle cx="374.6" cy="208.9" r="1.30"/><circle cx="374.5" cy="208.6" r="1.30"/><circle cx="375.4" cy="208.9" r="1.30"/><circle cx="376.1" cy="210.1" r="1.30"/><circle cx="376.7" cy="209.7" r="1.30"/><circle cx="376.7" cy="210.4" r="1.30"/><circle cx="378.1" cy="211.7" r="1.30"/><circle cx="378.4" cy="211.1" r="1.30"/><circle cx="378.7" cy="211.9" r="1.30"/><circle cx="379.2" cy="211.8" r="1.30"/><circle cx="380.3" cy="213.0" r="1.30"/><circle cx="380.8" cy="213.3" r="1.30"/><circle cx="382.3" cy="213.1" r="1.30"/><circle cx="382.2" cy="213.1" r="1.30"/><circle cx="383.5" cy="214.1" r="1.30"/><circle cx="384.4" cy="213.7" r="1.30"/><circle cx="384.6" cy="213.8" r="1.30"/><circle cx="385.1" cy="214.4" r="1.30"/><circle cx="385.5" cy="214.5" r="1.30"/><circle cx="387.3" cy="215.1" r="1.30"/><circle cx="387.3" cy="215.7" r="1.30"/><circle cx="388.0" cy="216.1" r="1.30"/><circle cx="388.5" cy="216.5" r="1.30"/><circle cx="388.5" cy="217.2" r="1.30"/><circle cx="389.7" cy="217.8" r="1.30"/><circle cx="389.8" cy="218.0" r="1.30"/><circle cx="390.9" cy="218.8" r="1.30"/><circle cx="390.5" cy="218.8" r="1.30"/><circle cx="390.8" cy="220.1" r="1.30"/><circle cx="391.3" cy="220.5" r="1.30"/><circle cx="391.3" cy="221.3" r="1.30"/><circle cx="392.1" cy="222.4" r="1.30"/></g>
<g fill="#f7841c"><circle cx="380.0" cy="189.4" r="1.10"/><circle cx="379.8" cy="188.7" r="1.10"/><circle cx="378.7" cy="189.2" r="1.10"/><circle cx="377.8" cy="188.5" r="1.10"/><circle cx="376.2" cy="188.9" r="1.10"/><circle cx="376.3" cy="188.7" r="1.10"/><circle cx="375.6" cy="189.4" r="1.10"/><circle cx="375.6" cy="190.9" r="1.10"/><circle cx="374.6" cy="191.6" r="1.10"/><circle cx="373.8" cy="192.0" r="1.10"/><circle cx="374.4" cy="191.9" r="1.10"/><circle cx="373.7" cy="193.1" r="1.10"/><circle cx="374.0" cy="193.4" r="1.10"/><circle cx="373.4" cy="195.0" r="1.10"/><circle cx="373.5" cy="195.0" r="1.10"/><circle cx="372.7" cy="196.5" r="1.10"/><circle cx="373.2" cy="197.3" r="1.10"/><circle cx="372.7" cy="197.9" r="1.10"/><circle cx="373.4" cy="198.8" r="1.10"/><circle cx="372.4" cy="198.8" r="1.10"/><circle cx="372.6" cy="200.1" r="1.10"/><circle cx="373.2" cy="201.1" r="1.10"/><circle cx="373.4" cy="201.6" r="1.10"/><circle cx="374.2" cy="201.7" r="1.10"/><circle cx="374.0" cy="203.3" r="1.10"/><circle cx="374.2" cy="203.3" r="1.10"/><circle cx="374.0" cy="204.6" r="1.10"/><circle cx="374.1" cy="205.1" r="1.10"/><circle cx="375.1" cy="205.6" r="1.10"/><circle cx="375.1" cy="206.3" r="1.10"/><circle cx="376.5" cy="206.5" r="1.10"/><circle cx="376.3" cy="207.8" r="1.10"/><circle cx="377.1" cy="207.6" r="1.10"/><circle cx="376.9" cy="208.7" r="1.10"/><circle cx="377.8" cy="209.0" r="1.10"/><circle cx="378.4" cy="209.5" r="1.10"/><circle cx="379.7" cy="209.5" r="1.10"/><circle cx="379.6" cy="210.7" r="1.10"/><circle cx="381.3" cy="209.9" r="1.10"/><circle cx="381.6" cy="211.0" r="1.10"/><circle cx="382.2" cy="211.4" r="1.10"/><circle cx="383.6" cy="211.6" r="1.10"/><circle cx="383.5" cy="211.6" r="1.10"/><circle cx="384.0" cy="211.9" r="1.10"/><circle cx="384.5" cy="212.4" r="1.10"/><circle cx="386.1" cy="213.2" r="1.10"/><circle cx="386.7" cy="214.1" r="1.10"/><circle cx="387.4" cy="213.5" r="1.10"/><circle cx="388.0" cy="214.0" r="1.10"/><circle cx="388.3" cy="215.4" r="1.10"/><circle cx="388.7" cy="215.4" r="1.10"/><circle cx="388.5" cy="215.5" r="1.10"/><circle cx="389.7" cy="216.2" r="1.10"/></g>
<g fill="#f7841c"><circle cx="377.6" cy="203.2" r="0.90"/><circle cx="378.5" cy="203.0" r="0.90"/><circle cx="379.3" cy="203.7" r="0.90"/><circle cx="380.0" cy="203.9" r="0.90"/><circle cx="380.4" cy="204.0" r="0.90"/><circle cx="381.6" cy="204.5" r="0.90"/><circle cx="382.2" cy="205.3" r="0.90"/><circle cx="383.2" cy="205.7" r="0.90"/><circle cx="383.1" cy="205.0" r="0.90"/><circle cx="384.4" cy="205.5" r="0.90"/><circle cx="384.5" cy="205.8" r="0.90"/><circle cx="386.0" cy="206.1" r="0.90"/><circle cx="385.9" cy="205.6" r="0.90"/><circle cx="386.4" cy="206.6" r="0.90"/><circle cx="387.4" cy="206.1" r="0.90"/><circle cx="388.5" cy="205.8" r="0.90"/><circle cx="389.2" cy="206.0" r="0.90"/><circle cx="390.0" cy="205.2" r="0.90"/><circle cx="390.1" cy="205.3" r="0.90"/><circle cx="391.8" cy="204.7" r="0.90"/><circle cx="392.2" cy="205.2" r="0.90"/><circle cx="392.3" cy="204.3" r="0.90"/><circle cx="393.7" cy="204.2" r="0.90"/><circle cx="394.1" cy="203.9" r="0.90"/><circle cx="394.5" cy="203.7" r="0.90"/><circle cx="395.1" cy="204.4" r="0.90"/><circle cx="394.8" cy="205.5" r="0.90"/><circle cx="395.4" cy="206.1" r="0.90"/><circle cx="393.8" cy="205.9" r="0.90"/><circle cx="393.2" cy="206.1" r="0.90"/><circle cx="393.0" cy="206.9" r="0.90"/><circle cx="391.8" cy="207.6" r="0.90"/><circle cx="391.6" cy="207.8" r="0.90"/><circle cx="391.1" cy="207.9" r="0.90"/><circle cx="390.0" cy="208.6" r="0.90"/><circle cx="388.9" cy="208.6" r="0.90"/><circle cx="389.1" cy="208.6" r="0.90"/><circle cx="388.4" cy="208.6" r="0.90"/><circle cx="387.2" cy="209.1" r="0.90"/><circle cx="386.5" cy="209.9" r="0.90"/></g>
<g fill="#f7841c"><circle cx="377.2" cy="192.3" r="0.70"/><circle cx="377.6" cy="192.4" r="0.70"/><circle cx="378.1" cy="193.4" r="0.70"/><circle cx="378.5" cy="192.8" r="0.70"/><circle cx="379.1" cy="193.3" r="0.70"/><circle cx="379.8" cy="193.7" r="0.70"/><circle cx="379.3" cy="194.6" r="0.70"/><circle cx="379.4" cy="195.7" r="0.70"/><circle cx="379.0" cy="195.9" r="0.70"/><circle cx="378.8" cy="197.3" r="0.70"/></g>
<g fill="#3a86c8"><rect x="395.5" y="231.2" width="0.9" height="0.9"/><rect x="391.9" y="233.1" width="0.9" height="0.9"/><rect x="378.8" y="230.7" width="0.9" height="0.9"/><rect x="395.5" y="232.8" width="0.9" height="0.9"/><rect x="386.9" y="226.5" width="0.9" height="0.9"/><rect x="382.7" y="233.9" width="0.9" height="0.9"/><rect x="374.7" y="227.9" width="0.9" height="0.9"/><rect x="396.7" y="229.0" width="0.9" height="0.9"/><rect x="377.4" y="227.9" width="0.9" height="0.9"/><rect x="395.6" y="228.0" width="0.9" height="0.9"/><rect x="383.1" y="230.6" width="0.9" height="0.9"/><rect x="392.9" y="229.4" width="0.9" height="0.9"/><rect x="374.1" y="230.2" width="0.9" height="0.9"/><rect x="372.9" y="225.9" width="0.9" height="0.9"/><rect x="376.9" y="231.2" width="0.9" height="0.9"/><rect x="379.4" y="231.2" width="0.9" height="0.9"/><rect x="376.2" y="226.1" width="0.9" height="0.9"/><rect x="372.6" y="231.4" width="0.9" height="0.9"/></g>
<line x1="389.3" y1="183" x2="383.3" y2="188.7" stroke="#ddd" stroke-width="0.7"/>
<text x="374.6" y="180.8" font-size="9.6" textLength="29.5" lengthAdjust="spacingAndGlyphs" fill="#fff" stroke="#fff" stroke-width="0.25">N. Adj.</text>
<line x1="369.1" y1="244.9" x2="380" y2="238.3" stroke="#ddd" stroke-width="0.7"/>
<text x="361" y="249.8" font-size="9.6" fill="#fff" stroke="#fff" stroke-width="0.25">T.</text>
<g fill="#3a86c8"><circle cx="446.1" cy="215.7" r="1.30"/><circle cx="447.4" cy="215.4" r="1.30"/><circle cx="447.6" cy="215.7" r="1.30"/><circle cx="449.0" cy="215.2" r="1.30"/><circle cx="449.3" cy="214.8" r="1.30"/><circle cx="449.4" cy="214.8" r="1.30"/><circle cx="450.8" cy="214.3" r="1.30"/><circle cx="451.8" cy="214.4" r="1.30"/><circle cx="451.8" cy="214.0" r="1.30"/><circle cx="453.5" cy="214.7" r="1.30"/><circle cx="454.0" cy="214.4" r="1.30"/><circle cx="453.7" cy="213.9" r="1.30"/><circle cx="455.0" cy="213.5" r="1.30"/><circle cx="456.3" cy="213.8" r="1.30"/><circle cx="456.0" cy="214.2" r="1.30"/><circle cx="456.7" cy="214.3" r="1.30"/><circle cx="457.8" cy="213.8" r="1.30"/><circle cx="458.4" cy="213.6" r="1.30"/><circle cx="458.9" cy="213.0" r="1.30"/><circle cx="460.4" cy="213.2" r="1.30"/><circle cx="461.1" cy="213.1" r="1.30"/><circle cx="462.1" cy="213.8" r="1.30"/><circle cx="462.6" cy="213.6" r="1.30"/><circle cx="463.1" cy="213.5" r="1.30"/><circle cx="463.3" cy="213.2" r="1.30"/><circle cx="464.9" cy="212.8" r="1.30"/><circle cx="465.8" cy="213.5" r="1.30"/><circle cx="465.9" cy="212.8" r="1.30"/><circle cx="466.6" cy="212.6" r="1.30"/><circle cx="467.9" cy="212.4" r="1.30"/><circle cx="467.4" cy="211.8" r="1.30"/><circle cx="468.9" cy="212.6" r="1.30"/><circle cx="469.3" cy="211.7" r="1.30"/><circle cx="470.1" cy="211.8" r="1.30"/><circle cx="470.4" cy="211.4" r="1.30"/><circle cx="471.6" cy="211.2" r="1.30"/><circle cx="472.0" cy="210.5" r="1.30"/><circle cx="473.0" cy="211.2" r="1.30"/><circle cx="473.7" cy="210.6" r="1.30"/><circle cx="474.5" cy="209.8" r="1.30"/><circle cx="474.7" cy="210.1" r="1.30"/><circle cx="476.1" cy="209.1" r="1.30"/><circle cx="476.5" cy="208.9" r="1.30"/><circle cx="477.3" cy="208.7" r="1.30"/><circle cx="477.2" cy="208.2" r="1.30"/><circle cx="478.4" cy="207.2" r="1.30"/><circle cx="478.9" cy="206.6" r="1.30"/><circle cx="478.8" cy="205.8" r="1.30"/><circle cx="479.9" cy="205.1" r="1.30"/><circle cx="479.5" cy="205.4" r="1.30"/><circle cx="481.0" cy="204.6" r="1.30"/><circle cx="481.7" cy="203.6" r="1.30"/><circle cx="481.6" cy="203.5" r="1.30"/><circle cx="482.4" cy="203.0" r="1.30"/><circle cx="482.7" cy="202.8" r="1.30"/><circle cx="484.3" cy="203.1" r="1.30"/><circle cx="484.7" cy="202.1" r="1.30"/><circle cx="484.8" cy="202.3" r="1.30"/><circle cx="485.8" cy="201.6" r="1.30"/><circle cx="485.8" cy="200.6" r="1.30"/><circle cx="487.4" cy="200.9" r="1.30"/><circle cx="488.1" cy="200.5" r="1.30"/><circle cx="488.3" cy="200.3" r="1.30"/><circle cx="489.5" cy="199.8" r="1.30"/><circle cx="489.8" cy="199.6" r="1.30"/><circle cx="490.8" cy="199.2" r="1.30"/><circle cx="491.3" cy="200.1" r="1.30"/><circle cx="491.2" cy="199.6" r="1.30"/><circle cx="492.7" cy="199.7" r="1.30"/><circle cx="493.3" cy="198.9" r="1.30"/><circle cx="493.7" cy="199.6" r="1.30"/><circle cx="495.0" cy="198.4" r="1.30"/><circle cx="494.7" cy="198.2" r="1.30"/><circle cx="495.3" cy="198.5" r="1.30"/><circle cx="496.2" cy="198.8" r="1.30"/><circle cx="497.5" cy="198.0" r="1.30"/><circle cx="498.0" cy="198.4" r="1.30"/><circle cx="498.7" cy="198.3" r="1.30"/><circle cx="499.0" cy="198.4" r="1.30"/><circle cx="500.0" cy="199.1" r="1.30"/><circle cx="500.9" cy="198.4" r="1.30"/><circle cx="501.8" cy="199.5" r="1.30"/><circle cx="502.5" cy="199.5" r="1.30"/><circle cx="502.3" cy="199.2" r="1.30"/><circle cx="503.1" cy="199.6" r="1.30"/><circle cx="503.9" cy="199.7" r="1.30"/><circle cx="504.7" cy="199.7" r="1.30"/><circle cx="505.4" cy="199.3" r="1.30"/><circle cx="506.1" cy="199.9" r="1.30"/><circle cx="507.4" cy="200.2" r="1.30"/><circle cx="507.5" cy="200.8" r="1.30"/><circle cx="508.7" cy="200.6" r="1.30"/><circle cx="508.9" cy="201.4" r="1.30"/><circle cx="509.7" cy="202.3" r="1.30"/><circle cx="509.9" cy="202.3" r="1.30"/><circle cx="510.8" cy="202.4" r="1.30"/><circle cx="510.8" cy="203.1" r="1.30"/><circle cx="512.6" cy="202.8" r="1.30"/><circle cx="512.3" cy="204.2" r="1.30"/><circle cx="512.5" cy="203.6" r="1.30"/><circle cx="513.0" cy="205.1" r="1.30"/><circle cx="514.3" cy="205.2" r="1.30"/><circle cx="514.6" cy="205.3" r="1.30"/><circle cx="515.2" cy="206.4" r="1.30"/><circle cx="515.5" cy="206.9" r="1.30"/><circle cx="515.8" cy="207.5" r="1.30"/><circle cx="515.8" cy="208.6" r="1.30"/></g>
<g fill="#f7841c"><circle cx="449.5" cy="215.6" r="0.60"/><circle cx="449.2" cy="216.5" r="0.60"/><circle cx="450.2" cy="215.3" r="0.60"/><circle cx="451.6" cy="215.5" r="0.60"/><circle cx="452.7" cy="215.3" r="0.60"/><circle cx="453.6" cy="215.3" r="0.60"/><circle cx="453.9" cy="215.8" r="0.60"/><circle cx="454.7" cy="215.5" r="0.60"/><circle cx="455.5" cy="214.2" r="0.60"/><circle cx="456.5" cy="214.6" r="0.60"/><circle cx="456.5" cy="214.5" r="0.60"/><circle cx="457.9" cy="215.2" r="0.60"/><circle cx="458.8" cy="215.8" r="0.60"/><circle cx="459.6" cy="215.9" r="0.60"/><circle cx="460.0" cy="215.5" r="0.60"/><circle cx="460.2" cy="215.4" r="0.60"/><circle cx="461.0" cy="214.8" r="0.60"/><circle cx="462.5" cy="214.2" r="0.60"/><circle cx="462.3" cy="214.2" r="0.60"/><circle cx="463.6" cy="213.2" r="0.60"/><circle cx="463.6" cy="213.4" r="0.60"/><circle cx="464.2" cy="213.7" r="0.60"/><circle cx="465.5" cy="213.0" r="0.60"/><circle cx="466.1" cy="213.0" r="0.60"/><circle cx="467.4" cy="212.4" r="0.60"/><circle cx="467.4" cy="212.5" r="0.60"/><circle cx="468.1" cy="212.3" r="0.60"/><circle cx="469.1" cy="211.9" r="0.60"/><circle cx="469.9" cy="211.8" r="0.60"/><circle cx="469.9" cy="212.2" r="0.60"/><circle cx="470.9" cy="211.3" r="0.60"/><circle cx="471.7" cy="211.7" r="0.60"/><circle cx="473.0" cy="211.0" r="0.60"/><circle cx="473.1" cy="210.3" r="0.60"/><circle cx="474.4" cy="210.2" r="0.60"/><circle cx="474.7" cy="210.2" r="0.60"/><circle cx="475.1" cy="210.0" r="0.60"/><circle cx="475.6" cy="209.4" r="0.60"/><circle cx="476.6" cy="209.9" r="0.60"/><circle cx="477.3" cy="208.6" r="0.60"/><circle cx="477.9" cy="208.0" r="0.60"/><circle cx="478.1" cy="208.4" r="0.60"/><circle cx="479.3" cy="207.5" r="0.60"/><circle cx="479.7" cy="207.0" r="0.60"/><circle cx="479.9" cy="206.6" r="0.60"/><circle cx="481.0" cy="206.3" r="0.60"/><circle cx="481.0" cy="205.8" r="0.60"/><circle cx="481.8" cy="205.0" r="0.60"/><circle cx="482.6" cy="205.2" r="0.60"/><circle cx="483.0" cy="204.9" r="0.60"/><circle cx="483.0" cy="204.0" r="0.60"/><circle cx="484.3" cy="203.5" r="0.60"/><circle cx="484.4" cy="203.5" r="0.60"/><circle cx="485.4" cy="202.7" r="0.60"/><circle cx="485.5" cy="203.2" r="0.60"/><circle cx="486.6" cy="201.8" r="0.60"/><circle cx="487.0" cy="201.6" r="0.60"/><circle cx="488.4" cy="201.1" r="0.60"/><circle cx="488.4" cy="200.9" r="0.60"/><circle cx="489.3" cy="200.9" r="0.60"/><circle cx="489.9" cy="201.4" r="0.60"/><circle cx="491.3" cy="201.4" r="0.60"/><circle cx="490.9" cy="200.7" r="0.60"/><circle cx="492.6" cy="200.2" r="0.60"/><circle cx="492.5" cy="200.6" r="0.60"/><circle cx="493.4" cy="200.8" r="0.60"/><circle cx="494.5" cy="200.3" r="0.60"/><circle cx="494.6" cy="199.9" r="0.60"/><circle cx="495.3" cy="199.5" r="0.60"/><circle cx="496.5" cy="199.5" r="0.60"/><circle cx="497.5" cy="200.0" r="0.60"/><circle cx="497.2" cy="199.9" r="0.60"/><circle cx="498.6" cy="199.5" r="0.60"/><circle cx="499.2" cy="199.5" r="0.60"/><circle cx="500.3" cy="199.6" r="0.60"/><circle cx="500.9" cy="200.9" r="0.60"/><circle cx="501.9" cy="200.1" r="0.60"/><circle cx="502.3" cy="200.1" r="0.60"/><circle cx="502.8" cy="201.0" r="0.60"/><circle cx="504.1" cy="200.1" r="0.60"/><circle cx="504.4" cy="201.0" r="0.60"/><circle cx="504.9" cy="201.3" r="0.60"/><circle cx="506.5" cy="201.1" r="0.60"/><circle cx="506.5" cy="201.8" r="0.60"/><circle cx="507.3" cy="201.4" r="0.60"/><circle cx="507.7" cy="201.8" r="0.60"/><circle cx="509.1" cy="202.6" r="0.60"/><circle cx="509.6" cy="203.3" r="0.60"/><circle cx="510.6" cy="203.0" r="0.60"/><circle cx="510.6" cy="204.2" r="0.60"/><circle cx="511.6" cy="204.0" r="0.60"/><circle cx="512.2" cy="204.1" r="0.60"/><circle cx="512.1" cy="204.5" r="0.60"/><circle cx="512.9" cy="205.3" r="0.60"/><circle cx="513.5" cy="206.8" r="0.60"/><circle cx="513.6" cy="206.9" r="0.60"/><circle cx="514.9" cy="207.5" r="0.60"/><circle cx="515.0" cy="208.3" r="0.60"/><circle cx="514.8" cy="209.2" r="0.60"/><circle cx="516.0" cy="209.6" r="0.60"/><circle cx="516.5" cy="209.4" r="0.60"/></g>
<g fill="#3a86c8"><circle cx="473.5" cy="209.5" r="1.10"/><circle cx="474.0" cy="209.1" r="1.10"/><circle cx="474.1" cy="210.2" r="1.10"/><circle cx="474.5" cy="210.4" r="1.10"/><circle cx="474.6" cy="211.4" r="1.10"/><circle cx="475.3" cy="211.0" r="1.10"/><circle cx="475.8" cy="210.2" r="1.10"/><circle cx="477.3" cy="210.2" r="1.10"/><circle cx="477.7" cy="210.1" r="1.10"/><circle cx="478.2" cy="208.9" r="1.10"/></g>
<g fill="#f7841c"><circle cx="579.6" cy="214.9" r="0.80"/><circle cx="579.5" cy="214.7" r="0.80"/><circle cx="580.1" cy="213.8" r="0.80"/><circle cx="580.6" cy="213.5" r="0.80"/><circle cx="581.2" cy="213.0" r="0.80"/><circle cx="582.5" cy="212.6" r="0.80"/><circle cx="582.8" cy="212.3" r="0.80"/><circle cx="584.0" cy="211.0" r="0.80"/><circle cx="584.0" cy="211.5" r="0.80"/><circle cx="585.0" cy="210.7" r="0.80"/><circle cx="585.1" cy="211.0" r="0.80"/><circle cx="585.5" cy="210.5" r="0.80"/><circle cx="587.1" cy="209.5" r="0.80"/><circle cx="587.1" cy="209.4" r="0.80"/><circle cx="588.1" cy="209.2" r="0.80"/><circle cx="589.1" cy="209.6" r="0.80"/><circle cx="589.1" cy="209.3" r="0.80"/><circle cx="589.5" cy="208.0" r="0.80"/><circle cx="590.9" cy="208.7" r="0.80"/><circle cx="591.9" cy="208.8" r="0.80"/><circle cx="592.7" cy="207.8" r="0.80"/><circle cx="593.3" cy="208.5" r="0.80"/><circle cx="593.3" cy="207.9" r="0.80"/><circle cx="594.1" cy="207.3" r="0.80"/><circle cx="595.2" cy="207.8" r="0.80"/><circle cx="596.6" cy="207.1" r="0.80"/><circle cx="596.8" cy="208.1" r="0.80"/><circle cx="597.8" cy="207.6" r="0.80"/><circle cx="597.9" cy="207.8" r="0.80"/><circle cx="598.7" cy="207.8" r="0.80"/><circle cx="599.9" cy="207.6" r="0.80"/><circle cx="600.9" cy="207.6" r="0.80"/><circle cx="601.2" cy="208.2" r="0.80"/><circle cx="601.7" cy="207.4" r="0.80"/><circle cx="602.8" cy="207.9" r="0.80"/><circle cx="603.9" cy="207.8" r="0.80"/><circle cx="604.1" cy="207.7" r="0.80"/><circle cx="604.9" cy="208.2" r="0.80"/><circle cx="605.7" cy="208.9" r="0.80"/><circle cx="605.9" cy="209.3" r="0.80"/><circle cx="607.5" cy="209.2" r="0.80"/><circle cx="608.0" cy="209.1" r="0.80"/><circle cx="608.6" cy="209.1" r="0.80"/><circle cx="609.2" cy="209.1" r="0.80"/><circle cx="610.0" cy="209.4" r="0.80"/><circle cx="611.5" cy="210.1" r="0.80"/><circle cx="611.9" cy="209.4" r="0.80"/><circle cx="612.2" cy="210.2" r="0.80"/><circle cx="613.5" cy="210.2" r="0.80"/><circle cx="614.2" cy="211.0" r="0.80"/><circle cx="614.5" cy="210.4" r="0.80"/><circle cx="615.8" cy="210.4" r="0.80"/><circle cx="616.5" cy="210.6" r="0.80"/><circle cx="616.5" cy="210.7" r="0.80"/><circle cx="617.3" cy="211.2" r="0.80"/><circle cx="619.0" cy="211.0" r="0.80"/><circle cx="619.8" cy="210.6" r="0.80"/><circle cx="620.0" cy="210.7" r="0.80"/><circle cx="620.3" cy="211.5" r="0.80"/><circle cx="621.1" cy="211.7" r="0.80"/><circle cx="622.4" cy="211.5" r="0.80"/><circle cx="622.5" cy="211.9" r="0.80"/><circle cx="624.1" cy="211.0" r="0.80"/><circle cx="624.1" cy="211.1" r="0.80"/><circle cx="625.2" cy="211.1" r="0.80"/><circle cx="626.2" cy="211.7" r="0.80"/><circle cx="626.8" cy="211.5" r="0.80"/><circle cx="627.5" cy="211.9" r="0.80"/><circle cx="628.2" cy="211.9" r="0.80"/><circle cx="629.3" cy="212.6" r="0.80"/><circle cx="629.9" cy="212.2" r="0.80"/><circle cx="629.9" cy="212.1" r="0.80"/><circle cx="630.6" cy="213.3" r="0.80"/><circle cx="631.5" cy="213.4" r="0.80"/><circle cx="632.2" cy="213.3" r="0.80"/><circle cx="632.9" cy="213.1" r="0.80"/><circle cx="634.3" cy="213.6" r="0.80"/><circle cx="635.2" cy="213.5" r="0.80"/><circle cx="635.2" cy="213.5" r="0.80"/><circle cx="635.8" cy="214.9" r="0.80"/><circle cx="636.9" cy="214.6" r="0.80"/><circle cx="637.4" cy="215.2" r="0.80"/><circle cx="638.5" cy="214.8" r="0.80"/><circle cx="638.5" cy="215.1" r="0.80"/><circle cx="640.1" cy="215.4" r="0.80"/><circle cx="640.2" cy="214.4" r="0.80"/><circle cx="641.0" cy="214.6" r="0.80"/><circle cx="642.3" cy="213.7" r="0.80"/><circle cx="642.5" cy="213.2" r="0.80"/><circle cx="643.9" cy="213.1" r="0.80"/></g>
<g fill="#3a86c8"><circle cx="579.4" cy="216.0" r="0.50"/><circle cx="580.5" cy="214.8" r="0.50"/><circle cx="581.2" cy="214.9" r="0.50"/><circle cx="580.8" cy="214.9" r="0.50"/><circle cx="581.7" cy="213.7" r="0.50"/><circle cx="582.5" cy="213.7" r="0.50"/><circle cx="582.7" cy="213.4" r="0.50"/><circle cx="584.2" cy="212.8" r="0.50"/><circle cx="584.7" cy="212.5" r="0.50"/><circle cx="585.4" cy="211.6" r="0.50"/><circle cx="585.5" cy="211.7" r="0.50"/><circle cx="585.9" cy="212.1" r="0.50"/><circle cx="587.3" cy="210.8" r="0.50"/><circle cx="587.9" cy="210.9" r="0.50"/><circle cx="588.1" cy="210.3" r="0.50"/><circle cx="589.2" cy="210.0" r="0.50"/><circle cx="590.0" cy="210.3" r="0.50"/><circle cx="590.2" cy="210.5" r="0.50"/><circle cx="590.7" cy="209.4" r="0.50"/><circle cx="592.4" cy="209.2" r="0.50"/><circle cx="592.6" cy="209.5" r="0.50"/><circle cx="593.4" cy="209.4" r="0.50"/><circle cx="594.2" cy="209.3" r="0.50"/><circle cx="594.4" cy="209.7" r="0.50"/><circle cx="595.4" cy="208.7" r="0.50"/><circle cx="596.3" cy="209.6" r="0.50"/><circle cx="597.2" cy="209.1" r="0.50"/><circle cx="597.8" cy="208.8" r="0.50"/><circle cx="598.7" cy="208.9" r="0.50"/><circle cx="598.7" cy="208.6" r="0.50"/><circle cx="599.5" cy="209.2" r="0.50"/><circle cx="601.2" cy="209.4" r="0.50"/><circle cx="601.1" cy="208.8" r="0.50"/><circle cx="602.7" cy="209.2" r="0.50"/><circle cx="602.5" cy="209.6" r="0.50"/><circle cx="603.8" cy="209.6" r="0.50"/><circle cx="604.3" cy="209.5" r="0.50"/><circle cx="605.1" cy="209.8" r="0.50"/><circle cx="606.0" cy="209.9" r="0.50"/><circle cx="606.4" cy="210.6" r="0.50"/><circle cx="606.8" cy="210.5" r="0.50"/><circle cx="607.9" cy="210.7" r="0.50"/><circle cx="609.0" cy="210.5" r="0.50"/><circle cx="609.6" cy="210.3" r="0.50"/><circle cx="609.6" cy="211.1" r="0.50"/><circle cx="610.6" cy="210.5" r="0.50"/><circle cx="612.0" cy="211.2" r="0.50"/><circle cx="611.8" cy="211.3" r="0.50"/><circle cx="612.7" cy="211.8" r="0.50"/><circle cx="613.5" cy="212.1" r="0.50"/><circle cx="614.7" cy="211.2" r="0.50"/><circle cx="615.2" cy="212.4" r="0.50"/><circle cx="616.2" cy="211.6" r="0.50"/><circle cx="616.6" cy="211.8" r="0.50"/><circle cx="617.0" cy="212.2" r="0.50"/><circle cx="618.4" cy="211.8" r="0.50"/><circle cx="619.0" cy="212.6" r="0.50"/><circle cx="620.1" cy="211.8" r="0.50"/><circle cx="619.9" cy="212.7" r="0.50"/><circle cx="620.9" cy="211.9" r="0.50"/><circle cx="622.2" cy="212.0" r="0.50"/><circle cx="622.8" cy="212.6" r="0.50"/><circle cx="623.0" cy="212.3" r="0.50"/><circle cx="623.7" cy="212.8" r="0.50"/><circle cx="624.5" cy="212.3" r="0.50"/><circle cx="625.9" cy="212.4" r="0.50"/><circle cx="626.1" cy="212.9" r="0.50"/><circle cx="626.3" cy="212.7" r="0.50"/><circle cx="627.9" cy="213.7" r="0.50"/><circle cx="628.2" cy="213.2" r="0.50"/><circle cx="628.6" cy="213.4" r="0.50"/><circle cx="629.6" cy="213.6" r="0.50"/><circle cx="630.3" cy="213.5" r="0.50"/><circle cx="631.8" cy="214.2" r="0.50"/><circle cx="631.8" cy="213.5" r="0.50"/><circle cx="632.1" cy="213.8" r="0.50"/><circle cx="632.9" cy="214.7" r="0.50"/><circle cx="634.0" cy="214.4" r="0.50"/><circle cx="635.1" cy="215.3" r="0.50"/><circle cx="635.6" cy="215.9" r="0.50"/><circle cx="635.8" cy="216.2" r="0.50"/><circle cx="637.2" cy="216.4" r="0.50"/><circle cx="636.8" cy="216.6" r="0.50"/><circle cx="638.6" cy="216.0" r="0.50"/><circle cx="639.2" cy="217.0" r="0.50"/><circle cx="638.9" cy="217.0" r="0.50"/><circle cx="640.6" cy="217.2" r="0.50"/></g>
<circle cx="579.5" cy="215.3" r="1.3" fill="#3a86c8"/>
<text x="26.9" y="292.4" font-size="14.5" font-weight="bold" fill="#000" stroke="#000" stroke-width="0.7">f</text>
<text x="356.4" y="291.5" font-size="14.5" font-weight="bold" fill="#000" stroke="#000" stroke-width="0.7">g</text>
<text x="156.4" y="298.2" font-size="10" textLength="68" lengthAdjust="spacingAndGlyphs" stroke="#231f20" stroke-width="0.25">PCA all tissues</text>
<text x="464.9" y="298.2" font-size="10" textLength="109.8" lengthAdjust="spacingAndGlyphs" stroke="#231f20" stroke-width="0.25">PCA tumour tissue only</text>
<rect x="68.5" y="306.5" width="243.0" height="161.8" fill="none" stroke="#666" stroke-width="0.9"/>
<line x1="190.1" y1="306.5" x2="190.1" y2="468.3" stroke="#999" stroke-width="1.1"/>
<line x1="68.5" y1="387.4" x2="311.5" y2="387.4" stroke="#555" stroke-width="1.0"/>
<line x1="62.5" y1="306.5" x2="68.5" y2="306.5" stroke="#666" stroke-width="0.9"/>
<text x="59.5" y="309.0" font-size="9.2" text-anchor="end" fill="#333" stroke="#333" stroke-width="0.25">40</text>
<line x1="62.5" y1="346.9" x2="68.5" y2="346.9" stroke="#666" stroke-width="0.9"/>
<text x="59.5" y="349.4" font-size="9.2" text-anchor="end" fill="#333" stroke="#333" stroke-width="0.25">20</text>
<line x1="62.5" y1="387.4" x2="68.5" y2="387.4" stroke="#666" stroke-width="0.9"/>
<text x="59.5" y="389.9" font-size="9.2" text-anchor="end" fill="#333" stroke="#333" stroke-width="0.25">0</text>
<line x1="62.5" y1="427.8" x2="68.5" y2="427.8" stroke="#666" stroke-width="0.9"/>
<text x="59.5" y="430.3" font-size="9.2" text-anchor="end" fill="#333" stroke="#333" stroke-width="0.25">−20</text>
<line x1="62.5" y1="468.2" x2="68.5" y2="468.2" stroke="#666" stroke-width="0.9"/>
<text x="59.5" y="470.7" font-size="9.2" text-anchor="end" fill="#333" stroke="#333" stroke-width="0.25">−40</text>
<line x1="68.5" y1="468.3" x2="68.5" y2="473.8" stroke="#666" stroke-width="0.9"/>
<text x="68.5" y="485.2" font-size="9.2" text-anchor="middle" fill="#333" stroke="#333" stroke-width="0.25">−40</text>
<line x1="129.3" y1="468.3" x2="129.3" y2="473.8" stroke="#666" stroke-width="0.9"/>
<text x="129.3" y="485.2" font-size="9.2" text-anchor="middle" fill="#333" stroke="#333" stroke-width="0.25">−20</text>
<line x1="190.1" y1="468.3" x2="190.1" y2="473.8" stroke="#666" stroke-width="0.9"/>
<text x="190.1" y="485.2" font-size="9.2" text-anchor="middle" fill="#333" stroke="#333" stroke-width="0.25">0</text>
<line x1="250.9" y1="468.3" x2="250.9" y2="473.8" stroke="#666" stroke-width="0.9"/>
<text x="250.9" y="485.2" font-size="9.2" text-anchor="middle" fill="#333" stroke="#333" stroke-width="0.25">20</text>
<line x1="311.5" y1="468.3" x2="311.5" y2="473.8" stroke="#666" stroke-width="0.9"/>
<text x="311.5" y="485.2" font-size="9.2" text-anchor="middle" fill="#333" stroke="#333" stroke-width="0.25">40</text>
<rect x="398.3" y="306.3" width="242.09999999999997" height="161.89999999999998" fill="none" stroke="#666" stroke-width="0.9"/>
<line x1="519.5" y1="306.3" x2="519.5" y2="468.2" stroke="#333" stroke-width="1.1"/>
<line x1="398.3" y1="387.4" x2="640.4" y2="387.4" stroke="#333" stroke-width="1.0"/>
<line x1="392.3" y1="306.3" x2="398.3" y2="306.3" stroke="#666" stroke-width="0.9"/>
<text x="389" y="308.8" font-size="9.2" text-anchor="end" fill="#333" stroke="#333" stroke-width="0.25">40</text>
<line x1="392.3" y1="346.8" x2="398.3" y2="346.8" stroke="#666" stroke-width="0.9"/>
<text x="389" y="349.3" font-size="9.2" text-anchor="end" fill="#333" stroke="#333" stroke-width="0.25">20</text>
<line x1="392.3" y1="387.3" x2="398.3" y2="387.3" stroke="#666" stroke-width="0.9"/>
<text x="389" y="389.8" font-size="9.2" text-anchor="end" fill="#333" stroke="#333" stroke-width="0.25">0</text>
<line x1="392.3" y1="427.7" x2="398.3" y2="427.7" stroke="#666" stroke-width="0.9"/>
<text x="389" y="430.2" font-size="9.2" text-anchor="end" fill="#333" stroke="#333" stroke-width="0.25">−20</text>
<line x1="392.3" y1="468.2" x2="398.3" y2="468.2" stroke="#666" stroke-width="0.9"/>
<text x="389" y="470.7" font-size="9.2" text-anchor="end" fill="#333" stroke="#333" stroke-width="0.25">−40</text>
<line x1="398.3" y1="468.2" x2="398.3" y2="473.7" stroke="#666" stroke-width="0.9"/>
<text x="398.3" y="485.2" font-size="9.2" text-anchor="middle" fill="#333" stroke="#333" stroke-width="0.25">−40</text>
<line x1="458.8" y1="468.2" x2="458.8" y2="473.7" stroke="#666" stroke-width="0.9"/>
<text x="458.8" y="485.2" font-size="9.2" text-anchor="middle" fill="#333" stroke="#333" stroke-width="0.25">−20</text>
<line x1="519.4" y1="468.2" x2="519.4" y2="473.7" stroke="#666" stroke-width="0.9"/>
<text x="519.4" y="485.2" font-size="9.2" text-anchor="middle" fill="#333" stroke="#333" stroke-width="0.25">0</text>
<line x1="579.9" y1="468.2" x2="579.9" y2="473.7" stroke="#666" stroke-width="0.9"/>
<text x="579.9" y="485.2" font-size="9.2" text-anchor="middle" fill="#333" stroke="#333" stroke-width="0.25">20</text>
<line x1="640.4" y1="468.2" x2="640.4" y2="473.7" stroke="#666" stroke-width="0.9"/>
<text x="640.4" y="485.2" font-size="9.2" text-anchor="middle" fill="#333" stroke="#333" stroke-width="0.25">40</text>
<text x="161.3" y="499.4" font-size="9.8" textLength="57.1" lengthAdjust="spacingAndGlyphs" stroke="#231f20" stroke-width="0.25">PC 1 (28.6%)</text>
<text x="479.5" y="499.4" font-size="9.8" textLength="54.4" lengthAdjust="spacingAndGlyphs" stroke="#231f20" stroke-width="0.25">PC 1 (21.8%)</text>
<text transform="translate(34.7,416.6) rotate(-90)" font-size="9.8" textLength="57.8" lengthAdjust="spacingAndGlyphs">PC 2 (10.6%)</text>
<text transform="translate(364.8,411.4) rotate(-90)" font-size="9.8" textLength="47.9" lengthAdjust="spacingAndGlyphs">PC 2 (19%)</text>
<circle cx="87.1" cy="368.6" r="2.5" fill="#1414ff"/>
<circle cx="115.4" cy="388.4" r="2.5" fill="#1414ff"/>
<circle cx="103.5" cy="395.3" r="2.5" fill="#1414ff"/>
<circle cx="130.3" cy="398.2" r="2.5" fill="#1414ff"/>
<circle cx="138.3" cy="399.2" r="2.5" fill="#1414ff"/>
<circle cx="100.2" cy="362.6" r="2.5" fill="#f81818"/>
<circle cx="124.6" cy="367.3" r="2.5" fill="#f81818"/>
<circle cx="146.4" cy="363.6" r="2.5" fill="#f81818"/>
<circle cx="118.2" cy="377.0" r="2.5" fill="#f81818"/>
<circle cx="138.7" cy="381.9" r="2.5" fill="#f81818"/>
<circle cx="130.9" cy="385.7" r="2.5" fill="#f81818"/>
<circle cx="139.5" cy="395.1" r="2.5" fill="#f81818"/>
<circle cx="161.6" cy="419.5" r="2.5" fill="#f81818"/>
<path d="M288.9,324.1 L291.5,328.8 L286.3,328.8 Z" fill="#000"/>
<path d="M271.1,350.9 L273.7,355.6 L268.5,355.6 Z" fill="#000"/>
<path d="M251.1,357.0 L253.7,361.7 L248.5,361.7 Z" fill="#000"/>
<path d="M252.8,360.0 L255.4,364.7 L250.2,364.7 Z" fill="#000"/>
<path d="M222.7,361.1 L225.3,365.8 L220.1,365.8 Z" fill="#000"/>
<path d="M223.3,363.7 L225.9,368.4 L220.7,368.4 Z" fill="#f81818"/>
<path d="M220.5,382.5 L223.1,387.2 L217.9,387.2 Z" fill="#f81818"/>
<path d="M195.1,390.1 L197.7,394.8 L192.5,394.8 Z" fill="#f81818"/>
<path d="M236.6,390.5 L239.2,395.2 L234.0,395.2 Z" fill="#f81818"/>
<path d="M229.3,396.0 L231.9,400.7 L226.7,400.7 Z" fill="#f81818"/>
<path d="M230.9,417.7 L233.5,422.4 L228.3,422.4 Z" fill="#f81818"/>
<path d="M245.6,419.7 L248.2,424.4 L243.0,424.4 Z" fill="#f81818"/>
<path d="M238.5,396.6 L241.1,401.3 L235.9,401.3 Z" fill="#1414ff"/>
<path d="M237.4,399.7 L240.0,404.4 L234.8,404.4 Z" fill="#1414ff"/>
<path d="M222.5,403.2 L225.1,407.9 L219.9,407.9 Z" fill="#1414ff"/>
<path d="M214.3,425.6 L216.9,430.3 L211.7,430.3 Z" fill="#1414ff"/>
<path d="M239.7,423.6 L242.3,428.3 L237.1,428.3 Z" fill="#1414ff"/>
<path d="M78.4,422.7 L81.0,427.4 L75.8,427.4 Z" fill="#000"/>
<text x="87" y="428.6" font-size="8.6" textLength="37" lengthAdjust="spacingAndGlyphs" fill="#000" stroke="#000" stroke-width="0.25">Wild type</text>
<path d="M78.4,430.9 L81.0,435.6 L75.8,435.6 Z" fill="#1414ff"/>
<text x="87" y="436.8" font-size="8.6" textLength="44.5" lengthAdjust="spacingAndGlyphs" fill="#1414ff" stroke="#1414ff" stroke-width="0.25">APC, N.Adj.</text>
<path d="M78.4,439.0 L81.0,443.7 L75.8,443.7 Z" fill="#f81818"/>
<text x="87" y="444.9" font-size="8.6" textLength="67.5" lengthAdjust="spacingAndGlyphs" fill="#f81818" stroke="#f81818" stroke-width="0.25">APC KRAS, N.Adj.</text>
<circle cx="78.4" cy="450.1" r="2.6" fill="#1414ff"/>
<text x="87" y="453.1" font-size="8.6" textLength="48.5" lengthAdjust="spacingAndGlyphs" fill="#1414ff" stroke="#1414ff" stroke-width="0.25">APC, tumour</text>
<circle cx="78.4" cy="458.3" r="2.6" fill="#f81818"/>
<text x="87" y="461.3" font-size="8.6" textLength="73" lengthAdjust="spacingAndGlyphs" fill="#f81818" stroke="#f81818" stroke-width="0.25">APC KRAS, tumour</text>
<circle cx="473.5" cy="351.5" r="2.1" fill="#f81818"/>
<circle cx="475.8" cy="356.5" r="2.1" fill="#f81818"/>
<circle cx="476.1" cy="357.8" r="2.1" fill="#f81818"/>
<circle cx="502.4" cy="381.4" r="2.1" fill="#f81818"/>
<circle cx="568.9" cy="338.3" r="2.1" fill="#f81818"/>
<circle cx="521.3" cy="364.5" r="2.1" fill="#f81818"/>
<circle cx="577.2" cy="382.6" r="2.1" fill="#f81818"/>
<circle cx="634.5" cy="406.9" r="2.1" fill="#f81818"/>
<circle cx="452.7" cy="423.7" r="2.1" fill="#1414ff"/>
<circle cx="488.7" cy="427.4" r="2.1" fill="#1414ff"/>
<circle cx="500.3" cy="436.1" r="2.1" fill="#1414ff"/>
<circle cx="536.2" cy="400.2" r="2.1" fill="#1414ff"/>
<circle cx="544.3" cy="407.2" r="2.1" fill="#1414ff"/>
<circle cx="407.0" cy="450.8" r="1.6" fill="#1414ff"/>
<text x="414.4" y="453.8" font-size="8.6" textLength="48.5" lengthAdjust="spacingAndGlyphs" fill="#1414ff" stroke="#1414ff" stroke-width="0.25">APC, tumour</text>
<circle cx="407.0" cy="459.7" r="1.6" fill="#f81818"/>
<text x="414.4" y="462.7" font-size="8.6" textLength="73.6" lengthAdjust="spacingAndGlyphs" fill="#f81818" stroke="#f81818" stroke-width="0.25">APC KRAS, tumour</text>
<text x="14.8" y="535.5" font-size="14.5" font-weight="bold" fill="#000" stroke="#000" stroke-width="0.7">h</text>
<text x="361.3" y="533.4" font-size="14.5" font-weight="bold" fill="#000" stroke="#000" stroke-width="0.7">i</text>
<text x="132.7" y="546.4" font-size="9.8" font-style="italic" textLength="17.9" lengthAdjust="spacingAndGlyphs">Apc</text>
<text x="151.2" y="542.3" font-size="7" font-style="italic" textLength="11" lengthAdjust="spacingAndGlyphs">fl/fl</text>
<text x="456" y="546.4" font-size="9.8" font-style="italic" textLength="17.9" lengthAdjust="spacingAndGlyphs">Apc</text>
<text x="474.5" y="542.3" font-size="7" font-style="italic" textLength="9" lengthAdjust="spacingAndGlyphs">fl/fl</text>
<text x="486.5" y="546.4" font-size="9.8" font-style="italic" textLength="22.5" lengthAdjust="spacingAndGlyphs">Kras</text>
<text x="509.8" y="542.3" font-size="7" font-style="italic" textLength="25" lengthAdjust="spacingAndGlyphs">G12D/+</text>
<line x1="148.3" y1="554.7" x2="148.3" y2="728.5" stroke="#aaa" stroke-width="1.3"/>
<line x1="17" y1="728.5" x2="278" y2="728.5" stroke="#777" stroke-width="1.0"/>
<line x1="144.3" y1="568.3" x2="148.3" y2="568.3" stroke="#777" stroke-width="0.8"/>
<text x="141.5" y="571.6999999999999" font-size="9.4" text-anchor="end" fill="#333" stroke="#333" stroke-width="0.25">6</text>
<line x1="144.3" y1="621.4" x2="148.3" y2="621.4" stroke="#777" stroke-width="0.8"/>
<text x="141.5" y="624.8" font-size="9.4" text-anchor="end" fill="#333" stroke="#333" stroke-width="0.25">4</text>
<line x1="144.3" y1="674.6" x2="148.3" y2="674.6" stroke="#777" stroke-width="0.8"/>
<text x="141.5" y="678.0" font-size="9.4" text-anchor="end" fill="#333" stroke="#333" stroke-width="0.25">2</text>
<line x1="36.8" y1="728.5" x2="36.8" y2="733" stroke="#777" stroke-width="0.8"/>
<text x="36.8" y="743.8" font-size="9.4" text-anchor="middle" fill="#333" stroke="#333" stroke-width="0.25">−6</text>
<line x1="74.1" y1="728.5" x2="74.1" y2="733" stroke="#777" stroke-width="0.8"/>
<text x="74.1" y="743.8" font-size="9.4" text-anchor="middle" fill="#333" stroke="#333" stroke-width="0.25">−4</text>
<line x1="110.9" y1="728.5" x2="110.9" y2="733" stroke="#777" stroke-width="0.8"/>
<text x="110.9" y="743.8" font-size="9.4" text-anchor="middle" fill="#333" stroke="#333" stroke-width="0.25">−2</text>
<line x1="147.9" y1="728.5" x2="147.9" y2="733" stroke="#777" stroke-width="0.8"/>
<text x="147.9" y="743.8" font-size="9.4" text-anchor="middle" fill="#333" stroke="#333" stroke-width="0.25">0</text>
<line x1="185" y1="728.5" x2="185" y2="733" stroke="#777" stroke-width="0.8"/>
<text x="185" y="743.8" font-size="9.4" text-anchor="middle" fill="#333" stroke="#333" stroke-width="0.25">2</text>
<line x1="222" y1="728.5" x2="222" y2="733" stroke="#777" stroke-width="0.8"/>
<text x="222" y="743.8" font-size="9.4" text-anchor="middle" fill="#333" stroke="#333" stroke-width="0.25">4</text>
<line x1="258.9" y1="728.5" x2="258.9" y2="733" stroke="#777" stroke-width="0.8"/>
<text x="258.9" y="743.8" font-size="9.4" text-anchor="middle" fill="#333" stroke="#333" stroke-width="0.25">6</text>
<line x1="493.4" y1="555.2" x2="493.4" y2="728.5" stroke="#777" stroke-width="1.0"/>
<line x1="363" y1="728.5" x2="623" y2="728.5" stroke="#777" stroke-width="1.0"/>
<line x1="489.4" y1="555.2" x2="493.4" y2="555.2" stroke="#777" stroke-width="0.8"/>
<text x="486.5" y="558.6" font-size="9.4" text-anchor="end" fill="#333" stroke="#333" stroke-width="0.25">8</text>
<line x1="489.4" y1="598.3" x2="493.4" y2="598.3" stroke="#777" stroke-width="0.8"/>
<text x="486.5" y="601.6999999999999" font-size="9.4" text-anchor="end" fill="#333" stroke="#333" stroke-width="0.25">6</text>
<line x1="489.4" y1="641.4" x2="493.4" y2="641.4" stroke="#777" stroke-width="0.8"/>
<text x="486.5" y="644.8" font-size="9.4" text-anchor="end" fill="#333" stroke="#333" stroke-width="0.25">4</text>
<line x1="489.4" y1="684.5" x2="493.4" y2="684.5" stroke="#777" stroke-width="0.8"/>
<text x="486.5" y="687.9" font-size="9.4" text-anchor="end" fill="#333" stroke="#333" stroke-width="0.25">2</text>
<line x1="373.4" y1="728.5" x2="373.4" y2="733" stroke="#777" stroke-width="0.8"/>
<text x="373.4" y="743.8" font-size="9.4" text-anchor="middle" fill="#333" stroke="#333" stroke-width="0.25">−6</text>
<line x1="413.6" y1="728.5" x2="413.6" y2="733" stroke="#777" stroke-width="0.8"/>
<text x="413.6" y="743.8" font-size="9.4" text-anchor="middle" fill="#333" stroke="#333" stroke-width="0.25">−4</text>
<line x1="453.5" y1="728.5" x2="453.5" y2="733" stroke="#777" stroke-width="0.8"/>
<text x="453.5" y="743.8" font-size="9.4" text-anchor="middle" fill="#333" stroke="#333" stroke-width="0.25">−2</text>
<line x1="493.7" y1="728.5" x2="493.7" y2="733" stroke="#777" stroke-width="0.8"/>
<text x="493.7" y="743.8" font-size="9.4" text-anchor="middle" fill="#333" stroke="#333" stroke-width="0.25">0</text>
<line x1="533.8" y1="728.5" x2="533.8" y2="733" stroke="#777" stroke-width="0.8"/>
<text x="533.8" y="743.8" font-size="9.4" text-anchor="middle" fill="#333" stroke="#333" stroke-width="0.25">2</text>
<line x1="573.9" y1="728.5" x2="573.9" y2="733" stroke="#777" stroke-width="0.8"/>
<text x="573.9" y="743.8" font-size="9.4" text-anchor="middle" fill="#333" stroke="#333" stroke-width="0.25">4</text>
<line x1="614" y1="728.5" x2="614" y2="733" stroke="#777" stroke-width="0.8"/>
<text x="614" y="743.8" font-size="9.4" text-anchor="middle" fill="#333" stroke="#333" stroke-width="0.25">6</text>
<text x="132.6" y="758.6" font-size="10">log<tspan font-size="7" dy="2.5">2</tspan><tspan dy="-2.5">FC</tspan></text>
<text x="148" y="770" font-size="10" text-anchor="middle" textLength="151" lengthAdjust="spacingAndGlyphs" stroke="#231f20" stroke-width="0.25">(tumour/normal adjacent tissue)</text>
<text x="478.3" y="758.6" font-size="10">log<tspan font-size="7" dy="2.5">2</tspan><tspan dy="-2.5">FC</tspan></text>
<text x="493.7" y="770" font-size="10" text-anchor="middle" textLength="151" lengthAdjust="spacingAndGlyphs" stroke="#231f20" stroke-width="0.25">(tumour/normal adjacent tissue)</text>
<text transform="translate(26,675) rotate(-90)" font-size="10">−log<tspan font-size="7" dy="2.5">10</tspan><tspan dy="-2.5">(</tspan><tspan font-style="italic">P</tspan> value)</text>
<text transform="translate(372,672.6) rotate(-90)" font-size="10">−log<tspan font-size="7" dy="2.5">10</tspan><tspan dy="-2.5">(</tspan><tspan font-style="italic">P</tspan> value)</text>
<path fill="#000" d="M146.3 719.4h1.84v1.84h-1.84zM146.5 722.9h1.84v1.84h-1.84zM146.4 714.1h1.84v1.84h-1.84zM148.9 719.0h1.84v1.84h-1.84zM145.9 720.5h1.84v1.84h-1.84zM148.4 724.7h1.84v1.84h-1.84zM150.7 720.5h1.84v1.84h-1.84zM143.0 716.0h1.84v1.84h-1.84zM148.4 725.3h1.84v1.84h-1.84zM147.3 719.7h1.84v1.84h-1.84zM150.0 714.3h1.84v1.84h-1.84zM145.4 722.0h1.84v1.84h-1.84zM151.9 719.1h1.84v1.84h-1.84zM149.2 721.1h1.84v1.84h-1.84zM151.4 715.6h1.84v1.84h-1.84zM150.2 714.0h1.84v1.84h-1.84zM132.7 717.7h1.84v1.84h-1.84zM142.0 723.6h1.84v1.84h-1.84zM150.7 715.2h1.84v1.84h-1.84zM151.7 716.1h1.84v1.84h-1.84zM146.6 718.9h1.84v1.84h-1.84zM147.7 723.4h1.84v1.84h-1.84zM150.6 721.5h1.84v1.84h-1.84zM150.7 722.0h1.84v1.84h-1.84zM143.6 717.2h1.84v1.84h-1.84zM144.5 722.1h1.84v1.84h-1.84zM142.6 715.7h1.84v1.84h-1.84zM151.3 725.8h1.84v1.84h-1.84zM149.9 723.4h1.84v1.84h-1.84zM154.9 719.7h1.84v1.84h-1.84zM139.3 718.0h1.84v1.84h-1.84zM152.3 714.3h1.84v1.84h-1.84zM147.3 721.1h1.84v1.84h-1.84zM145.3 723.0h1.84v1.84h-1.84zM150.5 717.6h1.84v1.84h-1.84zM144.0 716.8h1.84v1.84h-1.84zM152.3 717.8h1.84v1.84h-1.84zM146.7 723.1h1.84v1.84h-1.84zM143.1 718.9h1.84v1.84h-1.84zM137.0 715.8h1.84v1.84h-1.84zM144.0 721.7h1.84v1.84h-1.84zM153.6 720.0h1.84v1.84h-1.84zM148.5 720.8h1.84v1.84h-1.84zM153.0 723.7h1.84v1.84h-1.84zM148.6 716.0h1.84v1.84h-1.84zM152.0 721.6h1.84v1.84h-1.84zM153.8 720.0h1.84v1.84h-1.84zM157.8 718.6h1.84v1.84h-1.84zM155.8 720.5h1.84v1.84h-1.84zM144.2 715.6h1.84v1.84h-1.84zM146.2 725.8h1.84v1.84h-1.84zM151.6 722.8h1.84v1.84h-1.84zM134.0 722.9h1.84v1.84h-1.84zM150.1 717.9h1.84v1.84h-1.84zM143.6 720.1h1.84v1.84h-1.84zM156.6 715.9h1.84v1.84h-1.84zM144.7 725.5h1.84v1.84h-1.84zM144.6 718.6h1.84v1.84h-1.84zM147.6 715.1h1.84v1.84h-1.84zM148.3 715.2h1.84v1.84h-1.84zM151.9 720.1h1.84v1.84h-1.84zM159.6 721.2h1.84v1.84h-1.84zM154.6 714.9h1.84v1.84h-1.84zM146.4 721.4h1.84v1.84h-1.84zM156.7 713.4h1.84v1.84h-1.84zM152.5 722.4h1.84v1.84h-1.84zM155.5 722.9h1.84v1.84h-1.84zM147.4 718.0h1.84v1.84h-1.84zM140.2 720.9h1.84v1.84h-1.84zM143.7 721.4h1.84v1.84h-1.84zM138.5 718.5h1.84v1.84h-1.84zM148.5 723.4h1.84v1.84h-1.84zM155.0 719.9h1.84v1.84h-1.84zM140.9 721.9h1.84v1.84h-1.84zM149.9 722.0h1.84v1.84h-1.84zM143.2 724.6h1.84v1.84h-1.84zM147.6 722.9h1.84v1.84h-1.84zM154.1 722.5h1.84v1.84h-1.84zM148.4 718.9h1.84v1.84h-1.84zM147.7 726.0h1.84v1.84h-1.84zM147.7 722.2h1.84v1.84h-1.84zM153.7 718.0h1.84v1.84h-1.84zM137.6 721.3h1.84v1.84h-1.84zM148.3 717.6h1.84v1.84h-1.84zM151.9 722.5h1.84v1.84h-1.84zM141.6 722.2h1.84v1.84h-1.84zM146.0 714.1h1.84v1.84h-1.84zM149.6 719.9h1.84v1.84h-1.84zM143.0 722.2h1.84v1.84h-1.84zM149.8 717.8h1.84v1.84h-1.84zM149.3 724.1h1.84v1.84h-1.84zM143.2 721.6h1.84v1.84h-1.84zM136.8 722.9h1.84v1.84h-1.84zM145.4 719.7h1.84v1.84h-1.84zM157.5 720.0h1.84v1.84h-1.84zM159.4 718.3h1.84v1.84h-1.84zM149.0 718.1h1.84v1.84h-1.84zM143.3 720.3h1.84v1.84h-1.84zM145.5 720.9h1.84v1.84h-1.84zM146.2 727.1h1.84v1.84h-1.84zM141.5 721.3h1.84v1.84h-1.84zM164.5 716.6h1.84v1.84h-1.84zM138.9 717.9h1.84v1.84h-1.84zM149.7 722.9h1.84v1.84h-1.84zM154.2 719.1h1.84v1.84h-1.84zM138.3 718.3h1.84v1.84h-1.84zM153.9 721.9h1.84v1.84h-1.84zM136.3 719.9h1.84v1.84h-1.84zM150.2 721.3h1.84v1.84h-1.84zM140.3 716.7h1.84v1.84h-1.84zM147.3 722.1h1.84v1.84h-1.84zM150.3 718.2h1.84v1.84h-1.84zM140.7 717.0h1.84v1.84h-1.84zM140.7 722.7h1.84v1.84h-1.84zM134.4 718.7h1.84v1.84h-1.84zM149.6 726.2h1.84v1.84h-1.84zM147.5 724.1h1.84v1.84h-1.84zM144.9 717.1h1.84v1.84h-1.84zM143.4 726.2h1.84v1.84h-1.84zM152.5 722.0h1.84v1.84h-1.84zM165.4 720.0h1.84v1.84h-1.84zM150.5 721.3h1.84v1.84h-1.84zM148.6 722.9h1.84v1.84h-1.84zM155.2 719.7h1.84v1.84h-1.84zM157.6 706.9h1.84v1.84h-1.84zM155.0 712.5h1.84v1.84h-1.84zM160.9 706.0h1.84v1.84h-1.84zM167.6 649.6h1.84v1.84h-1.84zM164.1 664.4h1.84v1.84h-1.84zM156.6 693.8h1.84v1.84h-1.84zM165.3 687.4h1.84v1.84h-1.84zM161.8 676.1h1.84v1.84h-1.84zM163.4 642.0h1.84v1.84h-1.84zM155.8 699.0h1.84v1.84h-1.84zM178.9 671.3h1.84v1.84h-1.84zM160.0 716.9h1.84v1.84h-1.84zM155.5 717.6h1.84v1.84h-1.84zM168.2 669.4h1.84v1.84h-1.84zM163.0 704.6h1.84v1.84h-1.84zM162.6 655.8h1.84v1.84h-1.84zM149.9 705.0h1.84v1.84h-1.84zM170.8 669.9h1.84v1.84h-1.84zM154.9 724.7h1.84v1.84h-1.84zM156.7 641.7h1.84v1.84h-1.84zM169.8 669.9h1.84v1.84h-1.84zM142.5 711.9h1.84v1.84h-1.84zM173.5 691.0h1.84v1.84h-1.84zM154.8 668.0h1.84v1.84h-1.84zM166.0 676.6h1.84v1.84h-1.84zM162.4 636.8h1.84v1.84h-1.84zM170.9 668.8h1.84v1.84h-1.84zM159.8 696.3h1.84v1.84h-1.84zM156.9 716.7h1.84v1.84h-1.84zM155.3 710.3h1.84v1.84h-1.84zM161.8 711.9h1.84v1.84h-1.84zM166.8 694.7h1.84v1.84h-1.84zM152.9 698.3h1.84v1.84h-1.84zM171.2 666.1h1.84v1.84h-1.84zM158.4 643.4h1.84v1.84h-1.84zM156.8 701.2h1.84v1.84h-1.84zM161.5 672.3h1.84v1.84h-1.84zM159.5 668.5h1.84v1.84h-1.84zM158.7 694.5h1.84v1.84h-1.84zM171.8 676.4h1.84v1.84h-1.84zM173.2 648.3h1.84v1.84h-1.84zM149.5 718.2h1.84v1.84h-1.84zM170.7 663.4h1.84v1.84h-1.84zM163.9 681.5h1.84v1.84h-1.84zM155.7 697.4h1.84v1.84h-1.84zM165.2 687.3h1.84v1.84h-1.84zM170.4 692.1h1.84v1.84h-1.84zM166.2 695.1h1.84v1.84h-1.84zM150.0 720.6h1.84v1.84h-1.84zM161.3 654.5h1.84v1.84h-1.84zM166.6 662.2h1.84v1.84h-1.84zM161.4 682.4h1.84v1.84h-1.84zM159.8 665.9h1.84v1.84h-1.84zM163.3 689.2h1.84v1.84h-1.84zM165.5 702.9h1.84v1.84h-1.84zM169.9 670.4h1.84v1.84h-1.84zM165.1 672.0h1.84v1.84h-1.84zM178.8 685.5h1.84v1.84h-1.84zM143.0 706.9h1.84v1.84h-1.84zM144.1 718.1h1.84v1.84h-1.84zM165.3 698.2h1.84v1.84h-1.84zM145.1 720.5h1.84v1.84h-1.84zM164.8 675.7h1.84v1.84h-1.84zM171.5 698.5h1.84v1.84h-1.84zM167.4 694.0h1.84v1.84h-1.84zM167.6 659.5h1.84v1.84h-1.84zM166.2 673.6h1.84v1.84h-1.84zM174.9 690.2h1.84v1.84h-1.84zM159.4 680.8h1.84v1.84h-1.84zM166.0 687.4h1.84v1.84h-1.84zM167.7 701.6h1.84v1.84h-1.84zM155.1 671.2h1.84v1.84h-1.84zM175.4 684.6h1.84v1.84h-1.84zM148.1 684.5h1.84v1.84h-1.84zM164.9 681.9h1.84v1.84h-1.84zM170.2 671.6h1.84v1.84h-1.84zM159.8 683.3h1.84v1.84h-1.84zM167.4 673.4h1.84v1.84h-1.84zM154.8 689.6h1.84v1.84h-1.84zM169.4 640.9h1.84v1.84h-1.84zM171.3 661.9h1.84v1.84h-1.84zM167.0 659.6h1.84v1.84h-1.84zM161.4 695.9h1.84v1.84h-1.84zM153.5 655.5h1.84v1.84h-1.84zM169.8 639.9h1.84v1.84h-1.84zM159.2 703.1h1.84v1.84h-1.84zM164.1 702.7h1.84v1.84h-1.84zM164.4 636.5h1.84v1.84h-1.84zM161.8 650.8h1.84v1.84h-1.84zM157.2 702.9h1.84v1.84h-1.84zM165.0 664.4h1.84v1.84h-1.84zM147.4 724.4h1.84v1.84h-1.84zM163.2 644.3h1.84v1.84h-1.84zM164.5 714.2h1.84v1.84h-1.84zM158.6 690.4h1.84v1.84h-1.84zM157.8 651.8h1.84v1.84h-1.84zM167.0 717.9h1.84v1.84h-1.84zM176.8 695.3h1.84v1.84h-1.84zM157.3 677.8h1.84v1.84h-1.84zM151.3 721.9h1.84v1.84h-1.84zM157.7 653.7h1.84v1.84h-1.84zM149.9 696.9h1.84v1.84h-1.84zM156.5 706.5h1.84v1.84h-1.84zM178.1 679.8h1.84v1.84h-1.84zM161.8 684.2h1.84v1.84h-1.84zM171.7 708.6h1.84v1.84h-1.84zM146.6 711.5h1.84v1.84h-1.84zM167.3 671.6h1.84v1.84h-1.84zM159.7 710.4h1.84v1.84h-1.84zM177.1 686.9h1.84v1.84h-1.84zM180.8 694.1h1.84v1.84h-1.84zM166.2 651.3h1.84v1.84h-1.84zM159.4 684.7h1.84v1.84h-1.84zM152.9 685.4h1.84v1.84h-1.84zM164.3 646.3h1.84v1.84h-1.84zM154.5 697.6h1.84v1.84h-1.84zM164.1 678.7h1.84v1.84h-1.84zM154.7 694.0h1.84v1.84h-1.84zM166.2 656.1h1.84v1.84h-1.84zM167.3 684.8h1.84v1.84h-1.84zM155.0 657.8h1.84v1.84h-1.84zM155.0 716.5h1.84v1.84h-1.84zM166.6 655.8h1.84v1.84h-1.84zM169.1 654.3h1.84v1.84h-1.84zM174.1 676.0h1.84v1.84h-1.84zM160.8 691.4h1.84v1.84h-1.84zM160.3 715.9h1.84v1.84h-1.84zM157.0 679.0h1.84v1.84h-1.84zM171.5 655.0h1.84v1.84h-1.84zM152.0 714.3h1.84v1.84h-1.84zM168.5 650.4h1.84v1.84h-1.84zM165.9 676.5h1.84v1.84h-1.84zM158.0 709.2h1.84v1.84h-1.84zM151.2 693.1h1.84v1.84h-1.84zM149.8 679.2h1.84v1.84h-1.84zM160.6 712.6h1.84v1.84h-1.84zM158.9 700.1h1.84v1.84h-1.84zM149.8 657.7h1.84v1.84h-1.84zM163.7 691.9h1.84v1.84h-1.84zM167.1 639.1h1.84v1.84h-1.84zM163.1 694.3h1.84v1.84h-1.84zM172.9 697.3h1.84v1.84h-1.84zM160.9 705.7h1.84v1.84h-1.84zM148.2 705.9h1.84v1.84h-1.84zM153.8 680.9h1.84v1.84h-1.84zM144.6 708.4h1.84v1.84h-1.84zM165.0 659.3h1.84v1.84h-1.84zM157.1 656.2h1.84v1.84h-1.84zM168.0 701.7h1.84v1.84h-1.84zM161.8 672.5h1.84v1.84h-1.84zM164.0 639.0h1.84v1.84h-1.84zM169.2 653.7h1.84v1.84h-1.84zM178.4 717.4h1.84v1.84h-1.84zM152.3 693.9h1.84v1.84h-1.84zM159.0 641.9h1.84v1.84h-1.84zM158.6 710.3h1.84v1.84h-1.84zM156.5 700.5h1.84v1.84h-1.84zM164.6 677.1h1.84v1.84h-1.84zM153.2 704.5h1.84v1.84h-1.84zM175.1 670.1h1.84v1.84h-1.84zM148.1 717.0h1.84v1.84h-1.84zM166.9 670.6h1.84v1.84h-1.84zM175.4 680.3h1.84v1.84h-1.84zM163.4 678.5h1.84v1.84h-1.84zM165.5 660.2h1.84v1.84h-1.84zM151.0 692.7h1.84v1.84h-1.84zM151.8 687.8h1.84v1.84h-1.84zM168.6 653.8h1.84v1.84h-1.84zM167.3 693.4h1.84v1.84h-1.84zM172.9 672.8h1.84v1.84h-1.84zM147.8 723.5h1.84v1.84h-1.84zM154.9 716.1h1.84v1.84h-1.84zM158.4 698.2h1.84v1.84h-1.84zM169.5 711.5h1.84v1.84h-1.84zM172.4 678.0h1.84v1.84h-1.84zM147.7 722.6h1.84v1.84h-1.84zM150.7 667.5h1.84v1.84h-1.84zM172.8 685.8h1.84v1.84h-1.84zM144.7 659.2h1.84v1.84h-1.84zM150.3 673.8h1.84v1.84h-1.84zM155.3 677.3h1.84v1.84h-1.84zM161.4 676.9h1.84v1.84h-1.84zM160.5 665.9h1.84v1.84h-1.84zM160.3 689.9h1.84v1.84h-1.84zM162.4 701.8h1.84v1.84h-1.84zM152.0 703.9h1.84v1.84h-1.84zM161.9 716.0h1.84v1.84h-1.84zM160.8 704.7h1.84v1.84h-1.84zM147.1 715.0h1.84v1.84h-1.84zM159.6 696.5h1.84v1.84h-1.84zM141.8 691.9h1.84v1.84h-1.84zM167.6 683.5h1.84v1.84h-1.84zM167.8 704.4h1.84v1.84h-1.84zM152.3 676.8h1.84v1.84h-1.84zM160.7 702.7h1.84v1.84h-1.84zM164.4 650.4h1.84v1.84h-1.84zM150.0 725.0h1.84v1.84h-1.84zM159.4 650.4h1.84v1.84h-1.84zM149.4 715.1h1.84v1.84h-1.84zM153.5 652.0h1.84v1.84h-1.84zM170.0 660.5h1.84v1.84h-1.84zM171.2 685.3h1.84v1.84h-1.84zM170.9 655.4h1.84v1.84h-1.84zM157.6 669.6h1.84v1.84h-1.84zM165.0 661.9h1.84v1.84h-1.84zM169.6 642.3h1.84v1.84h-1.84zM156.5 719.3h1.84v1.84h-1.84zM171.0 681.7h1.84v1.84h-1.84zM160.9 696.7h1.84v1.84h-1.84zM177.8 660.6h1.84v1.84h-1.84zM155.6 675.3h1.84v1.84h-1.84zM151.7 712.4h1.84v1.84h-1.84zM151.5 718.9h1.84v1.84h-1.84zM169.1 702.5h1.84v1.84h-1.84zM153.3 650.1h1.84v1.84h-1.84zM165.4 667.7h1.84v1.84h-1.84zM154.2 695.4h1.84v1.84h-1.84zM151.4 702.1h1.84v1.84h-1.84zM147.5 704.2h1.84v1.84h-1.84zM149.3 694.6h1.84v1.84h-1.84zM163.5 681.5h1.84v1.84h-1.84zM162.0 666.8h1.84v1.84h-1.84zM149.1 656.3h1.84v1.84h-1.84zM158.1 687.5h1.84v1.84h-1.84zM159.7 711.7h1.84v1.84h-1.84zM151.5 702.5h1.84v1.84h-1.84zM168.9 673.2h1.84v1.84h-1.84zM150.4 722.6h1.84v1.84h-1.84zM171.5 706.7h1.84v1.84h-1.84zM160.6 685.3h1.84v1.84h-1.84zM159.1 639.9h1.84v1.84h-1.84zM163.4 699.6h1.84v1.84h-1.84zM154.0 724.0h1.84v1.84h-1.84zM168.2 643.0h1.84v1.84h-1.84zM163.8 687.6h1.84v1.84h-1.84zM153.0 723.4h1.84v1.84h-1.84zM175.3 661.0h1.84v1.84h-1.84zM177.6 662.5h1.84v1.84h-1.84zM169.5 653.0h1.84v1.84h-1.84zM165.7 702.5h1.84v1.84h-1.84zM154.5 714.6h1.84v1.84h-1.84zM160.5 672.9h1.84v1.84h-1.84zM166.2 678.4h1.84v1.84h-1.84zM163.6 679.1h1.84v1.84h-1.84zM158.9 722.5h1.84v1.84h-1.84zM170.2 688.7h1.84v1.84h-1.84zM165.7 678.2h1.84v1.84h-1.84zM157.7 715.3h1.84v1.84h-1.84zM158.6 700.6h1.84v1.84h-1.84zM160.9 693.5h1.84v1.84h-1.84zM174.1 649.7h1.84v1.84h-1.84zM169.6 657.8h1.84v1.84h-1.84zM164.5 713.0h1.84v1.84h-1.84zM174.3 642.8h1.84v1.84h-1.84zM165.1 656.3h1.84v1.84h-1.84zM167.9 689.5h1.84v1.84h-1.84zM166.2 642.2h1.84v1.84h-1.84zM170.4 655.0h1.84v1.84h-1.84zM160.2 698.5h1.84v1.84h-1.84zM151.7 698.3h1.84v1.84h-1.84zM167.1 649.1h1.84v1.84h-1.84zM158.0 704.7h1.84v1.84h-1.84zM166.8 679.3h1.84v1.84h-1.84zM163.7 678.3h1.84v1.84h-1.84zM163.2 697.9h1.84v1.84h-1.84zM164.3 650.2h1.84v1.84h-1.84zM161.3 646.8h1.84v1.84h-1.84zM158.1 671.0h1.84v1.84h-1.84zM161.4 679.2h1.84v1.84h-1.84zM156.7 704.4h1.84v1.84h-1.84zM158.3 702.9h1.84v1.84h-1.84zM159.4 675.2h1.84v1.84h-1.84zM161.2 679.2h1.84v1.84h-1.84zM165.5 683.1h1.84v1.84h-1.84zM167.3 673.8h1.84v1.84h-1.84zM156.1 708.8h1.84v1.84h-1.84zM168.1 651.5h1.84v1.84h-1.84zM151.2 699.2h1.84v1.84h-1.84zM159.5 656.2h1.84v1.84h-1.84zM167.6 704.7h1.84v1.84h-1.84zM152.6 706.5h1.84v1.84h-1.84zM157.7 692.9h1.84v1.84h-1.84zM173.8 693.1h1.84v1.84h-1.84zM173.1 684.8h1.84v1.84h-1.84zM175.5 685.6h1.84v1.84h-1.84zM138.4 718.1h1.84v1.84h-1.84zM176.5 689.6h1.84v1.84h-1.84zM160.0 657.1h1.84v1.84h-1.84zM161.1 694.6h1.84v1.84h-1.84zM154.2 717.3h1.84v1.84h-1.84zM163.5 673.6h1.84v1.84h-1.84zM160.5 693.0h1.84v1.84h-1.84zM156.0 677.2h1.84v1.84h-1.84zM169.2 699.3h1.84v1.84h-1.84zM169.9 644.6h1.84v1.84h-1.84zM170.8 694.0h1.84v1.84h-1.84zM154.9 697.8h1.84v1.84h-1.84zM164.8 691.1h1.84v1.84h-1.84zM160.7 676.2h1.84v1.84h-1.84zM154.6 689.9h1.84v1.84h-1.84zM170.5 681.9h1.84v1.84h-1.84zM165.3 656.4h1.84v1.84h-1.84zM175.8 659.7h1.84v1.84h-1.84zM165.6 660.5h1.84v1.84h-1.84zM167.6 698.1h1.84v1.84h-1.84zM156.0 652.7h1.84v1.84h-1.84zM172.1 635.2h1.84v1.84h-1.84zM156.6 681.4h1.84v1.84h-1.84zM162.2 696.6h1.84v1.84h-1.84zM166.1 667.7h1.84v1.84h-1.84zM161.8 704.1h1.84v1.84h-1.84zM154.7 711.5h1.84v1.84h-1.84zM155.2 698.5h1.84v1.84h-1.84zM168.4 677.1h1.84v1.84h-1.84zM171.2 662.8h1.84v1.84h-1.84zM160.8 713.4h1.84v1.84h-1.84zM161.2 703.8h1.84v1.84h-1.84zM160.8 657.4h1.84v1.84h-1.84zM156.6 702.8h1.84v1.84h-1.84zM156.6 698.0h1.84v1.84h-1.84zM142.9 702.8h1.84v1.84h-1.84zM169.4 682.5h1.84v1.84h-1.84zM155.7 704.6h1.84v1.84h-1.84zM163.4 648.5h1.84v1.84h-1.84zM172.2 658.7h1.84v1.84h-1.84zM167.8 661.8h1.84v1.84h-1.84zM175.6 652.4h1.84v1.84h-1.84zM159.3 718.2h1.84v1.84h-1.84zM151.2 679.4h1.84v1.84h-1.84zM150.4 715.2h1.84v1.84h-1.84zM149.6 718.8h1.84v1.84h-1.84zM171.3 655.1h1.84v1.84h-1.84zM160.0 653.1h1.84v1.84h-1.84zM174.7 674.2h1.84v1.84h-1.84zM157.6 661.5h1.84v1.84h-1.84zM168.0 660.4h1.84v1.84h-1.84zM160.4 661.0h1.84v1.84h-1.84zM168.6 700.7h1.84v1.84h-1.84zM164.2 645.0h1.84v1.84h-1.84zM154.1 700.9h1.84v1.84h-1.84zM147.0 722.8h1.84v1.84h-1.84zM172.6 660.0h1.84v1.84h-1.84zM145.7 719.7h1.84v1.84h-1.84zM161.5 712.7h1.84v1.84h-1.84zM168.0 685.3h1.84v1.84h-1.84zM143.4 720.4h1.84v1.84h-1.84zM155.5 698.6h1.84v1.84h-1.84zM158.0 677.6h1.84v1.84h-1.84zM172.0 657.7h1.84v1.84h-1.84zM162.8 656.4h1.84v1.84h-1.84zM173.3 652.5h1.84v1.84h-1.84zM157.3 723.0h1.84v1.84h-1.84zM165.7 638.1h1.84v1.84h-1.84zM160.8 674.0h1.84v1.84h-1.84zM153.3 721.0h1.84v1.84h-1.84zM159.9 678.5h1.84v1.84h-1.84zM155.8 693.4h1.84v1.84h-1.84zM163.0 697.2h1.84v1.84h-1.84zM167.6 676.7h1.84v1.84h-1.84zM147.8 713.7h1.84v1.84h-1.84zM145.4 724.8h1.84v1.84h-1.84zM165.5 680.6h1.84v1.84h-1.84zM152.6 721.8h1.84v1.84h-1.84zM161.5 665.0h1.84v1.84h-1.84zM164.0 717.1h1.84v1.84h-1.84zM164.0 712.2h1.84v1.84h-1.84zM165.4 694.0h1.84v1.84h-1.84zM160.7 688.1h1.84v1.84h-1.84zM164.2 661.7h1.84v1.84h-1.84zM166.6 649.1h1.84v1.84h-1.84zM163.8 671.0h1.84v1.84h-1.84zM152.4 722.2h1.84v1.84h-1.84zM163.2 703.3h1.84v1.84h-1.84zM156.6 719.6h1.84v1.84h-1.84zM164.4 666.1h1.84v1.84h-1.84zM166.0 646.6h1.84v1.84h-1.84zM152.5 717.0h1.84v1.84h-1.84zM159.4 647.0h1.84v1.84h-1.84zM155.6 654.9h1.84v1.84h-1.84zM171.3 673.1h1.84v1.84h-1.84zM161.2 717.8h1.84v1.84h-1.84zM165.9 656.5h1.84v1.84h-1.84zM164.3 682.1h1.84v1.84h-1.84zM170.9 690.6h1.84v1.84h-1.84zM148.9 708.3h1.84v1.84h-1.84zM152.4 717.1h1.84v1.84h-1.84zM149.8 679.5h1.84v1.84h-1.84zM152.3 654.4h1.84v1.84h-1.84zM160.2 695.3h1.84v1.84h-1.84zM148.7 702.3h1.84v1.84h-1.84zM154.4 654.8h1.84v1.84h-1.84zM161.3 667.3h1.84v1.84h-1.84zM154.0 683.6h1.84v1.84h-1.84zM157.5 651.8h1.84v1.84h-1.84zM169.4 676.4h1.84v1.84h-1.84zM166.9 643.5h1.84v1.84h-1.84zM157.2 688.9h1.84v1.84h-1.84zM160.5 692.5h1.84v1.84h-1.84zM168.2 685.1h1.84v1.84h-1.84zM162.1 647.8h1.84v1.84h-1.84zM157.1 720.5h1.84v1.84h-1.84zM150.0 716.0h1.84v1.84h-1.84zM149.0 687.7h1.84v1.84h-1.84zM161.0 690.5h1.84v1.84h-1.84zM152.6 703.9h1.84v1.84h-1.84zM164.0 650.7h1.84v1.84h-1.84zM155.6 664.3h1.84v1.84h-1.84zM170.1 671.8h1.84v1.84h-1.84zM160.8 713.4h1.84v1.84h-1.84zM150.4 724.1h1.84v1.84h-1.84zM158.8 650.5h1.84v1.84h-1.84zM168.6 706.2h1.84v1.84h-1.84zM165.4 664.4h1.84v1.84h-1.84zM163.8 651.9h1.84v1.84h-1.84zM154.8 678.0h1.84v1.84h-1.84zM154.1 706.2h1.84v1.84h-1.84zM154.9 684.8h1.84v1.84h-1.84zM159.5 682.8h1.84v1.84h-1.84zM164.4 656.0h1.84v1.84h-1.84zM154.8 681.2h1.84v1.84h-1.84zM144.9 658.5h1.84v1.84h-1.84zM173.3 669.7h1.84v1.84h-1.84zM169.8 673.3h1.84v1.84h-1.84zM148.5 715.1h1.84v1.84h-1.84zM168.2 650.9h1.84v1.84h-1.84zM159.5 672.2h1.84v1.84h-1.84zM170.8 687.1h1.84v1.84h-1.84zM144.7 718.6h1.84v1.84h-1.84zM190.8 682.8h1.84v1.84h-1.84zM167.1 651.0h1.84v1.84h-1.84zM160.1 686.7h1.84v1.84h-1.84zM176.4 717.4h1.84v1.84h-1.84zM164.0 652.2h1.84v1.84h-1.84zM172.0 700.1h1.84v1.84h-1.84zM169.1 693.7h1.84v1.84h-1.84zM164.1 665.1h1.84v1.84h-1.84zM165.2 695.7h1.84v1.84h-1.84zM192.1 641.5h1.84v1.84h-1.84zM179.0 693.0h1.84v1.84h-1.84zM186.5 664.7h1.84v1.84h-1.84zM161.5 676.9h1.84v1.84h-1.84zM167.2 691.3h1.84v1.84h-1.84zM169.8 660.4h1.84v1.84h-1.84zM170.7 672.1h1.84v1.84h-1.84zM169.0 713.5h1.84v1.84h-1.84zM172.2 688.8h1.84v1.84h-1.84zM179.0 665.6h1.84v1.84h-1.84zM167.7 669.4h1.84v1.84h-1.84zM162.0 682.4h1.84v1.84h-1.84zM170.3 724.1h1.84v1.84h-1.84zM163.8 722.9h1.84v1.84h-1.84zM179.1 643.0h1.84v1.84h-1.84zM172.4 679.8h1.84v1.84h-1.84zM183.3 683.4h1.84v1.84h-1.84zM171.1 709.2h1.84v1.84h-1.84zM160.1 679.9h1.84v1.84h-1.84zM187.9 689.3h1.84v1.84h-1.84zM165.0 697.6h1.84v1.84h-1.84zM197.0 648.5h1.84v1.84h-1.84zM171.6 652.1h1.84v1.84h-1.84zM194.0 702.4h1.84v1.84h-1.84zM164.6 656.9h1.84v1.84h-1.84zM185.6 684.3h1.84v1.84h-1.84zM166.0 717.5h1.84v1.84h-1.84zM166.8 660.3h1.84v1.84h-1.84zM168.1 722.8h1.84v1.84h-1.84zM170.6 656.9h1.84v1.84h-1.84zM190.9 662.6h1.84v1.84h-1.84zM170.7 663.8h1.84v1.84h-1.84zM172.9 677.1h1.84v1.84h-1.84zM178.2 656.5h1.84v1.84h-1.84zM183.7 689.5h1.84v1.84h-1.84zM161.2 674.6h1.84v1.84h-1.84zM163.1 705.4h1.84v1.84h-1.84zM181.1 719.0h1.84v1.84h-1.84zM167.1 722.0h1.84v1.84h-1.84zM184.9 717.2h1.84v1.84h-1.84zM163.4 723.6h1.84v1.84h-1.84zM131.2 720.1h1.84v1.84h-1.84zM137.9 707.2h1.84v1.84h-1.84zM134.9 656.0h1.84v1.84h-1.84zM136.8 674.4h1.84v1.84h-1.84zM131.1 711.4h1.84v1.84h-1.84zM127.2 668.6h1.84v1.84h-1.84zM140.8 723.2h1.84v1.84h-1.84zM131.6 691.3h1.84v1.84h-1.84zM131.8 659.6h1.84v1.84h-1.84zM136.0 684.6h1.84v1.84h-1.84zM140.9 717.4h1.84v1.84h-1.84zM132.9 697.4h1.84v1.84h-1.84zM130.1 656.1h1.84v1.84h-1.84zM140.4 699.8h1.84v1.84h-1.84zM146.0 705.1h1.84v1.84h-1.84zM140.5 682.1h1.84v1.84h-1.84zM136.8 656.4h1.84v1.84h-1.84zM141.3 694.1h1.84v1.84h-1.84zM124.0 694.7h1.84v1.84h-1.84zM130.0 658.3h1.84v1.84h-1.84zM144.3 712.4h1.84v1.84h-1.84zM138.6 702.1h1.84v1.84h-1.84zM124.0 689.8h1.84v1.84h-1.84zM129.4 690.9h1.84v1.84h-1.84zM134.2 680.4h1.84v1.84h-1.84zM134.4 690.2h1.84v1.84h-1.84zM127.3 698.8h1.84v1.84h-1.84zM133.2 672.1h1.84v1.84h-1.84zM130.0 685.6h1.84v1.84h-1.84zM133.6 710.8h1.84v1.84h-1.84zM129.9 689.6h1.84v1.84h-1.84zM144.1 724.4h1.84v1.84h-1.84zM137.1 670.0h1.84v1.84h-1.84zM140.0 711.0h1.84v1.84h-1.84zM130.0 721.2h1.84v1.84h-1.84zM140.8 686.7h1.84v1.84h-1.84zM138.4 718.2h1.84v1.84h-1.84zM125.4 696.9h1.84v1.84h-1.84zM123.8 674.3h1.84v1.84h-1.84zM134.5 704.0h1.84v1.84h-1.84zM129.8 644.3h1.84v1.84h-1.84zM142.1 695.5h1.84v1.84h-1.84zM133.7 704.3h1.84v1.84h-1.84zM145.1 722.1h1.84v1.84h-1.84zM122.6 667.8h1.84v1.84h-1.84zM144.3 714.3h1.84v1.84h-1.84zM138.7 655.8h1.84v1.84h-1.84zM137.0 701.7h1.84v1.84h-1.84zM137.5 706.3h1.84v1.84h-1.84zM139.5 701.8h1.84v1.84h-1.84zM136.4 692.6h1.84v1.84h-1.84zM121.7 681.8h1.84v1.84h-1.84zM131.2 692.9h1.84v1.84h-1.84zM135.3 691.7h1.84v1.84h-1.84zM142.8 672.2h1.84v1.84h-1.84zM139.1 721.0h1.84v1.84h-1.84zM145.7 680.0h1.84v1.84h-1.84zM131.7 698.5h1.84v1.84h-1.84zM134.7 678.6h1.84v1.84h-1.84zM141.8 707.2h1.84v1.84h-1.84zM133.9 705.0h1.84v1.84h-1.84zM134.0 720.3h1.84v1.84h-1.84zM144.0 720.2h1.84v1.84h-1.84zM134.6 665.1h1.84v1.84h-1.84zM148.2 723.4h1.84v1.84h-1.84zM136.5 658.6h1.84v1.84h-1.84zM136.3 696.3h1.84v1.84h-1.84zM136.3 710.5h1.84v1.84h-1.84zM136.8 694.8h1.84v1.84h-1.84zM136.8 714.2h1.84v1.84h-1.84zM154.7 724.7h1.84v1.84h-1.84zM147.3 675.4h1.84v1.84h-1.84zM138.9 691.5h1.84v1.84h-1.84zM133.4 706.0h1.84v1.84h-1.84zM132.0 693.4h1.84v1.84h-1.84zM138.3 672.9h1.84v1.84h-1.84zM146.9 719.2h1.84v1.84h-1.84zM119.4 678.5h1.84v1.84h-1.84zM135.0 691.7h1.84v1.84h-1.84zM144.5 720.5h1.84v1.84h-1.84zM128.2 673.8h1.84v1.84h-1.84zM142.3 707.6h1.84v1.84h-1.84zM133.3 697.3h1.84v1.84h-1.84zM150.1 721.1h1.84v1.84h-1.84zM132.1 674.1h1.84v1.84h-1.84zM134.3 707.4h1.84v1.84h-1.84zM140.7 720.0h1.84v1.84h-1.84zM130.7 652.5h1.84v1.84h-1.84zM142.5 721.4h1.84v1.84h-1.84zM130.3 704.1h1.84v1.84h-1.84zM129.3 701.2h1.84v1.84h-1.84zM133.5 697.1h1.84v1.84h-1.84zM132.3 694.9h1.84v1.84h-1.84zM131.2 689.2h1.84v1.84h-1.84zM133.4 692.4h1.84v1.84h-1.84zM138.3 709.8h1.84v1.84h-1.84zM141.4 712.9h1.84v1.84h-1.84zM133.3 657.3h1.84v1.84h-1.84zM133.7 698.9h1.84v1.84h-1.84zM137.3 678.4h1.84v1.84h-1.84zM136.4 701.0h1.84v1.84h-1.84zM146.4 709.6h1.84v1.84h-1.84zM143.1 711.0h1.84v1.84h-1.84zM134.8 689.8h1.84v1.84h-1.84zM126.7 645.8h1.84v1.84h-1.84zM137.9 708.4h1.84v1.84h-1.84zM133.8 702.3h1.84v1.84h-1.84zM130.9 668.8h1.84v1.84h-1.84zM143.2 719.3h1.84v1.84h-1.84zM143.2 724.0h1.84v1.84h-1.84zM136.3 689.5h1.84v1.84h-1.84zM140.2 720.5h1.84v1.84h-1.84zM136.9 710.3h1.84v1.84h-1.84zM133.1 658.2h1.84v1.84h-1.84zM141.0 706.1h1.84v1.84h-1.84zM132.6 702.9h1.84v1.84h-1.84zM130.7 722.0h1.84v1.84h-1.84zM131.6 661.5h1.84v1.84h-1.84zM138.5 705.5h1.84v1.84h-1.84zM115.3 685.0h1.84v1.84h-1.84zM137.9 646.8h1.84v1.84h-1.84zM130.7 688.0h1.84v1.84h-1.84zM129.7 683.3h1.84v1.84h-1.84zM132.1 698.7h1.84v1.84h-1.84zM140.8 702.1h1.84v1.84h-1.84zM142.0 698.0h1.84v1.84h-1.84zM136.3 673.0h1.84v1.84h-1.84zM131.3 675.9h1.84v1.84h-1.84zM125.6 657.3h1.84v1.84h-1.84zM133.5 671.6h1.84v1.84h-1.84zM126.7 672.8h1.84v1.84h-1.84zM127.9 676.3h1.84v1.84h-1.84zM141.7 672.6h1.84v1.84h-1.84zM136.2 720.4h1.84v1.84h-1.84zM134.6 660.6h1.84v1.84h-1.84zM135.0 672.2h1.84v1.84h-1.84zM128.6 678.7h1.84v1.84h-1.84zM131.3 675.5h1.84v1.84h-1.84zM134.4 696.2h1.84v1.84h-1.84zM134.0 688.2h1.84v1.84h-1.84zM133.0 682.2h1.84v1.84h-1.84zM125.7 685.8h1.84v1.84h-1.84zM142.9 713.7h1.84v1.84h-1.84zM143.9 716.3h1.84v1.84h-1.84zM136.4 688.4h1.84v1.84h-1.84zM136.6 707.5h1.84v1.84h-1.84zM123.7 692.0h1.84v1.84h-1.84zM138.9 673.1h1.84v1.84h-1.84zM124.4 696.2h1.84v1.84h-1.84zM132.3 700.5h1.84v1.84h-1.84zM126.2 683.8h1.84v1.84h-1.84zM140.8 711.7h1.84v1.84h-1.84zM129.2 706.4h1.84v1.84h-1.84zM131.1 682.9h1.84v1.84h-1.84zM153.3 711.3h1.84v1.84h-1.84zM139.6 678.3h1.84v1.84h-1.84zM132.1 700.1h1.84v1.84h-1.84zM130.3 705.8h1.84v1.84h-1.84zM140.5 720.0h1.84v1.84h-1.84zM136.6 709.6h1.84v1.84h-1.84zM148.5 682.7h1.84v1.84h-1.84zM137.6 693.9h1.84v1.84h-1.84zM139.2 713.6h1.84v1.84h-1.84zM131.5 680.3h1.84v1.84h-1.84zM127.4 696.0h1.84v1.84h-1.84zM127.9 685.0h1.84v1.84h-1.84zM132.3 695.1h1.84v1.84h-1.84zM132.7 661.2h1.84v1.84h-1.84zM142.9 715.4h1.84v1.84h-1.84zM129.8 679.3h1.84v1.84h-1.84zM125.8 662.3h1.84v1.84h-1.84zM137.6 705.2h1.84v1.84h-1.84zM140.4 685.7h1.84v1.84h-1.84zM141.7 697.2h1.84v1.84h-1.84zM131.2 670.8h1.84v1.84h-1.84zM135.0 663.6h1.84v1.84h-1.84zM138.3 716.6h1.84v1.84h-1.84zM135.1 694.3h1.84v1.84h-1.84zM134.3 650.2h1.84v1.84h-1.84zM139.1 683.8h1.84v1.84h-1.84zM132.1 666.9h1.84v1.84h-1.84zM129.2 668.9h1.84v1.84h-1.84zM127.7 659.6h1.84v1.84h-1.84zM138.8 707.9h1.84v1.84h-1.84zM127.2 696.2h1.84v1.84h-1.84zM125.6 686.3h1.84v1.84h-1.84zM132.9 698.8h1.84v1.84h-1.84zM126.2 690.1h1.84v1.84h-1.84zM130.9 656.1h1.84v1.84h-1.84zM140.9 707.7h1.84v1.84h-1.84zM128.2 673.6h1.84v1.84h-1.84zM136.5 697.4h1.84v1.84h-1.84zM128.5 701.1h1.84v1.84h-1.84zM129.7 659.4h1.84v1.84h-1.84zM130.6 672.0h1.84v1.84h-1.84zM131.9 667.9h1.84v1.84h-1.84zM134.8 719.6h1.84v1.84h-1.84zM131.4 686.2h1.84v1.84h-1.84zM141.1 672.6h1.84v1.84h-1.84zM133.1 676.0h1.84v1.84h-1.84zM121.6 691.1h1.84v1.84h-1.84zM140.2 708.2h1.84v1.84h-1.84zM133.5 656.0h1.84v1.84h-1.84zM119.3 685.9h1.84v1.84h-1.84zM117.6 651.3h1.84v1.84h-1.84zM126.2 668.2h1.84v1.84h-1.84zM142.8 705.0h1.84v1.84h-1.84zM131.0 685.8h1.84v1.84h-1.84zM131.8 689.0h1.84v1.84h-1.84zM134.1 708.7h1.84v1.84h-1.84zM128.5 683.9h1.84v1.84h-1.84zM129.5 657.6h1.84v1.84h-1.84zM129.6 655.1h1.84v1.84h-1.84zM136.5 693.0h1.84v1.84h-1.84zM135.3 704.8h1.84v1.84h-1.84zM150.6 721.6h1.84v1.84h-1.84zM134.1 670.4h1.84v1.84h-1.84zM133.7 723.6h1.84v1.84h-1.84zM131.2 668.8h1.84v1.84h-1.84zM147.1 711.0h1.84v1.84h-1.84zM128.7 695.0h1.84v1.84h-1.84zM128.8 679.2h1.84v1.84h-1.84zM140.7 699.6h1.84v1.84h-1.84zM135.4 687.9h1.84v1.84h-1.84zM130.9 688.2h1.84v1.84h-1.84zM139.1 710.6h1.84v1.84h-1.84zM134.7 707.0h1.84v1.84h-1.84zM127.1 663.2h1.84v1.84h-1.84zM132.7 661.4h1.84v1.84h-1.84zM141.1 705.5h1.84v1.84h-1.84zM127.7 695.9h1.84v1.84h-1.84zM131.8 689.7h1.84v1.84h-1.84zM128.4 667.4h1.84v1.84h-1.84zM138.0 706.8h1.84v1.84h-1.84zM134.3 653.7h1.84v1.84h-1.84zM139.7 665.1h1.84v1.84h-1.84zM129.8 669.9h1.84v1.84h-1.84zM140.0 677.8h1.84v1.84h-1.84zM137.3 715.9h1.84v1.84h-1.84zM139.2 704.1h1.84v1.84h-1.84zM140.9 697.5h1.84v1.84h-1.84zM131.9 657.9h1.84v1.84h-1.84zM127.1 689.2h1.84v1.84h-1.84zM133.4 718.7h1.84v1.84h-1.84zM125.9 655.3h1.84v1.84h-1.84zM137.5 659.4h1.84v1.84h-1.84zM141.7 715.6h1.84v1.84h-1.84zM121.2 671.0h1.84v1.84h-1.84zM139.6 663.1h1.84v1.84h-1.84zM131.6 684.1h1.84v1.84h-1.84zM106.8 652.1h1.84v1.84h-1.84zM110.3 713.0h1.84v1.84h-1.84zM92.1 721.9h1.84v1.84h-1.84zM77.5 662.9h1.84v1.84h-1.84zM108.6 665.0h1.84v1.84h-1.84zM99.7 703.4h1.84v1.84h-1.84zM128.3 719.4h1.84v1.84h-1.84zM120.7 688.0h1.84v1.84h-1.84zM115.3 640.5h1.84v1.84h-1.84zM84.8 642.5h1.84v1.84h-1.84zM116.4 682.6h1.84v1.84h-1.84zM112.9 711.9h1.84v1.84h-1.84zM113.5 649.4h1.84v1.84h-1.84zM99.1 687.8h1.84v1.84h-1.84zM112.4 658.7h1.84v1.84h-1.84zM97.4 672.0h1.84v1.84h-1.84zM124.9 712.8h1.84v1.84h-1.84zM123.9 702.8h1.84v1.84h-1.84zM99.2 716.6h1.84v1.84h-1.84zM119.8 667.2h1.84v1.84h-1.84zM121.7 720.9h1.84v1.84h-1.84zM122.9 683.8h1.84v1.84h-1.84zM91.4 722.9h1.84v1.84h-1.84zM126.9 659.4h1.84v1.84h-1.84zM113.2 666.4h1.84v1.84h-1.84zM104.2 652.4h1.84v1.84h-1.84zM127.0 656.9h1.84v1.84h-1.84zM85.0 649.4h1.84v1.84h-1.84zM99.9 697.3h1.84v1.84h-1.84zM128.5 641.8h1.84v1.84h-1.84zM96.2 703.4h1.84v1.84h-1.84zM96.8 708.2h1.84v1.84h-1.84zM106.9 694.5h1.84v1.84h-1.84zM84.6 709.0h1.84v1.84h-1.84zM85.9 715.1h1.84v1.84h-1.84zM106.2 660.2h1.84v1.84h-1.84zM93.8 686.4h1.84v1.84h-1.84zM85.9 650.9h1.84v1.84h-1.84zM122.2 684.3h1.84v1.84h-1.84zM116.0 670.0h1.84v1.84h-1.84zM92.5 616.4h1.84v1.84h-1.84zM124.9 619.8h1.84v1.84h-1.84zM141.8 624.7h1.84v1.84h-1.84zM138.3 631.0h1.84v1.84h-1.84zM125.1 632.2h1.84v1.84h-1.84zM128.4 631.0h1.84v1.84h-1.84zM141.4 636.5h1.84v1.84h-1.84zM91.4 640.1h1.84v1.84h-1.84zM59.4 646.0h1.84v1.84h-1.84zM115.2 644.1h1.84v1.84h-1.84zM116.1 644.6h1.84v1.84h-1.84zM119.5 647.4h1.84v1.84h-1.84zM120.6 649.1h1.84v1.84h-1.84zM112.6 650.3h1.84v1.84h-1.84zM130.0 647.4h1.84v1.84h-1.84zM132.4 651.3h1.84v1.84h-1.84zM129.6 653.1h1.84v1.84h-1.84zM134.3 651.9h1.84v1.84h-1.84zM138.7 654.3h1.84v1.84h-1.84zM110.3 655.7h1.84v1.84h-1.84zM133.1 656.3h1.84v1.84h-1.84zM60.8 660.8h1.84v1.84h-1.84zM64.6 661.4h1.84v1.84h-1.84zM65.9 666.1h1.84v1.84h-1.84zM66.9 669.1h1.84v1.84h-1.84zM102.8 661.2h1.84v1.84h-1.84zM102.6 663.1h1.84v1.84h-1.84zM116.6 663.1h1.84v1.84h-1.84zM112.1 666.1h1.84v1.84h-1.84zM120.5 666.1h1.84v1.84h-1.84zM128.4 663.1h1.84v1.84h-1.84zM129.1 666.1h1.84v1.84h-1.84zM136.3 659.2h1.84v1.84h-1.84zM137.6 660.1h1.84v1.84h-1.84zM139.3 663.1h1.84v1.84h-1.84zM140.1 661.6h1.84v1.84h-1.84zM84.7 665.7h1.84v1.84h-1.84zM82.3 668.5h1.84v1.84h-1.84zM100.8 668.5h1.84v1.84h-1.84zM90.6 671.6h1.84v1.84h-1.84zM96.9 671.1h1.84v1.84h-1.84zM76.4 673.0h1.84v1.84h-1.84zM80.1 675.4h1.84v1.84h-1.84zM80.7 676.9h1.84v1.84h-1.84zM98.8 676.0h1.84v1.84h-1.84zM34.8 679.9h1.84v1.84h-1.84zM51.1 681.9h1.84v1.84h-1.84zM122.5 671.0h1.84v1.84h-1.84zM99.8 683.8h1.84v1.84h-1.84zM108.7 682.9h1.84v1.84h-1.84zM109.1 684.3h1.84v1.84h-1.84zM84.5 690.7h1.84v1.84h-1.84zM84.5 695.7h1.84v1.84h-1.84zM94.1 695.7h1.84v1.84h-1.84zM101.8 691.7h1.84v1.84h-1.84zM99.2 700.6h1.84v1.84h-1.84zM104.8 700.0h1.84v1.84h-1.84zM98.6 702.6h1.84v1.84h-1.84zM88.8 703.6h1.84v1.84h-1.84zM78.7 704.5h1.84v1.84h-1.84zM80.1 705.9h1.84v1.84h-1.84zM105.1 707.1h1.84v1.84h-1.84zM109.3 704.5h1.84v1.84h-1.84zM99.4 710.5h1.84v1.84h-1.84zM98.1 711.6h1.84v1.84h-1.84zM112.6 711.0h1.84v1.84h-1.84zM118.6 713.8h1.84v1.84h-1.84zM118.6 715.6h1.84v1.84h-1.84zM125.1 717.0h1.84v1.84h-1.84zM99.2 720.9h1.84v1.84h-1.84zM132.0 722.3h1.84v1.84h-1.84zM133.6 723.1h1.84v1.84h-1.84zM189.0 557.9h1.84v1.84h-1.84zM158.3 613.9h1.84v1.84h-1.84zM153.2 622.4h1.84v1.84h-1.84zM171.1 623.6h1.84v1.84h-1.84zM176.1 625.9h1.84v1.84h-1.84zM157.5 628.7h1.84v1.84h-1.84zM159.1 628.1h1.84v1.84h-1.84zM171.2 632.8h1.84v1.84h-1.84zM174.4 635.9h1.84v1.84h-1.84zM158.0 634.9h1.84v1.84h-1.84zM163.6 634.9h1.84v1.84h-1.84zM190.0 634.4h1.84v1.84h-1.84zM194.8 630.1h1.84v1.84h-1.84zM201.9 623.1h1.84v1.84h-1.84zM183.2 640.8h1.84v1.84h-1.84zM180.5 649.1h1.84v1.84h-1.84zM191.7 645.1h1.84v1.84h-1.84zM194.3 645.1h1.84v1.84h-1.84zM188.1 652.2h1.84v1.84h-1.84zM194.3 651.2h1.84v1.84h-1.84zM194.8 655.3h1.84v1.84h-1.84zM204.5 666.5h1.84v1.84h-1.84zM206.5 656.8h1.84v1.84h-1.84zM200.4 659.9h1.84v1.84h-1.84zM192.2 663.5h1.84v1.84h-1.84zM188.1 665.5h1.84v1.84h-1.84zM168.8 628.1h1.84v1.84h-1.84zM164.1 617.1h1.84v1.84h-1.84zM161.1 625.1h1.84v1.84h-1.84zM167.1 611.1h1.84v1.84h-1.84zM180.1 604.1h1.84v1.84h-1.84zM175.1 618.1h1.84v1.84h-1.84zM150.1 629.1h1.84v1.84h-1.84zM154.6 618.7h1.84v1.84h-1.84zM159.1 621.1h1.84v1.84h-1.84zM166.6 631.1h1.84v1.84h-1.84zM183.1 619.1h1.84v1.84h-1.84zM185.1 611.1h1.84v1.84h-1.84zM236.5 639.5h1.84v1.84h-1.84zM236.2 663.6h1.84v1.84h-1.84zM225.6 667.3h1.84v1.84h-1.84zM225.6 674.4h1.84v1.84h-1.84zM247.0 679.7h1.84v1.84h-1.84zM275.9 706.2h1.84v1.84h-1.84zM209.2 654.8h1.84v1.84h-1.84zM206.8 656.4h1.84v1.84h-1.84zM201.2 659.6h1.84v1.84h-1.84zM204.8 666.8h1.84v1.84h-1.84zM205.7 680.5h1.84v1.84h-1.84zM203.6 690.1h1.84v1.84h-1.84zM194.0 644.4h1.84v1.84h-1.84zM192.4 645.2h1.84v1.84h-1.84zM190.8 652.4h1.84v1.84h-1.84zM186.8 652.4h1.84v1.84h-1.84zM190.0 634.7h1.84v1.84h-1.84zM194.0 629.9h1.84v1.84h-1.84zM173.9 635.5h1.84v1.84h-1.84zM180.3 704.6h1.84v1.84h-1.84zM177.9 715.8h1.84v1.84h-1.84zM182.8 717.4h1.84v1.84h-1.84zM171.5 725.5h1.84v1.84h-1.84zM194.0 723.1h1.84v1.84h-1.84zM235.8 637.0h1.84v1.84h-1.84zM211.1 699.1h1.84v1.84h-1.84zM187.1 699.1h1.84v1.84h-1.84zM196.1 687.1h1.84v1.84h-1.84zM214.1 642.1h1.84v1.84h-1.84zM224.1 632.1h1.84v1.84h-1.84zM207.1 639.1h1.84v1.84h-1.84zM189.1 625.1h1.84v1.84h-1.84z"/>
<path fill="#000" d="M489.5 722.1h1.84v1.84h-1.84zM489.7 718.8h1.84v1.84h-1.84zM485.5 719.2h1.84v1.84h-1.84zM497.8 721.8h1.84v1.84h-1.84zM497.3 721.1h1.84v1.84h-1.84zM493.4 720.8h1.84v1.84h-1.84zM481.1 723.5h1.84v1.84h-1.84zM494.1 722.1h1.84v1.84h-1.84zM480.9 713.1h1.84v1.84h-1.84zM485.7 718.2h1.84v1.84h-1.84zM492.9 719.9h1.84v1.84h-1.84zM494.2 717.5h1.84v1.84h-1.84zM492.9 721.7h1.84v1.84h-1.84zM487.1 727.0h1.84v1.84h-1.84zM494.4 724.9h1.84v1.84h-1.84zM487.4 717.1h1.84v1.84h-1.84zM489.0 719.7h1.84v1.84h-1.84zM494.9 721.1h1.84v1.84h-1.84zM488.4 716.3h1.84v1.84h-1.84zM488.0 725.0h1.84v1.84h-1.84zM486.2 721.1h1.84v1.84h-1.84zM493.6 714.1h1.84v1.84h-1.84zM491.4 725.3h1.84v1.84h-1.84zM479.0 718.8h1.84v1.84h-1.84zM490.4 716.8h1.84v1.84h-1.84zM494.1 719.8h1.84v1.84h-1.84zM482.3 723.4h1.84v1.84h-1.84zM495.1 723.9h1.84v1.84h-1.84zM499.7 721.5h1.84v1.84h-1.84zM491.8 714.9h1.84v1.84h-1.84zM494.8 717.6h1.84v1.84h-1.84zM488.4 715.0h1.84v1.84h-1.84zM485.3 718.0h1.84v1.84h-1.84zM498.8 712.0h1.84v1.84h-1.84zM482.3 721.0h1.84v1.84h-1.84zM499.7 722.4h1.84v1.84h-1.84zM479.7 710.0h1.84v1.84h-1.84zM493.2 717.1h1.84v1.84h-1.84zM484.4 724.0h1.84v1.84h-1.84zM497.7 720.7h1.84v1.84h-1.84zM492.6 721.8h1.84v1.84h-1.84zM500.6 722.6h1.84v1.84h-1.84zM494.2 722.3h1.84v1.84h-1.84zM481.7 725.2h1.84v1.84h-1.84zM496.8 722.2h1.84v1.84h-1.84zM479.2 717.5h1.84v1.84h-1.84zM496.1 712.8h1.84v1.84h-1.84zM490.0 724.2h1.84v1.84h-1.84zM483.2 726.5h1.84v1.84h-1.84zM494.4 719.5h1.84v1.84h-1.84zM493.0 722.7h1.84v1.84h-1.84zM491.8 724.7h1.84v1.84h-1.84zM487.1 718.4h1.84v1.84h-1.84zM497.3 720.2h1.84v1.84h-1.84zM485.8 723.9h1.84v1.84h-1.84zM499.9 718.3h1.84v1.84h-1.84zM482.8 719.5h1.84v1.84h-1.84zM490.2 718.9h1.84v1.84h-1.84zM499.5 716.0h1.84v1.84h-1.84zM498.6 715.0h1.84v1.84h-1.84zM486.4 722.6h1.84v1.84h-1.84zM497.9 723.5h1.84v1.84h-1.84zM493.2 720.6h1.84v1.84h-1.84zM492.0 722.4h1.84v1.84h-1.84zM490.0 721.2h1.84v1.84h-1.84zM494.5 720.1h1.84v1.84h-1.84zM495.7 722.3h1.84v1.84h-1.84zM503.1 721.4h1.84v1.84h-1.84zM488.5 718.6h1.84v1.84h-1.84zM491.0 723.8h1.84v1.84h-1.84zM489.1 721.6h1.84v1.84h-1.84zM502.1 709.8h1.84v1.84h-1.84zM484.3 721.1h1.84v1.84h-1.84zM493.5 721.0h1.84v1.84h-1.84zM488.5 722.7h1.84v1.84h-1.84zM492.8 718.0h1.84v1.84h-1.84zM505.7 721.5h1.84v1.84h-1.84zM487.8 719.7h1.84v1.84h-1.84zM489.7 719.8h1.84v1.84h-1.84zM474.7 718.1h1.84v1.84h-1.84zM497.1 715.4h1.84v1.84h-1.84zM490.7 723.9h1.84v1.84h-1.84zM496.2 726.0h1.84v1.84h-1.84zM480.9 718.7h1.84v1.84h-1.84zM489.0 722.6h1.84v1.84h-1.84zM497.6 709.3h1.84v1.84h-1.84zM497.6 714.3h1.84v1.84h-1.84zM495.2 714.1h1.84v1.84h-1.84zM492.1 724.9h1.84v1.84h-1.84zM490.2 720.8h1.84v1.84h-1.84zM495.9 720.6h1.84v1.84h-1.84zM490.5 726.2h1.84v1.84h-1.84zM497.4 718.9h1.84v1.84h-1.84zM507.6 715.5h1.84v1.84h-1.84zM496.6 719.0h1.84v1.84h-1.84zM491.9 722.9h1.84v1.84h-1.84zM492.4 722.6h1.84v1.84h-1.84zM481.9 714.0h1.84v1.84h-1.84zM494.8 716.2h1.84v1.84h-1.84zM484.9 714.2h1.84v1.84h-1.84zM498.7 723.1h1.84v1.84h-1.84zM499.9 716.3h1.84v1.84h-1.84zM491.1 715.5h1.84v1.84h-1.84zM495.7 726.4h1.84v1.84h-1.84zM485.7 726.3h1.84v1.84h-1.84zM497.0 719.4h1.84v1.84h-1.84zM479.2 725.7h1.84v1.84h-1.84zM490.5 717.7h1.84v1.84h-1.84zM493.5 721.7h1.84v1.84h-1.84zM500.1 716.0h1.84v1.84h-1.84zM497.9 726.0h1.84v1.84h-1.84zM499.8 719.4h1.84v1.84h-1.84zM486.6 724.2h1.84v1.84h-1.84zM491.8 720.6h1.84v1.84h-1.84zM499.6 719.0h1.84v1.84h-1.84zM477.3 718.5h1.84v1.84h-1.84zM480.0 723.4h1.84v1.84h-1.84zM493.0 717.6h1.84v1.84h-1.84zM491.0 723.4h1.84v1.84h-1.84zM491.6 725.4h1.84v1.84h-1.84zM490.7 724.2h1.84v1.84h-1.84zM500.0 726.5h1.84v1.84h-1.84zM487.0 723.6h1.84v1.84h-1.84zM479.8 715.7h1.84v1.84h-1.84zM479.3 724.4h1.84v1.84h-1.84zM483.7 720.0h1.84v1.84h-1.84zM489.9 720.0h1.84v1.84h-1.84zM487.5 721.0h1.84v1.84h-1.84zM501.8 720.3h1.84v1.84h-1.84zM494.3 724.1h1.84v1.84h-1.84zM489.9 715.0h1.84v1.84h-1.84zM487.7 724.4h1.84v1.84h-1.84zM481.2 717.7h1.84v1.84h-1.84zM497.1 723.3h1.84v1.84h-1.84zM491.1 723.3h1.84v1.84h-1.84zM492.1 715.4h1.84v1.84h-1.84zM481.7 717.5h1.84v1.84h-1.84zM496.6 717.8h1.84v1.84h-1.84zM485.7 717.0h1.84v1.84h-1.84zM481.9 719.6h1.84v1.84h-1.84zM484.0 721.5h1.84v1.84h-1.84zM476.9 721.4h1.84v1.84h-1.84zM487.2 712.3h1.84v1.84h-1.84zM495.4 719.0h1.84v1.84h-1.84zM477.7 716.6h1.84v1.84h-1.84zM492.8 718.2h1.84v1.84h-1.84zM495.8 723.1h1.84v1.84h-1.84zM495.1 721.4h1.84v1.84h-1.84zM499.1 722.7h1.84v1.84h-1.84zM493.8 711.7h1.84v1.84h-1.84zM503.4 655.0h1.84v1.84h-1.84zM490.3 724.7h1.84v1.84h-1.84zM499.6 659.2h1.84v1.84h-1.84zM495.5 723.1h1.84v1.84h-1.84zM500.2 649.8h1.84v1.84h-1.84zM504.6 647.8h1.84v1.84h-1.84zM497.5 695.4h1.84v1.84h-1.84zM503.7 630.0h1.84v1.84h-1.84zM519.0 686.8h1.84v1.84h-1.84zM501.0 712.6h1.84v1.84h-1.84zM513.9 646.9h1.84v1.84h-1.84zM507.8 662.4h1.84v1.84h-1.84zM507.9 676.5h1.84v1.84h-1.84zM500.9 658.6h1.84v1.84h-1.84zM505.2 690.0h1.84v1.84h-1.84zM500.6 702.7h1.84v1.84h-1.84zM499.1 641.0h1.84v1.84h-1.84zM498.3 639.5h1.84v1.84h-1.84zM500.7 639.6h1.84v1.84h-1.84zM504.3 693.8h1.84v1.84h-1.84zM500.8 662.4h1.84v1.84h-1.84zM504.4 645.0h1.84v1.84h-1.84zM504.0 627.7h1.84v1.84h-1.84zM504.5 700.3h1.84v1.84h-1.84zM504.8 681.1h1.84v1.84h-1.84zM506.0 660.4h1.84v1.84h-1.84zM500.8 705.0h1.84v1.84h-1.84zM500.0 714.4h1.84v1.84h-1.84zM490.6 702.9h1.84v1.84h-1.84zM505.9 669.2h1.84v1.84h-1.84zM491.1 712.8h1.84v1.84h-1.84zM505.6 706.5h1.84v1.84h-1.84zM508.4 666.3h1.84v1.84h-1.84zM506.3 637.4h1.84v1.84h-1.84zM515.2 663.0h1.84v1.84h-1.84zM502.5 707.1h1.84v1.84h-1.84zM503.5 664.4h1.84v1.84h-1.84zM510.9 650.1h1.84v1.84h-1.84zM513.5 677.4h1.84v1.84h-1.84zM503.8 659.5h1.84v1.84h-1.84zM511.3 666.5h1.84v1.84h-1.84zM504.4 686.6h1.84v1.84h-1.84zM509.4 651.2h1.84v1.84h-1.84zM505.2 649.3h1.84v1.84h-1.84zM504.6 624.5h1.84v1.84h-1.84zM508.0 687.1h1.84v1.84h-1.84zM496.0 706.9h1.84v1.84h-1.84zM493.4 666.0h1.84v1.84h-1.84zM494.1 714.9h1.84v1.84h-1.84zM497.9 639.1h1.84v1.84h-1.84zM492.6 720.6h1.84v1.84h-1.84zM495.0 651.5h1.84v1.84h-1.84zM506.5 692.3h1.84v1.84h-1.84zM494.0 693.3h1.84v1.84h-1.84zM498.0 707.6h1.84v1.84h-1.84zM506.4 648.6h1.84v1.84h-1.84zM497.4 657.1h1.84v1.84h-1.84zM501.1 689.7h1.84v1.84h-1.84zM509.0 678.1h1.84v1.84h-1.84zM495.6 687.2h1.84v1.84h-1.84zM501.9 696.3h1.84v1.84h-1.84zM501.5 628.9h1.84v1.84h-1.84zM500.4 698.8h1.84v1.84h-1.84zM489.5 684.6h1.84v1.84h-1.84zM504.5 689.7h1.84v1.84h-1.84zM497.7 679.4h1.84v1.84h-1.84zM504.9 646.7h1.84v1.84h-1.84zM500.9 678.3h1.84v1.84h-1.84zM501.7 628.9h1.84v1.84h-1.84zM494.1 700.3h1.84v1.84h-1.84zM501.8 686.0h1.84v1.84h-1.84zM495.4 715.5h1.84v1.84h-1.84zM496.8 724.3h1.84v1.84h-1.84zM496.5 712.5h1.84v1.84h-1.84zM509.0 664.9h1.84v1.84h-1.84zM518.1 652.5h1.84v1.84h-1.84zM507.9 651.5h1.84v1.84h-1.84zM498.4 704.2h1.84v1.84h-1.84zM494.2 721.5h1.84v1.84h-1.84zM518.7 678.5h1.84v1.84h-1.84zM501.1 632.9h1.84v1.84h-1.84zM506.5 648.3h1.84v1.84h-1.84zM515.9 675.2h1.84v1.84h-1.84zM501.9 697.2h1.84v1.84h-1.84zM495.9 721.6h1.84v1.84h-1.84zM502.6 667.2h1.84v1.84h-1.84zM490.7 720.2h1.84v1.84h-1.84zM510.0 660.9h1.84v1.84h-1.84zM502.0 657.1h1.84v1.84h-1.84zM519.0 664.9h1.84v1.84h-1.84zM495.3 681.3h1.84v1.84h-1.84zM500.1 722.8h1.84v1.84h-1.84zM509.0 693.6h1.84v1.84h-1.84zM500.0 696.0h1.84v1.84h-1.84zM499.6 703.2h1.84v1.84h-1.84zM496.5 661.0h1.84v1.84h-1.84zM491.2 714.6h1.84v1.84h-1.84zM506.8 673.4h1.84v1.84h-1.84zM492.7 716.2h1.84v1.84h-1.84zM500.8 684.8h1.84v1.84h-1.84zM508.0 645.0h1.84v1.84h-1.84zM517.5 681.8h1.84v1.84h-1.84zM490.0 725.0h1.84v1.84h-1.84zM505.9 643.7h1.84v1.84h-1.84zM505.5 661.7h1.84v1.84h-1.84zM507.0 693.2h1.84v1.84h-1.84zM494.8 702.5h1.84v1.84h-1.84zM509.2 666.2h1.84v1.84h-1.84zM508.7 629.1h1.84v1.84h-1.84zM503.4 688.8h1.84v1.84h-1.84zM500.7 699.0h1.84v1.84h-1.84zM510.0 668.1h1.84v1.84h-1.84zM493.2 723.3h1.84v1.84h-1.84zM504.6 636.9h1.84v1.84h-1.84zM493.9 718.8h1.84v1.84h-1.84zM505.9 676.8h1.84v1.84h-1.84zM500.1 710.5h1.84v1.84h-1.84zM504.4 644.9h1.84v1.84h-1.84zM511.7 689.7h1.84v1.84h-1.84zM500.5 691.1h1.84v1.84h-1.84zM513.4 687.5h1.84v1.84h-1.84zM507.6 658.6h1.84v1.84h-1.84zM508.1 683.2h1.84v1.84h-1.84zM506.6 690.0h1.84v1.84h-1.84zM498.5 643.3h1.84v1.84h-1.84zM504.1 664.1h1.84v1.84h-1.84zM503.9 678.3h1.84v1.84h-1.84zM497.8 720.8h1.84v1.84h-1.84zM494.3 718.8h1.84v1.84h-1.84zM496.3 721.5h1.84v1.84h-1.84zM496.1 660.5h1.84v1.84h-1.84zM505.4 664.7h1.84v1.84h-1.84zM496.4 711.7h1.84v1.84h-1.84zM507.1 667.7h1.84v1.84h-1.84zM503.6 698.6h1.84v1.84h-1.84zM496.3 681.6h1.84v1.84h-1.84zM495.9 716.8h1.84v1.84h-1.84zM501.3 655.8h1.84v1.84h-1.84zM502.2 677.2h1.84v1.84h-1.84zM505.2 649.6h1.84v1.84h-1.84zM498.8 712.2h1.84v1.84h-1.84zM509.8 659.6h1.84v1.84h-1.84zM509.8 643.0h1.84v1.84h-1.84zM494.0 723.7h1.84v1.84h-1.84zM499.4 713.0h1.84v1.84h-1.84zM502.9 658.9h1.84v1.84h-1.84zM500.0 695.7h1.84v1.84h-1.84zM500.4 666.1h1.84v1.84h-1.84zM504.2 642.1h1.84v1.84h-1.84zM499.3 714.6h1.84v1.84h-1.84zM489.9 715.6h1.84v1.84h-1.84zM506.6 702.9h1.84v1.84h-1.84zM497.0 632.6h1.84v1.84h-1.84zM513.7 648.6h1.84v1.84h-1.84zM488.6 713.4h1.84v1.84h-1.84zM507.2 695.8h1.84v1.84h-1.84zM510.0 625.2h1.84v1.84h-1.84zM494.7 711.3h1.84v1.84h-1.84zM513.4 665.0h1.84v1.84h-1.84zM503.6 673.0h1.84v1.84h-1.84zM515.4 665.0h1.84v1.84h-1.84zM493.6 720.7h1.84v1.84h-1.84zM496.1 713.4h1.84v1.84h-1.84zM496.8 724.5h1.84v1.84h-1.84zM499.0 664.6h1.84v1.84h-1.84zM497.2 715.3h1.84v1.84h-1.84zM501.0 708.4h1.84v1.84h-1.84zM496.2 683.7h1.84v1.84h-1.84zM505.9 666.6h1.84v1.84h-1.84zM502.8 655.6h1.84v1.84h-1.84zM511.4 643.2h1.84v1.84h-1.84zM507.7 677.7h1.84v1.84h-1.84zM492.0 724.9h1.84v1.84h-1.84zM507.4 651.1h1.84v1.84h-1.84zM500.0 703.1h1.84v1.84h-1.84zM509.3 689.5h1.84v1.84h-1.84zM495.6 710.3h1.84v1.84h-1.84zM498.5 700.4h1.84v1.84h-1.84zM504.5 684.4h1.84v1.84h-1.84zM501.6 646.5h1.84v1.84h-1.84zM500.5 658.0h1.84v1.84h-1.84zM503.6 677.9h1.84v1.84h-1.84zM508.3 682.0h1.84v1.84h-1.84zM489.3 714.3h1.84v1.84h-1.84zM509.5 692.0h1.84v1.84h-1.84zM495.1 629.4h1.84v1.84h-1.84zM511.8 645.5h1.84v1.84h-1.84zM493.4 717.5h1.84v1.84h-1.84zM499.0 703.2h1.84v1.84h-1.84zM503.0 714.3h1.84v1.84h-1.84zM505.0 688.6h1.84v1.84h-1.84zM510.0 645.8h1.84v1.84h-1.84zM503.3 670.9h1.84v1.84h-1.84zM502.6 630.0h1.84v1.84h-1.84zM500.1 698.4h1.84v1.84h-1.84zM501.8 704.9h1.84v1.84h-1.84zM500.1 625.9h1.84v1.84h-1.84zM510.3 679.6h1.84v1.84h-1.84zM501.2 654.6h1.84v1.84h-1.84zM508.7 677.2h1.84v1.84h-1.84zM501.8 670.3h1.84v1.84h-1.84zM499.4 713.0h1.84v1.84h-1.84zM504.7 663.6h1.84v1.84h-1.84zM501.8 640.3h1.84v1.84h-1.84zM495.6 674.8h1.84v1.84h-1.84zM512.2 680.8h1.84v1.84h-1.84zM497.9 634.0h1.84v1.84h-1.84zM495.5 653.3h1.84v1.84h-1.84zM508.6 669.2h1.84v1.84h-1.84zM506.2 693.8h1.84v1.84h-1.84zM509.9 650.9h1.84v1.84h-1.84zM492.5 644.4h1.84v1.84h-1.84zM490.8 724.8h1.84v1.84h-1.84zM494.4 717.7h1.84v1.84h-1.84zM494.6 720.5h1.84v1.84h-1.84zM498.5 699.1h1.84v1.84h-1.84zM507.7 675.3h1.84v1.84h-1.84zM502.1 649.3h1.84v1.84h-1.84zM507.8 684.6h1.84v1.84h-1.84zM498.8 711.2h1.84v1.84h-1.84zM505.6 634.2h1.84v1.84h-1.84zM500.5 697.2h1.84v1.84h-1.84zM501.0 687.4h1.84v1.84h-1.84zM502.0 670.6h1.84v1.84h-1.84zM499.7 671.9h1.84v1.84h-1.84zM507.4 635.2h1.84v1.84h-1.84zM506.1 682.1h1.84v1.84h-1.84zM495.4 681.1h1.84v1.84h-1.84zM510.0 679.9h1.84v1.84h-1.84zM509.3 650.0h1.84v1.84h-1.84zM504.3 678.8h1.84v1.84h-1.84zM495.8 709.1h1.84v1.84h-1.84zM500.1 679.0h1.84v1.84h-1.84zM495.1 714.7h1.84v1.84h-1.84zM494.8 713.0h1.84v1.84h-1.84zM494.2 659.8h1.84v1.84h-1.84zM505.4 694.3h1.84v1.84h-1.84zM494.8 711.8h1.84v1.84h-1.84zM505.9 630.4h1.84v1.84h-1.84zM492.1 716.4h1.84v1.84h-1.84zM490.6 697.7h1.84v1.84h-1.84zM504.9 646.8h1.84v1.84h-1.84zM508.5 683.5h1.84v1.84h-1.84zM505.9 658.9h1.84v1.84h-1.84zM500.3 711.2h1.84v1.84h-1.84zM513.5 651.6h1.84v1.84h-1.84zM509.9 684.2h1.84v1.84h-1.84zM498.4 693.1h1.84v1.84h-1.84zM501.0 660.0h1.84v1.84h-1.84zM497.3 699.8h1.84v1.84h-1.84zM489.0 720.0h1.84v1.84h-1.84zM513.1 663.3h1.84v1.84h-1.84zM504.0 695.9h1.84v1.84h-1.84zM499.3 694.8h1.84v1.84h-1.84zM503.7 689.4h1.84v1.84h-1.84zM506.3 626.8h1.84v1.84h-1.84zM492.8 685.4h1.84v1.84h-1.84zM504.2 646.2h1.84v1.84h-1.84zM511.6 678.5h1.84v1.84h-1.84zM505.2 648.5h1.84v1.84h-1.84zM501.9 652.6h1.84v1.84h-1.84zM502.5 686.2h1.84v1.84h-1.84zM505.2 658.9h1.84v1.84h-1.84zM508.3 653.6h1.84v1.84h-1.84zM490.2 722.5h1.84v1.84h-1.84zM507.9 635.7h1.84v1.84h-1.84zM501.2 684.0h1.84v1.84h-1.84zM489.5 721.9h1.84v1.84h-1.84zM513.1 676.3h1.84v1.84h-1.84zM507.3 664.4h1.84v1.84h-1.84zM511.9 638.1h1.84v1.84h-1.84zM495.6 714.8h1.84v1.84h-1.84zM497.1 653.0h1.84v1.84h-1.84zM501.2 698.2h1.84v1.84h-1.84zM517.4 665.5h1.84v1.84h-1.84zM500.6 708.0h1.84v1.84h-1.84zM505.1 639.3h1.84v1.84h-1.84zM494.2 703.2h1.84v1.84h-1.84zM505.2 644.0h1.84v1.84h-1.84zM507.5 673.6h1.84v1.84h-1.84zM495.9 710.3h1.84v1.84h-1.84zM500.3 685.5h1.84v1.84h-1.84zM498.4 704.5h1.84v1.84h-1.84zM501.2 715.7h1.84v1.84h-1.84zM495.4 713.3h1.84v1.84h-1.84zM499.4 712.1h1.84v1.84h-1.84zM503.5 701.0h1.84v1.84h-1.84zM501.5 658.4h1.84v1.84h-1.84zM496.2 689.9h1.84v1.84h-1.84zM490.9 692.4h1.84v1.84h-1.84zM489.9 710.5h1.84v1.84h-1.84zM508.5 683.3h1.84v1.84h-1.84zM516.0 653.3h1.84v1.84h-1.84zM510.3 642.6h1.84v1.84h-1.84zM503.2 658.8h1.84v1.84h-1.84zM508.8 624.8h1.84v1.84h-1.84zM495.7 706.5h1.84v1.84h-1.84zM497.1 634.7h1.84v1.84h-1.84zM511.2 674.8h1.84v1.84h-1.84zM495.4 639.7h1.84v1.84h-1.84zM494.4 724.4h1.84v1.84h-1.84zM507.2 642.7h1.84v1.84h-1.84zM491.3 709.7h1.84v1.84h-1.84zM497.1 683.0h1.84v1.84h-1.84zM505.2 643.8h1.84v1.84h-1.84zM501.4 667.7h1.84v1.84h-1.84zM504.0 628.7h1.84v1.84h-1.84zM514.7 665.9h1.84v1.84h-1.84zM497.4 719.1h1.84v1.84h-1.84zM499.4 631.5h1.84v1.84h-1.84zM500.5 674.0h1.84v1.84h-1.84zM512.8 681.8h1.84v1.84h-1.84zM503.3 696.7h1.84v1.84h-1.84zM502.7 627.7h1.84v1.84h-1.84zM501.1 712.7h1.84v1.84h-1.84zM503.5 691.6h1.84v1.84h-1.84zM499.1 651.0h1.84v1.84h-1.84zM515.3 677.1h1.84v1.84h-1.84zM503.1 663.9h1.84v1.84h-1.84zM498.8 653.5h1.84v1.84h-1.84zM502.3 638.3h1.84v1.84h-1.84zM495.5 684.1h1.84v1.84h-1.84zM507.4 667.2h1.84v1.84h-1.84zM494.4 713.4h1.84v1.84h-1.84zM510.1 646.8h1.84v1.84h-1.84zM501.8 676.0h1.84v1.84h-1.84zM496.1 650.4h1.84v1.84h-1.84zM496.6 706.7h1.84v1.84h-1.84zM511.9 666.0h1.84v1.84h-1.84zM504.9 708.4h1.84v1.84h-1.84zM506.1 650.0h1.84v1.84h-1.84zM498.0 650.4h1.84v1.84h-1.84zM496.2 715.9h1.84v1.84h-1.84zM500.4 710.3h1.84v1.84h-1.84zM505.1 644.9h1.84v1.84h-1.84zM510.7 680.8h1.84v1.84h-1.84zM514.8 663.5h1.84v1.84h-1.84zM503.6 659.4h1.84v1.84h-1.84zM514.6 649.0h1.84v1.84h-1.84zM498.8 702.9h1.84v1.84h-1.84zM511.3 678.6h1.84v1.84h-1.84zM509.8 684.6h1.84v1.84h-1.84zM504.2 695.9h1.84v1.84h-1.84zM504.3 691.0h1.84v1.84h-1.84zM507.4 678.1h1.84v1.84h-1.84zM503.2 705.1h1.84v1.84h-1.84zM503.9 695.3h1.84v1.84h-1.84zM498.8 711.4h1.84v1.84h-1.84zM501.4 708.9h1.84v1.84h-1.84zM504.2 690.9h1.84v1.84h-1.84zM507.8 693.5h1.84v1.84h-1.84zM500.5 709.1h1.84v1.84h-1.84zM505.7 687.8h1.84v1.84h-1.84zM508.2 690.2h1.84v1.84h-1.84zM505.7 698.0h1.84v1.84h-1.84zM504.4 704.5h1.84v1.84h-1.84zM506.9 698.7h1.84v1.84h-1.84zM510.4 680.8h1.84v1.84h-1.84zM502.9 706.3h1.84v1.84h-1.84zM507.2 694.8h1.84v1.84h-1.84zM507.2 693.7h1.84v1.84h-1.84zM502.0 698.3h1.84v1.84h-1.84zM507.2 679.3h1.84v1.84h-1.84zM511.5 683.8h1.84v1.84h-1.84zM508.5 684.9h1.84v1.84h-1.84zM512.9 675.4h1.84v1.84h-1.84zM504.6 694.6h1.84v1.84h-1.84zM511.2 680.2h1.84v1.84h-1.84zM501.2 706.5h1.84v1.84h-1.84zM511.9 687.3h1.84v1.84h-1.84zM510.9 680.7h1.84v1.84h-1.84zM503.4 692.5h1.84v1.84h-1.84zM507.3 683.5h1.84v1.84h-1.84zM501.1 710.5h1.84v1.84h-1.84zM506.5 688.5h1.84v1.84h-1.84zM501.2 704.0h1.84v1.84h-1.84zM501.0 702.8h1.84v1.84h-1.84zM509.3 686.9h1.84v1.84h-1.84zM509.6 679.9h1.84v1.84h-1.84zM512.2 676.3h1.84v1.84h-1.84zM504.8 693.6h1.84v1.84h-1.84zM496.1 711.0h1.84v1.84h-1.84zM512.7 681.5h1.84v1.84h-1.84zM507.5 681.5h1.84v1.84h-1.84zM514.4 684.3h1.84v1.84h-1.84zM508.2 687.8h1.84v1.84h-1.84zM512.0 671.2h1.84v1.84h-1.84zM512.1 686.4h1.84v1.84h-1.84zM501.1 710.2h1.84v1.84h-1.84zM509.2 695.8h1.84v1.84h-1.84zM505.6 697.5h1.84v1.84h-1.84zM506.0 679.5h1.84v1.84h-1.84zM501.2 695.2h1.84v1.84h-1.84zM509.5 688.0h1.84v1.84h-1.84zM511.0 671.2h1.84v1.84h-1.84zM508.4 686.2h1.84v1.84h-1.84zM502.3 691.6h1.84v1.84h-1.84zM508.5 681.7h1.84v1.84h-1.84zM504.1 692.5h1.84v1.84h-1.84zM503.4 690.4h1.84v1.84h-1.84zM501.5 700.1h1.84v1.84h-1.84zM508.0 678.2h1.84v1.84h-1.84zM494.2 712.1h1.84v1.84h-1.84zM512.1 691.4h1.84v1.84h-1.84zM503.2 699.6h1.84v1.84h-1.84zM501.8 697.0h1.84v1.84h-1.84zM503.0 691.2h1.84v1.84h-1.84zM510.2 675.6h1.84v1.84h-1.84zM507.2 692.4h1.84v1.84h-1.84zM499.5 704.7h1.84v1.84h-1.84zM501.8 688.2h1.84v1.84h-1.84zM504.9 696.0h1.84v1.84h-1.84zM506.6 688.8h1.84v1.84h-1.84zM507.9 695.8h1.84v1.84h-1.84zM511.9 679.9h1.84v1.84h-1.84zM509.5 673.6h1.84v1.84h-1.84zM514.0 671.9h1.84v1.84h-1.84zM503.7 695.9h1.84v1.84h-1.84zM497.3 707.6h1.84v1.84h-1.84zM497.7 707.4h1.84v1.84h-1.84zM506.8 687.3h1.84v1.84h-1.84zM501.2 700.5h1.84v1.84h-1.84zM512.7 669.6h1.84v1.84h-1.84zM502.4 689.6h1.84v1.84h-1.84zM496.8 710.1h1.84v1.84h-1.84zM510.2 675.4h1.84v1.84h-1.84zM503.7 690.5h1.84v1.84h-1.84zM506.5 677.6h1.84v1.84h-1.84zM512.7 670.9h1.84v1.84h-1.84zM498.1 705.3h1.84v1.84h-1.84zM504.4 666.2h1.84v1.84h-1.84zM509.4 643.6h1.84v1.84h-1.84zM504.2 694.7h1.84v1.84h-1.84zM507.3 630.8h1.84v1.84h-1.84zM510.1 699.5h1.84v1.84h-1.84zM505.3 703.4h1.84v1.84h-1.84zM525.5 699.1h1.84v1.84h-1.84zM522.0 630.2h1.84v1.84h-1.84zM520.3 707.5h1.84v1.84h-1.84zM511.9 699.1h1.84v1.84h-1.84zM525.6 675.8h1.84v1.84h-1.84zM513.3 684.3h1.84v1.84h-1.84zM513.2 691.0h1.84v1.84h-1.84zM511.2 629.2h1.84v1.84h-1.84zM506.2 682.2h1.84v1.84h-1.84zM509.9 687.3h1.84v1.84h-1.84zM515.7 648.9h1.84v1.84h-1.84zM506.3 706.5h1.84v1.84h-1.84zM518.8 647.2h1.84v1.84h-1.84zM508.6 696.4h1.84v1.84h-1.84zM512.7 678.9h1.84v1.84h-1.84zM504.9 724.2h1.84v1.84h-1.84zM516.2 683.5h1.84v1.84h-1.84zM510.4 632.7h1.84v1.84h-1.84zM508.6 637.1h1.84v1.84h-1.84zM519.0 667.2h1.84v1.84h-1.84zM513.9 672.1h1.84v1.84h-1.84zM505.0 653.6h1.84v1.84h-1.84zM505.3 704.6h1.84v1.84h-1.84zM520.2 723.7h1.84v1.84h-1.84zM486.6 655.7h1.84v1.84h-1.84zM469.6 670.7h1.84v1.84h-1.84zM474.7 697.0h1.84v1.84h-1.84zM480.3 650.7h1.84v1.84h-1.84zM482.5 646.4h1.84v1.84h-1.84zM484.6 637.0h1.84v1.84h-1.84zM479.8 642.7h1.84v1.84h-1.84zM484.9 723.5h1.84v1.84h-1.84zM480.8 714.8h1.84v1.84h-1.84zM487.2 723.2h1.84v1.84h-1.84zM467.0 685.8h1.84v1.84h-1.84zM490.5 688.8h1.84v1.84h-1.84zM487.4 646.1h1.84v1.84h-1.84zM480.3 680.5h1.84v1.84h-1.84zM474.5 699.9h1.84v1.84h-1.84zM477.7 675.2h1.84v1.84h-1.84zM466.4 663.1h1.84v1.84h-1.84zM483.9 714.5h1.84v1.84h-1.84zM491.4 713.8h1.84v1.84h-1.84zM465.9 650.7h1.84v1.84h-1.84zM476.9 664.7h1.84v1.84h-1.84zM491.6 725.1h1.84v1.84h-1.84zM479.9 714.3h1.84v1.84h-1.84zM492.4 637.2h1.84v1.84h-1.84zM491.3 677.7h1.84v1.84h-1.84zM475.9 662.6h1.84v1.84h-1.84zM468.7 639.1h1.84v1.84h-1.84zM475.9 693.6h1.84v1.84h-1.84zM477.7 652.4h1.84v1.84h-1.84zM485.0 707.9h1.84v1.84h-1.84zM484.6 643.5h1.84v1.84h-1.84zM482.1 682.7h1.84v1.84h-1.84zM469.8 653.1h1.84v1.84h-1.84zM459.6 681.5h1.84v1.84h-1.84zM462.6 637.3h1.84v1.84h-1.84zM482.0 638.7h1.84v1.84h-1.84zM481.8 675.2h1.84v1.84h-1.84zM466.4 640.5h1.84v1.84h-1.84zM476.2 692.9h1.84v1.84h-1.84zM484.6 701.7h1.84v1.84h-1.84zM473.4 648.8h1.84v1.84h-1.84zM475.5 685.7h1.84v1.84h-1.84zM471.7 680.1h1.84v1.84h-1.84zM464.0 700.9h1.84v1.84h-1.84zM479.4 701.9h1.84v1.84h-1.84zM485.1 724.5h1.84v1.84h-1.84zM465.1 686.8h1.84v1.84h-1.84zM472.0 641.5h1.84v1.84h-1.84zM479.5 645.4h1.84v1.84h-1.84zM481.3 695.6h1.84v1.84h-1.84zM474.7 654.7h1.84v1.84h-1.84zM477.8 687.9h1.84v1.84h-1.84zM491.0 690.0h1.84v1.84h-1.84zM488.2 695.9h1.84v1.84h-1.84zM466.8 651.0h1.84v1.84h-1.84zM474.0 649.4h1.84v1.84h-1.84zM477.3 652.7h1.84v1.84h-1.84zM472.7 690.8h1.84v1.84h-1.84zM482.3 656.9h1.84v1.84h-1.84zM471.5 675.2h1.84v1.84h-1.84zM490.4 684.8h1.84v1.84h-1.84zM468.7 664.4h1.84v1.84h-1.84zM490.7 667.9h1.84v1.84h-1.84zM485.2 722.9h1.84v1.84h-1.84zM455.2 696.0h1.84v1.84h-1.84zM482.3 716.1h1.84v1.84h-1.84zM467.4 671.5h1.84v1.84h-1.84zM482.5 631.9h1.84v1.84h-1.84zM490.4 678.4h1.84v1.84h-1.84zM497.2 711.9h1.84v1.84h-1.84zM490.7 691.8h1.84v1.84h-1.84zM462.5 635.6h1.84v1.84h-1.84zM473.1 672.3h1.84v1.84h-1.84zM492.7 720.5h1.84v1.84h-1.84zM454.4 669.4h1.84v1.84h-1.84zM483.3 665.6h1.84v1.84h-1.84zM459.6 697.2h1.84v1.84h-1.84zM463.1 682.6h1.84v1.84h-1.84zM478.9 687.2h1.84v1.84h-1.84zM477.8 647.4h1.84v1.84h-1.84zM474.5 665.3h1.84v1.84h-1.84zM480.6 692.4h1.84v1.84h-1.84zM472.7 687.8h1.84v1.84h-1.84zM475.5 703.4h1.84v1.84h-1.84zM468.7 688.5h1.84v1.84h-1.84zM475.8 664.1h1.84v1.84h-1.84zM474.7 684.6h1.84v1.84h-1.84zM474.2 675.6h1.84v1.84h-1.84zM467.3 670.1h1.84v1.84h-1.84zM484.5 716.6h1.84v1.84h-1.84zM494.1 697.9h1.84v1.84h-1.84zM482.6 679.1h1.84v1.84h-1.84zM474.1 668.0h1.84v1.84h-1.84zM469.8 659.3h1.84v1.84h-1.84zM473.8 697.9h1.84v1.84h-1.84zM487.0 706.2h1.84v1.84h-1.84zM470.0 709.9h1.84v1.84h-1.84zM480.3 708.8h1.84v1.84h-1.84zM471.5 691.4h1.84v1.84h-1.84zM454.8 657.8h1.84v1.84h-1.84zM465.5 637.9h1.84v1.84h-1.84zM481.8 719.9h1.84v1.84h-1.84zM483.4 674.2h1.84v1.84h-1.84zM465.7 668.2h1.84v1.84h-1.84zM474.1 690.4h1.84v1.84h-1.84zM484.5 684.6h1.84v1.84h-1.84zM481.1 674.2h1.84v1.84h-1.84zM466.9 681.2h1.84v1.84h-1.84zM463.7 662.7h1.84v1.84h-1.84zM468.7 658.6h1.84v1.84h-1.84zM486.9 675.3h1.84v1.84h-1.84zM454.8 649.8h1.84v1.84h-1.84zM491.7 713.2h1.84v1.84h-1.84zM480.3 693.7h1.84v1.84h-1.84zM489.9 704.8h1.84v1.84h-1.84zM476.3 689.7h1.84v1.84h-1.84zM467.5 666.5h1.84v1.84h-1.84zM482.8 721.2h1.84v1.84h-1.84zM468.9 679.8h1.84v1.84h-1.84zM482.7 687.8h1.84v1.84h-1.84zM481.5 724.7h1.84v1.84h-1.84zM477.9 695.0h1.84v1.84h-1.84zM476.8 669.6h1.84v1.84h-1.84zM470.0 677.7h1.84v1.84h-1.84zM493.2 704.3h1.84v1.84h-1.84zM492.0 709.8h1.84v1.84h-1.84zM484.0 723.7h1.84v1.84h-1.84zM477.1 669.3h1.84v1.84h-1.84zM480.7 681.3h1.84v1.84h-1.84zM487.4 684.1h1.84v1.84h-1.84zM491.3 720.7h1.84v1.84h-1.84zM481.2 700.6h1.84v1.84h-1.84zM471.3 695.2h1.84v1.84h-1.84zM492.7 689.4h1.84v1.84h-1.84zM467.4 651.0h1.84v1.84h-1.84zM473.8 687.1h1.84v1.84h-1.84zM482.9 720.0h1.84v1.84h-1.84zM476.5 655.8h1.84v1.84h-1.84zM479.3 643.9h1.84v1.84h-1.84zM489.1 706.1h1.84v1.84h-1.84zM492.6 696.2h1.84v1.84h-1.84zM476.0 673.0h1.84v1.84h-1.84zM473.8 663.1h1.84v1.84h-1.84zM488.1 720.1h1.84v1.84h-1.84zM472.3 668.2h1.84v1.84h-1.84zM486.7 720.1h1.84v1.84h-1.84zM481.5 718.4h1.84v1.84h-1.84zM469.5 640.8h1.84v1.84h-1.84zM491.4 700.7h1.84v1.84h-1.84zM464.9 670.9h1.84v1.84h-1.84zM489.3 719.0h1.84v1.84h-1.84zM472.7 673.0h1.84v1.84h-1.84zM481.4 647.6h1.84v1.84h-1.84zM471.6 699.5h1.84v1.84h-1.84zM483.4 648.5h1.84v1.84h-1.84zM496.8 670.2h1.84v1.84h-1.84zM467.2 651.7h1.84v1.84h-1.84zM480.4 626.3h1.84v1.84h-1.84zM479.4 701.4h1.84v1.84h-1.84zM480.2 664.3h1.84v1.84h-1.84zM471.7 636.0h1.84v1.84h-1.84zM481.9 696.7h1.84v1.84h-1.84zM481.7 675.1h1.84v1.84h-1.84zM487.7 709.6h1.84v1.84h-1.84zM472.6 648.4h1.84v1.84h-1.84zM477.6 715.6h1.84v1.84h-1.84zM486.0 719.1h1.84v1.84h-1.84zM483.9 654.8h1.84v1.84h-1.84zM467.6 676.3h1.84v1.84h-1.84zM470.2 671.0h1.84v1.84h-1.84zM481.8 657.8h1.84v1.84h-1.84zM483.1 682.7h1.84v1.84h-1.84zM473.5 702.0h1.84v1.84h-1.84zM464.7 667.1h1.84v1.84h-1.84zM478.8 645.3h1.84v1.84h-1.84zM471.5 697.0h1.84v1.84h-1.84zM468.2 684.2h1.84v1.84h-1.84zM474.8 629.7h1.84v1.84h-1.84zM472.6 644.4h1.84v1.84h-1.84zM467.8 676.4h1.84v1.84h-1.84zM484.9 711.0h1.84v1.84h-1.84zM470.4 660.6h1.84v1.84h-1.84zM476.4 707.0h1.84v1.84h-1.84zM487.6 707.7h1.84v1.84h-1.84zM467.3 675.3h1.84v1.84h-1.84zM484.2 644.2h1.84v1.84h-1.84zM485.6 721.9h1.84v1.84h-1.84zM472.6 627.0h1.84v1.84h-1.84zM472.2 647.5h1.84v1.84h-1.84zM476.5 671.6h1.84v1.84h-1.84zM461.2 657.2h1.84v1.84h-1.84zM468.4 667.9h1.84v1.84h-1.84zM494.9 701.4h1.84v1.84h-1.84zM478.9 700.2h1.84v1.84h-1.84zM472.1 639.5h1.84v1.84h-1.84zM472.4 662.1h1.84v1.84h-1.84zM490.6 698.9h1.84v1.84h-1.84zM466.4 654.6h1.84v1.84h-1.84zM478.3 673.5h1.84v1.84h-1.84zM467.6 659.1h1.84v1.84h-1.84zM469.7 676.8h1.84v1.84h-1.84zM469.0 706.4h1.84v1.84h-1.84zM472.1 679.0h1.84v1.84h-1.84zM467.9 693.9h1.84v1.84h-1.84zM487.6 655.8h1.84v1.84h-1.84zM482.2 699.8h1.84v1.84h-1.84zM469.7 694.6h1.84v1.84h-1.84zM465.6 661.1h1.84v1.84h-1.84zM476.8 667.5h1.84v1.84h-1.84zM481.5 654.8h1.84v1.84h-1.84zM479.0 699.4h1.84v1.84h-1.84zM487.8 694.0h1.84v1.84h-1.84zM478.1 665.5h1.84v1.84h-1.84zM472.4 683.8h1.84v1.84h-1.84zM480.7 704.9h1.84v1.84h-1.84zM475.9 705.9h1.84v1.84h-1.84zM478.8 691.1h1.84v1.84h-1.84zM470.6 666.6h1.84v1.84h-1.84zM472.9 643.2h1.84v1.84h-1.84zM485.0 703.1h1.84v1.84h-1.84zM465.7 647.9h1.84v1.84h-1.84zM475.8 643.4h1.84v1.84h-1.84zM474.1 641.9h1.84v1.84h-1.84zM480.0 712.7h1.84v1.84h-1.84zM465.7 679.9h1.84v1.84h-1.84zM474.8 651.9h1.84v1.84h-1.84zM466.4 640.6h1.84v1.84h-1.84zM479.4 720.9h1.84v1.84h-1.84zM475.7 664.5h1.84v1.84h-1.84zM483.4 710.2h1.84v1.84h-1.84zM463.0 663.4h1.84v1.84h-1.84zM473.9 715.1h1.84v1.84h-1.84zM481.7 710.0h1.84v1.84h-1.84zM466.1 656.9h1.84v1.84h-1.84zM466.2 666.7h1.84v1.84h-1.84zM475.9 699.4h1.84v1.84h-1.84zM463.5 634.3h1.84v1.84h-1.84zM472.9 711.4h1.84v1.84h-1.84zM481.5 719.0h1.84v1.84h-1.84zM474.7 670.5h1.84v1.84h-1.84zM479.2 636.5h1.84v1.84h-1.84zM489.8 714.2h1.84v1.84h-1.84zM479.6 632.0h1.84v1.84h-1.84zM487.4 639.2h1.84v1.84h-1.84zM476.4 709.2h1.84v1.84h-1.84zM483.1 704.3h1.84v1.84h-1.84zM462.1 666.2h1.84v1.84h-1.84zM486.5 711.4h1.84v1.84h-1.84zM463.2 647.4h1.84v1.84h-1.84zM478.3 663.6h1.84v1.84h-1.84zM450.8 647.9h1.84v1.84h-1.84zM490.0 723.5h1.84v1.84h-1.84zM480.2 724.6h1.84v1.84h-1.84zM463.6 636.3h1.84v1.84h-1.84zM455.6 683.1h1.84v1.84h-1.84zM466.8 689.1h1.84v1.84h-1.84zM476.0 666.3h1.84v1.84h-1.84zM472.7 654.3h1.84v1.84h-1.84zM470.6 679.5h1.84v1.84h-1.84zM468.6 685.2h1.84v1.84h-1.84zM472.7 687.7h1.84v1.84h-1.84zM476.8 658.1h1.84v1.84h-1.84zM479.8 680.0h1.84v1.84h-1.84zM468.8 651.6h1.84v1.84h-1.84zM468.5 668.9h1.84v1.84h-1.84zM473.2 680.0h1.84v1.84h-1.84zM484.3 688.1h1.84v1.84h-1.84zM478.8 632.0h1.84v1.84h-1.84zM477.5 705.0h1.84v1.84h-1.84zM459.3 659.9h1.84v1.84h-1.84zM481.9 696.9h1.84v1.84h-1.84zM466.2 659.4h1.84v1.84h-1.84zM486.8 691.3h1.84v1.84h-1.84zM485.6 628.3h1.84v1.84h-1.84zM468.9 660.4h1.84v1.84h-1.84zM471.3 672.8h1.84v1.84h-1.84zM461.8 676.1h1.84v1.84h-1.84zM464.3 693.7h1.84v1.84h-1.84zM477.9 698.1h1.84v1.84h-1.84zM474.2 707.3h1.84v1.84h-1.84zM467.8 697.3h1.84v1.84h-1.84zM492.5 721.7h1.84v1.84h-1.84zM483.3 634.9h1.84v1.84h-1.84zM484.2 697.1h1.84v1.84h-1.84zM485.7 721.2h1.84v1.84h-1.84zM482.7 692.3h1.84v1.84h-1.84zM479.6 680.0h1.84v1.84h-1.84zM478.7 698.4h1.84v1.84h-1.84zM472.3 683.0h1.84v1.84h-1.84zM465.9 657.8h1.84v1.84h-1.84zM484.3 689.8h1.84v1.84h-1.84zM455.7 630.2h1.84v1.84h-1.84zM485.4 651.1h1.84v1.84h-1.84zM464.4 627.4h1.84v1.84h-1.84zM474.4 707.3h1.84v1.84h-1.84zM480.5 657.3h1.84v1.84h-1.84zM472.2 675.8h1.84v1.84h-1.84zM472.0 664.0h1.84v1.84h-1.84zM488.9 720.2h1.84v1.84h-1.84zM476.0 668.5h1.84v1.84h-1.84zM475.3 684.7h1.84v1.84h-1.84zM476.5 683.8h1.84v1.84h-1.84zM477.2 632.3h1.84v1.84h-1.84zM473.8 654.2h1.84v1.84h-1.84zM467.3 665.0h1.84v1.84h-1.84zM476.1 687.1h1.84v1.84h-1.84zM493.3 725.0h1.84v1.84h-1.84zM484.3 710.8h1.84v1.84h-1.84zM476.0 706.5h1.84v1.84h-1.84zM468.5 674.4h1.84v1.84h-1.84zM485.0 724.3h1.84v1.84h-1.84zM475.7 708.4h1.84v1.84h-1.84zM469.6 688.9h1.84v1.84h-1.84zM483.3 661.2h1.84v1.84h-1.84zM484.7 665.9h1.84v1.84h-1.84zM473.6 664.5h1.84v1.84h-1.84zM475.1 666.4h1.84v1.84h-1.84zM480.5 703.2h1.84v1.84h-1.84zM474.4 687.7h1.84v1.84h-1.84zM479.6 629.5h1.84v1.84h-1.84zM454.7 673.2h1.84v1.84h-1.84zM468.3 676.7h1.84v1.84h-1.84zM480.4 679.4h1.84v1.84h-1.84zM492.0 717.4h1.84v1.84h-1.84zM481.7 702.8h1.84v1.84h-1.84zM474.4 693.4h1.84v1.84h-1.84zM479.7 664.7h1.84v1.84h-1.84zM475.6 672.8h1.84v1.84h-1.84zM477.8 649.3h1.84v1.84h-1.84zM490.9 706.7h1.84v1.84h-1.84zM486.0 655.3h1.84v1.84h-1.84zM471.5 638.7h1.84v1.84h-1.84zM487.1 717.2h1.84v1.84h-1.84zM481.2 693.0h1.84v1.84h-1.84zM478.8 693.8h1.84v1.84h-1.84zM487.6 706.8h1.84v1.84h-1.84zM473.1 672.3h1.84v1.84h-1.84zM476.8 660.9h1.84v1.84h-1.84zM463.6 683.8h1.84v1.84h-1.84zM475.0 668.4h1.84v1.84h-1.84zM449.8 640.7h1.84v1.84h-1.84zM464.5 635.1h1.84v1.84h-1.84zM483.1 701.0h1.84v1.84h-1.84zM477.0 655.9h1.84v1.84h-1.84zM464.2 656.7h1.84v1.84h-1.84zM481.4 687.5h1.84v1.84h-1.84zM474.5 705.9h1.84v1.84h-1.84zM487.7 672.9h1.84v1.84h-1.84zM477.1 709.0h1.84v1.84h-1.84zM494.7 718.5h1.84v1.84h-1.84zM479.1 669.5h1.84v1.84h-1.84zM473.0 632.6h1.84v1.84h-1.84zM467.1 709.0h1.84v1.84h-1.84zM494.7 655.7h1.84v1.84h-1.84zM476.2 642.6h1.84v1.84h-1.84zM478.6 687.5h1.84v1.84h-1.84zM470.7 659.0h1.84v1.84h-1.84zM477.9 655.4h1.84v1.84h-1.84zM495.1 715.0h1.84v1.84h-1.84zM477.9 677.8h1.84v1.84h-1.84zM467.3 688.9h1.84v1.84h-1.84zM489.1 683.6h1.84v1.84h-1.84zM483.3 714.4h1.84v1.84h-1.84zM472.6 684.9h1.84v1.84h-1.84zM469.1 696.2h1.84v1.84h-1.84zM484.8 724.4h1.84v1.84h-1.84zM475.4 681.9h1.84v1.84h-1.84zM481.3 664.2h1.84v1.84h-1.84zM469.3 655.7h1.84v1.84h-1.84zM479.6 715.7h1.84v1.84h-1.84zM487.2 680.7h1.84v1.84h-1.84zM461.1 673.6h1.84v1.84h-1.84zM474.0 700.2h1.84v1.84h-1.84zM490.4 715.0h1.84v1.84h-1.84zM470.8 705.8h1.84v1.84h-1.84zM486.4 715.6h1.84v1.84h-1.84zM486.9 717.4h1.84v1.84h-1.84zM456.4 657.6h1.84v1.84h-1.84zM487.3 716.7h1.84v1.84h-1.84zM483.6 713.2h1.84v1.84h-1.84zM483.4 714.9h1.84v1.84h-1.84zM470.0 654.4h1.84v1.84h-1.84zM486.5 648.2h1.84v1.84h-1.84zM483.1 724.8h1.84v1.84h-1.84zM478.1 628.3h1.84v1.84h-1.84zM462.0 633.2h1.84v1.84h-1.84zM475.9 667.8h1.84v1.84h-1.84zM485.1 716.9h1.84v1.84h-1.84zM479.9 714.5h1.84v1.84h-1.84zM474.6 663.3h1.84v1.84h-1.84zM477.2 697.7h1.84v1.84h-1.84zM463.5 648.4h1.84v1.84h-1.84zM473.3 693.7h1.84v1.84h-1.84zM489.6 723.7h1.84v1.84h-1.84zM481.6 700.0h1.84v1.84h-1.84zM480.7 624.9h1.84v1.84h-1.84zM467.9 685.0h1.84v1.84h-1.84zM471.5 636.5h1.84v1.84h-1.84zM468.8 704.9h1.84v1.84h-1.84zM484.1 723.6h1.84v1.84h-1.84zM455.0 673.4h1.84v1.84h-1.84zM440.0 722.8h1.84v1.84h-1.84zM438.4 674.3h1.84v1.84h-1.84zM469.0 639.5h1.84v1.84h-1.84zM465.4 661.0h1.84v1.84h-1.84zM437.9 659.8h1.84v1.84h-1.84zM464.5 643.3h1.84v1.84h-1.84zM434.9 722.6h1.84v1.84h-1.84zM456.4 712.5h1.84v1.84h-1.84zM448.7 724.6h1.84v1.84h-1.84zM450.6 703.0h1.84v1.84h-1.84zM454.7 672.9h1.84v1.84h-1.84zM449.7 697.3h1.84v1.84h-1.84zM450.5 685.8h1.84v1.84h-1.84zM442.9 658.1h1.84v1.84h-1.84zM465.4 684.6h1.84v1.84h-1.84zM445.5 709.0h1.84v1.84h-1.84zM462.5 642.8h1.84v1.84h-1.84zM460.7 709.4h1.84v1.84h-1.84zM426.8 660.7h1.84v1.84h-1.84zM441.7 646.6h1.84v1.84h-1.84zM468.9 698.9h1.84v1.84h-1.84zM445.1 659.5h1.84v1.84h-1.84zM436.1 671.9h1.84v1.84h-1.84zM429.1 688.1h1.84v1.84h-1.84zM450.0 671.0h1.84v1.84h-1.84zM459.6 669.4h1.84v1.84h-1.84zM448.0 718.6h1.84v1.84h-1.84zM467.6 700.3h1.84v1.84h-1.84zM452.4 667.4h1.84v1.84h-1.84zM456.9 671.7h1.84v1.84h-1.84zM442.2 711.3h1.84v1.84h-1.84zM442.8 715.7h1.84v1.84h-1.84zM452.6 702.8h1.84v1.84h-1.84zM457.5 705.3h1.84v1.84h-1.84zM454.6 680.6h1.84v1.84h-1.84zM453.6 675.0h1.84v1.84h-1.84zM469.0 709.3h1.84v1.84h-1.84zM432.2 666.0h1.84v1.84h-1.84zM462.0 686.9h1.84v1.84h-1.84zM515.0 570.8h1.84v1.84h-1.84zM523.8 579.1h1.84v1.84h-1.84zM528.9 580.0h1.84v1.84h-1.84zM510.9 601.1h1.84v1.84h-1.84zM501.9 607.7h1.84v1.84h-1.84zM515.3 605.1h1.84v1.84h-1.84zM517.9 607.7h1.84v1.84h-1.84zM524.9 605.8h1.84v1.84h-1.84zM511.7 609.5h1.84v1.84h-1.84zM511.1 611.7h1.84v1.84h-1.84zM506.0 615.3h1.84v1.84h-1.84zM455.2 623.3h1.84v1.84h-1.84zM454.4 625.5h1.84v1.84h-1.84zM456.6 627.7h1.84v1.84h-1.84zM479.2 625.5h1.84v1.84h-1.84zM474.1 628.7h1.84v1.84h-1.84zM477.8 629.1h1.84v1.84h-1.84zM483.6 628.0h1.84v1.84h-1.84zM486.8 635.5h1.84v1.84h-1.84zM467.9 638.2h1.84v1.84h-1.84zM470.9 640.1h1.84v1.84h-1.84zM474.9 640.1h1.84v1.84h-1.84zM478.5 642.3h1.84v1.84h-1.84zM508.4 626.5h1.84v1.84h-1.84zM515.0 626.0h1.84v1.84h-1.84zM518.7 626.5h1.84v1.84h-1.84zM523.8 630.6h1.84v1.84h-1.84zM515.0 630.9h1.84v1.84h-1.84zM503.3 632.8h1.84v1.84h-1.84zM510.6 634.3h1.84v1.84h-1.84zM515.0 637.2h1.84v1.84h-1.84zM520.9 635.0h1.84v1.84h-1.84zM528.6 636.0h1.84v1.84h-1.84zM531.4 624.5h1.84v1.84h-1.84zM532.5 627.7h1.84v1.84h-1.84zM505.5 638.7h1.84v1.84h-1.84zM510.6 640.1h1.84v1.84h-1.84zM526.3 640.1h1.84v1.84h-1.84zM521.1 642.3h1.84v1.84h-1.84zM444.2 650.3h1.84v1.84h-1.84zM455.2 647.7h1.84v1.84h-1.84zM462.5 647.0h1.84v1.84h-1.84zM462.5 653.3h1.84v1.84h-1.84zM469.8 646.4h1.84v1.84h-1.84zM474.1 648.4h1.84v1.84h-1.84zM477.1 650.3h1.84v1.84h-1.84zM481.4 647.7h1.84v1.84h-1.84zM485.1 646.0h1.84v1.84h-1.84zM474.9 651.8h1.84v1.84h-1.84zM454.7 624.6h1.84v1.84h-1.84zM456.6 627.6h1.84v1.84h-1.84zM455.2 648.0h1.84v1.84h-1.84zM443.8 650.2h1.84v1.84h-1.84zM439.8 658.2h1.84v1.84h-1.84zM441.1 663.3h1.84v1.84h-1.84zM427.7 664.8h1.84v1.84h-1.84zM423.3 667.7h1.84v1.84h-1.84zM418.7 669.9h1.84v1.84h-1.84zM408.4 667.0h1.84v1.84h-1.84zM410.5 670.6h1.84v1.84h-1.84zM439.1 672.1h1.84v1.84h-1.84zM440.1 673.1h1.84v1.84h-1.84zM437.9 675.7h1.84v1.84h-1.84zM448.4 677.2h1.84v1.84h-1.84zM439.1 683.5h1.84v1.84h-1.84zM416.0 685.2h1.84v1.84h-1.84zM444.1 684.9h1.84v1.84h-1.84zM446.1 689.9h1.84v1.84h-1.84zM431.8 688.2h1.84v1.84h-1.84zM430.9 691.8h1.84v1.84h-1.84zM428.4 694.7h1.84v1.84h-1.84zM426.3 696.6h1.84v1.84h-1.84zM436.5 700.1h1.84v1.84h-1.84zM438.7 700.3h1.84v1.84h-1.84zM424.8 704.2h1.84v1.84h-1.84zM438.7 705.4h1.84v1.84h-1.84zM434.0 708.6h1.84v1.84h-1.84zM448.4 705.7h1.84v1.84h-1.84zM452.5 701.3h1.84v1.84h-1.84zM449.9 698.4h1.84v1.84h-1.84zM451.8 694.7h1.84v1.84h-1.84zM455.0 695.7h1.84v1.84h-1.84zM453.7 714.1h1.84v1.84h-1.84zM453.0 722.9h1.84v1.84h-1.84zM457.2 675.0h1.84v1.84h-1.84zM524.7 605.2h1.84v1.84h-1.84zM531.1 623.6h1.84v1.84h-1.84zM532.8 627.6h1.84v1.84h-1.84zM520.7 634.9h1.84v1.84h-1.84zM528.7 635.7h1.84v1.84h-1.84zM533.6 637.3h1.84v1.84h-1.84zM540.8 636.5h1.84v1.84h-1.84zM544.0 632.5h1.84v1.84h-1.84zM544.8 644.5h1.84v1.84h-1.84zM525.5 640.5h1.84v1.84h-1.84zM524.7 647.7h1.84v1.84h-1.84zM531.9 648.5h1.84v1.84h-1.84zM536.0 646.9h1.84v1.84h-1.84zM536.0 651.7h1.84v1.84h-1.84zM529.5 656.5h1.84v1.84h-1.84zM526.3 655.7h1.84v1.84h-1.84zM540.0 660.6h1.84v1.84h-1.84zM543.2 663.0h1.84v1.84h-1.84zM545.6 666.2h1.84v1.84h-1.84zM574.5 648.2h1.84v1.84h-1.84zM579.8 646.6h1.84v1.84h-1.84zM569.7 654.6h1.84v1.84h-1.84zM576.1 656.9h1.84v1.84h-1.84zM615.5 661.0h1.84v1.84h-1.84zM572.9 667.0h1.84v1.84h-1.84zM543.2 671.0h1.84v1.84h-1.84zM543.2 675.0h1.84v1.84h-1.84zM541.6 679.0h1.84v1.84h-1.84zM539.2 682.2h1.84v1.84h-1.84zM531.1 681.4h1.84v1.84h-1.84zM526.3 680.6h1.84v1.84h-1.84zM530.3 683.9h1.84v1.84h-1.84zM550.4 686.3h1.84v1.84h-1.84zM551.2 687.9h1.84v1.84h-1.84zM543.2 689.5h1.84v1.84h-1.84zM537.6 688.7h1.84v1.84h-1.84zM529.5 691.1h1.84v1.84h-1.84zM536.0 695.9h1.84v1.84h-1.84zM527.1 701.5h1.84v1.84h-1.84zM528.7 704.7h1.84v1.84h-1.84zM537.6 707.1h1.84v1.84h-1.84zM523.9 712.0h1.84v1.84h-1.84z"/>
<rect x="160.9" y="584.2" width="55.6" height="7.5" fill="#fff"/>
<rect x="179.9" y="598.6" width="75.5" height="7.5" fill="#fff"/>
<rect x="200.1" y="610.0" width="58.4" height="7.5" fill="#fff"/>
<rect x="236.3" y="622.2" width="45.2" height="7.5" fill="#fff"/>
<rect x="241.5" y="633.9" width="52.8" height="7.5" fill="#fff"/>
<rect x="241.2" y="644.0" width="24.9" height="7.5" fill="#fff"/>
<rect x="243.0" y="653.5" width="37.5" height="7.5" fill="#fff"/>
<rect x="250.7" y="668.2" width="51.8" height="7.5" fill="#fff"/>
<rect x="250.7" y="679.3" width="66.3" height="7.5" fill="#fff"/>
<rect x="209.0" y="688.8" width="59.0" height="7.5" fill="#fff"/>
<rect x="195.5" y="698.6" width="85.0" height="7.5" fill="#fff"/>
<rect x="196.1" y="708.4" width="48.6" height="7.5" fill="#fff"/>
<rect x="196.1" y="718.2" width="50.1" height="7.5" fill="#fff"/>
<line x1="170.3" y1="596.6" x2="162.2" y2="635.1" stroke="#231f20" stroke-width="0.55"/>
<text x="161.4" y="590.9" font-size="7.4" textLength="54.6" lengthAdjust="spacingAndGlyphs" stroke="#231f20" stroke-width="0.25">Methyl-aspartate</text>
<line x1="188.7" y1="609.5" x2="167" y2="640" stroke="#231f20" stroke-width="0.55"/>
<text x="180.4" y="605.3" font-size="7.4" textLength="74.5" lengthAdjust="spacingAndGlyphs" stroke="#231f20" stroke-width="0.25">S-adenosyl-methionine</text>
<line x1="201.6" y1="619.9" x2="176.7" y2="649.6" stroke="#231f20" stroke-width="0.55"/>
<text x="200.6" y="616.7" font-size="7.4" textLength="57.4" lengthAdjust="spacingAndGlyphs" stroke="#231f20" stroke-width="0.25">Methyl-adenosine</text>
<line x1="234.5" y1="627.1" x2="219.2" y2="638" stroke="#231f20" stroke-width="0.55"/>
<text x="236.8" y="628.9" font-size="7.4" textLength="44.2" lengthAdjust="spacingAndGlyphs" stroke="#231f20" stroke-width="0.25">Cystathionine</text>
<line x1="240.1" y1="638.7" x2="177.5" y2="660.8" stroke="#231f20" stroke-width="0.55"/>
<text x="242" y="640.6" font-size="7.4" textLength="51.8" lengthAdjust="spacingAndGlyphs" stroke="#231f20" stroke-width="0.25">Trimethyl-lysine</text>
<line x1="239.3" y1="649.6" x2="200.8" y2="661.6" stroke="#231f20" stroke-width="0.55"/>
<text x="241.7" y="650.7" font-size="7.4" textLength="23.9" lengthAdjust="spacingAndGlyphs" stroke="#231f20" stroke-width="0.25">Betaine</text>
<line x1="243" y1="657.2" x2="174.3" y2="670.1" stroke="#231f20" stroke-width="0.55"/>
<text x="243.5" y="660.2" font-size="7.4" textLength="36.5" lengthAdjust="spacingAndGlyphs" stroke="#231f20" stroke-width="0.25">Methionine</text>
<line x1="249.7" y1="672.5" x2="229.7" y2="677" stroke="#231f20" stroke-width="0.55"/>
<text x="251.2" y="674.9" font-size="7.4" textLength="50.8" lengthAdjust="spacingAndGlyphs" stroke="#231f20" stroke-width="0.25">Dihydro-orotate</text>
<line x1="249" y1="683.2" x2="226.5" y2="683.2" stroke="#231f20" stroke-width="0.55"/>
<text x="251.2" y="686.0" font-size="7.4" textLength="65.3" lengthAdjust="spacingAndGlyphs" stroke="#231f20" stroke-width="0.25">Carbamoyl-asparate</text>
<line x1="208.8" y1="691" x2="185.5" y2="662.5" stroke="#231f20" stroke-width="0.55"/>
<text x="209.5" y="695.5" font-size="7.4" textLength="58" lengthAdjust="spacingAndGlyphs" stroke="#231f20" stroke-width="0.25">Dimethyl-arginine</text>
<line x1="196" y1="698.2" x2="176.4" y2="662.8" stroke="#231f20" stroke-width="0.55"/>
<text x="196" y="705.3" font-size="7.4" textLength="84" lengthAdjust="spacingAndGlyphs" stroke="#231f20" stroke-width="0.25">S-adenosyl-homocysteine</text>
<line x1="195.1" y1="709.4" x2="169.5" y2="679.7" stroke="#231f20" stroke-width="0.55"/>
<text x="196.6" y="715.1" font-size="7.4" textLength="47.6" lengthAdjust="spacingAndGlyphs" stroke="#231f20" stroke-width="0.25">Methylguanine</text>
<line x1="196" y1="720.7" x2="163.8" y2="688" stroke="#231f20" stroke-width="0.55"/>
<text x="196.6" y="724.9" font-size="7.4" textLength="49.1" lengthAdjust="spacingAndGlyphs" stroke="#231f20" stroke-width="0.25">Methylhistidine</text>
<rect x="160.5" y="636.2" width="1.8" height="1.8" fill="#ee1c24"/>
<rect x="165.3" y="641.0" width="1.8" height="1.8" fill="#ee1c24"/>
<rect x="174.7" y="649.5" width="1.8" height="1.8" fill="#ee1c24"/>
<rect x="215.9" y="638.3" width="1.8" height="1.8" fill="#ee1c24"/>
<rect x="175.5" y="661.9" width="1.8" height="1.8" fill="#ee1c24"/>
<rect x="184.6" y="661.6" width="1.8" height="1.8" fill="#ee1c24"/>
<rect x="196.7" y="661.1" width="1.8" height="1.8" fill="#ee1c24"/>
<rect x="168.6" y="678.8" width="1.8" height="1.8" fill="#ee1c24"/>
<rect x="162.9" y="687.1" width="1.8" height="1.8" fill="#ee1c24"/>
<rect x="228.8" y="676.1" width="1.8" height="1.8" fill="#22bb22"/>
<rect x="225.6" y="682.3" width="1.8" height="1.8" fill="#22bb22"/>
<rect x="564.8" y="593.2" width="35.4" height="10" fill="#fff"/>
<rect x="564.2" y="607.8" width="83.9" height="10" fill="#fff"/>
<rect x="563.3" y="622.5" width="122.2" height="10" fill="#fff"/>
<rect x="584.3" y="648.2" width="75.2" height="10" fill="#fff"/>
<rect x="596.2" y="675.8" width="74.3" height="10" fill="#fff"/>
<rect x="556.4" y="693.1" width="36.3" height="10" fill="#fff"/>
<rect x="544.5" y="714.1" width="70.0" height="10" fill="#fff"/>
<line x1="562.7" y1="601" x2="534.9" y2="632.3" stroke="#231f20" stroke-width="0.6"/>
<text x="565.3" y="602.2" font-size="10" textLength="34.4" lengthAdjust="spacingAndGlyphs" stroke="#231f20" stroke-width="0.25">Betaine</text>
<line x1="561.9" y1="614.8" x2="525.4" y2="650.6" stroke="#231f20" stroke-width="0.6"/>
<text x="564.7" y="616.8" font-size="10" textLength="82.9" lengthAdjust="spacingAndGlyphs" stroke="#231f20" stroke-width="0.25">Dimethyl-arginine</text>
<line x1="559.7" y1="628.7" x2="524.7" y2="662.3" stroke="#231f20" stroke-width="0.6"/>
<text x="563.8" y="631.5" font-size="10" textLength="121.2" lengthAdjust="spacingAndGlyphs" stroke="#231f20" stroke-width="0.25"><tspan font-style="italic">S</tspan>-adenosyl-homocysteine</text>
<line x1="581.6" y1="654.2" x2="516" y2="673.9" stroke="#231f20" stroke-width="0.6"/>
<text x="584.8" y="657.2" font-size="10" textLength="74.2" lengthAdjust="spacingAndGlyphs" stroke="#231f20" stroke-width="0.25">Trimethyl-lysine</text>
<line x1="593.3" y1="681.2" x2="570" y2="681.2" stroke="#231f20" stroke-width="0.6"/>
<text x="596.7" y="684.8" font-size="10" textLength="73.3" lengthAdjust="spacingAndGlyphs" stroke="#231f20" stroke-width="0.25">Dihydro-orotate</text>
<line x1="553.9" y1="695.1" x2="524" y2="689" stroke="#231f20" stroke-width="0.6"/>
<text x="556.9" y="702.1" font-size="10" textLength="35.3" lengthAdjust="spacingAndGlyphs" stroke="#231f20" stroke-width="0.25">Orotate</text>
<line x1="542.9" y1="718.1" x2="517.4" y2="688.2" stroke="#231f20" stroke-width="0.6"/>
<text x="545" y="723.1" font-size="10" textLength="69" lengthAdjust="spacingAndGlyphs" stroke="#231f20" stroke-width="0.25">Methylguanine</text>
<rect x="532.6" y="633.6" width="1.8" height="1.8" fill="#ee1c24"/>
<rect x="522.3" y="652.2" width="1.8" height="1.8" fill="#ee1c24"/>
<rect x="521.6" y="663.3" width="1.8" height="1.8" fill="#ee1c24"/>
<rect x="512.6" y="673.8" width="1.8" height="1.8" fill="#ee1c24"/>
<rect x="512.6" y="683.7" width="1.8" height="1.8" fill="#ee1c24"/>
<rect x="566.9" y="680.3" width="1.8" height="1.8" fill="#22bb22"/>
<rect x="522.3" y="688.1" width="1.8" height="1.8" fill="#22bb22"/>
<text x="2.4" y="804.5" font-size="14.5" font-weight="bold" fill="#000" stroke="#000" stroke-width="0.7">j</text>
<text x="353.2" y="806.8" font-size="14.5" font-weight="bold" fill="#000" stroke="#000" stroke-width="0.7">k</text>
<rect x="17.4" y="818.2" width="300.6" height="1.3" fill="#231f20"/>
<rect x="379.9" y="818.2" width="298.3" height="1.3" fill="#231f20"/>
<text x="153.6" y="812.5" font-size="9.8" font-style="italic" textLength="17.9" lengthAdjust="spacingAndGlyphs">Apc</text>
<text x="172" y="808.4" font-size="7" font-style="italic" textLength="11" lengthAdjust="spacingAndGlyphs">fl/fl</text>
<text x="491.8" y="812.5" font-size="9.8" font-style="italic" textLength="17.9" lengthAdjust="spacingAndGlyphs">Apc</text>
<text x="510.3" y="808.4" font-size="7" font-style="italic" textLength="9" lengthAdjust="spacingAndGlyphs">fl/fl</text>
<text x="522.3" y="812.5" font-size="9.8" font-style="italic" textLength="22.5" lengthAdjust="spacingAndGlyphs">Kras</text>
<text x="545.6" y="808.4" font-size="7" font-style="italic" textLength="19.8" lengthAdjust="spacingAndGlyphs">G12D/+</text>
<line x1="47.3" y1="855.8" x2="47.3" y2="946.6" stroke="#999" stroke-width="1.1"/>
<line x1="44.6" y1="946.6" x2="102.4" y2="946.6" stroke="#888" stroke-width="1.0"/>
<line x1="43.3" y1="855.8" x2="47.3" y2="855.8" stroke="#999" stroke-width="0.9"/>
<text x="39.7" y="858.7" font-size="8.8" fill="#333" stroke="#333" stroke-width="0.08" text-anchor="end">3<tspan dx="1.2">×</tspan><tspan dx="1.0">10</tspan><tspan font-size="5.8" dy="-4.2">7</tspan></text>
<line x1="43.3" y1="886.1" x2="47.3" y2="886.1" stroke="#999" stroke-width="0.9"/>
<text x="39.7" y="889.0" font-size="8.8" fill="#333" stroke="#333" stroke-width="0.08" text-anchor="end">2<tspan dx="1.2">×</tspan><tspan dx="1.0">10</tspan><tspan font-size="5.8" dy="-4.2">7</tspan></text>
<line x1="43.3" y1="916.4" x2="47.3" y2="916.4" stroke="#999" stroke-width="0.9"/>
<text x="39.7" y="919.3" font-size="8.8" fill="#333" stroke="#333" stroke-width="0.08" text-anchor="end">1<tspan dx="1.2">×</tspan><tspan dx="1.0">10</tspan><tspan font-size="5.8" dy="-4.2">7</tspan></text>
<line x1="43.3" y1="946.6" x2="47.3" y2="946.6" stroke="#999" stroke-width="0.9"/>
<text x="39.099999999999994" y="949.8000000000001" font-size="9" text-anchor="end" fill="#333" stroke="#333" stroke-width="0.25">0</text>
<line x1="63.800000000000004" y1="946.6" x2="63.800000000000004" y2="950.8000000000001" stroke="#999" stroke-width="0.9"/>
<path d="M57.0,946.6 V945.4 H70.6 V946.6" fill="none" stroke="#1414ff" stroke-width="1.7"/>
<line x1="63.800000000000004" y1="944" x2="63.800000000000004" y2="946" stroke="#1414ff" stroke-width="0.9"/>
<line x1="59.800000000000004" y1="944" x2="67.80000000000001" y2="944" stroke="#1414ff" stroke-width="1.1"/>
<line x1="59.800000000000004" y1="946" x2="67.80000000000001" y2="946" stroke="#1414ff" stroke-width="1.1"/>
<circle cx="60.0" cy="945.5" r="1.05" fill="#1414ff"/>
<circle cx="64.0" cy="945.2" r="1.05" fill="#1414ff"/>
<circle cx="68.0" cy="945.5" r="1.05" fill="#1414ff"/>
<line x1="87.1" y1="946.6" x2="87.1" y2="950.8000000000001" stroke="#999" stroke-width="0.9"/>
<path d="M80.3,946.6 V911.5 H93.9 V946.6" fill="none" stroke="#1414ff" stroke-width="1.7"/>
<line x1="87.1" y1="888.4" x2="87.1" y2="925.5" stroke="#1414ff" stroke-width="0.9"/>
<line x1="83.1" y1="888.4" x2="91.1" y2="888.4" stroke="#1414ff" stroke-width="1.1"/>
<line x1="83.1" y1="925.5" x2="91.1" y2="925.5" stroke="#1414ff" stroke-width="1.1"/>
<circle cx="87.1" cy="874.7" r="1.05" fill="#1414ff"/>
<circle cx="87.1" cy="908.5" r="1.05" fill="#1414ff"/>
<circle cx="87.1" cy="914.4" r="1.05" fill="#1414ff"/>
<circle cx="85.6" cy="927.6" r="1.05" fill="#1414ff"/>
<circle cx="88.8" cy="927.0" r="1.05" fill="#1414ff"/>
<path d="M63.6,936.8 V863.2 H87.5 V868.2" fill="none" stroke="#333" stroke-width="0.9"/>
<polygon points="77.30,854.80 77.98,856.57 79.87,856.67 78.39,857.86 78.89,859.68 77.30,858.65 75.71,859.68 76.21,857.86 74.73,856.67 76.62,856.57" fill="#222"/>
<text x="50" y="832.3" font-size="10" textLength="51.3" lengthAdjust="spacingAndGlyphs" stroke="#231f20" stroke-width="0.25">Carbamoyl</text>
<text x="54" y="843.6" font-size="10" textLength="42.9" lengthAdjust="spacingAndGlyphs" stroke="#231f20" stroke-width="0.25">aspartate</text>
<text transform="translate(8.3,953.9) rotate(-90)" font-size="10" textLength="106.5" lengthAdjust="spacingAndGlyphs">Peak area (normalized)</text>
<text transform="translate(66.6,958.1) rotate(-45)" font-size="10" text-anchor="end" textLength="53" lengthAdjust="spacingAndGlyphs">Normal adj.</text>
<text transform="translate(89.9,958.1) rotate(-45)" font-size="10" text-anchor="end" textLength="34" lengthAdjust="spacingAndGlyphs">Tumour</text>
<line x1="159.7" y1="855.8" x2="159.7" y2="946.6" stroke="#999" stroke-width="1.1"/>
<line x1="156.2" y1="946.6" x2="215.6" y2="946.6" stroke="#888" stroke-width="1.0"/>
<line x1="155.7" y1="855.8" x2="159.7" y2="855.8" stroke="#999" stroke-width="0.9"/>
<text x="152.1" y="858.7" font-size="8.8" fill="#333" stroke="#333" stroke-width="0.08" text-anchor="end">5<tspan dx="1.2">×</tspan><tspan dx="1.0">10</tspan><tspan font-size="5.8" dy="-4.2">7</tspan></text>
<line x1="155.7" y1="874" x2="159.7" y2="874" stroke="#999" stroke-width="0.9"/>
<text x="152.1" y="876.9" font-size="8.8" fill="#333" stroke="#333" stroke-width="0.08" text-anchor="end">4<tspan dx="1.2">×</tspan><tspan dx="1.0">10</tspan><tspan font-size="5.8" dy="-4.2">7</tspan></text>
<line x1="155.7" y1="892.2" x2="159.7" y2="892.2" stroke="#999" stroke-width="0.9"/>
<text x="152.1" y="895.1" font-size="8.8" fill="#333" stroke="#333" stroke-width="0.08" text-anchor="end">3<tspan dx="1.2">×</tspan><tspan dx="1.0">10</tspan><tspan font-size="5.8" dy="-4.2">7</tspan></text>
<line x1="155.7" y1="910.4" x2="159.7" y2="910.4" stroke="#999" stroke-width="0.9"/>
<text x="152.1" y="913.3" font-size="8.8" fill="#333" stroke="#333" stroke-width="0.08" text-anchor="end">2<tspan dx="1.2">×</tspan><tspan dx="1.0">10</tspan><tspan font-size="5.8" dy="-4.2">7</tspan></text>
<line x1="155.7" y1="928.5" x2="159.7" y2="928.5" stroke="#999" stroke-width="0.9"/>
<text x="152.1" y="931.4" font-size="8.8" fill="#333" stroke="#333" stroke-width="0.08" text-anchor="end">1<tspan dx="1.2">×</tspan><tspan dx="1.0">10</tspan><tspan font-size="5.8" dy="-4.2">7</tspan></text>
<line x1="155.7" y1="946.6" x2="159.7" y2="946.6" stroke="#999" stroke-width="0.9"/>
<text x="151.5" y="949.8000000000001" font-size="9" text-anchor="end" fill="#333" stroke="#333" stroke-width="0.25">0</text>
<line x1="175.35" y1="946.6" x2="175.35" y2="950.8000000000001" stroke="#999" stroke-width="0.9"/>
<path d="M168.5,946.6 V945.4 H182.2 V946.6" fill="none" stroke="#1414ff" stroke-width="1.7"/>
<line x1="175.35" y1="944" x2="175.35" y2="946" stroke="#1414ff" stroke-width="0.9"/>
<line x1="171.35" y1="944" x2="179.35" y2="944" stroke="#1414ff" stroke-width="1.1"/>
<line x1="171.35" y1="946" x2="179.35" y2="946" stroke="#1414ff" stroke-width="1.1"/>
<circle cx="171.0" cy="945.5" r="1.05" fill="#1414ff"/>
<circle cx="175.0" cy="945.0" r="1.05" fill="#1414ff"/>
<circle cx="180.0" cy="945.5" r="1.05" fill="#1414ff"/>
<line x1="198.85000000000002" y1="946.6" x2="198.85000000000002" y2="950.8000000000001" stroke="#999" stroke-width="0.9"/>
<path d="M191.6,946.6 V902.0 H206.1 V946.6" fill="none" stroke="#1414ff" stroke-width="1.7"/>
<line x1="198.85000000000002" y1="881.2" x2="198.85000000000002" y2="921.3" stroke="#1414ff" stroke-width="0.9"/>
<line x1="194.85000000000002" y1="881.2" x2="202.85000000000002" y2="881.2" stroke="#1414ff" stroke-width="1.1"/>
<line x1="194.85000000000002" y1="921.3" x2="202.85000000000002" y2="921.3" stroke="#1414ff" stroke-width="1.1"/>
<circle cx="198.8" cy="872.0" r="1.05" fill="#1414ff"/>
<circle cx="197.1" cy="896.5" r="1.05" fill="#1414ff"/>
<circle cx="200.7" cy="896.5" r="1.05" fill="#1414ff"/>
<circle cx="197.0" cy="921.0" r="1.05" fill="#1414ff"/>
<circle cx="200.6" cy="921.0" r="1.05" fill="#1414ff"/>
<path d="M174.9,939 V861.2 H198.8 V866.8" fill="none" stroke="#333" stroke-width="0.9"/>
<polygon points="188.40,851.50 189.08,853.27 190.97,853.37 189.49,854.56 189.99,856.38 188.40,855.35 186.81,856.38 187.31,854.56 185.83,853.37 187.72,853.27" fill="#222"/>
<text x="152.5" y="843.6" font-size="10" textLength="70.1" lengthAdjust="spacingAndGlyphs" stroke="#231f20" stroke-width="0.25">Dihydroorotate</text>
<text transform="translate(120.2,953.9) rotate(-90)" font-size="10" textLength="106.5" lengthAdjust="spacingAndGlyphs">Peak area (normalized)</text>
<text transform="translate(178.2,958.1) rotate(-45)" font-size="10" text-anchor="end" textLength="53" lengthAdjust="spacingAndGlyphs">Normal adj.</text>
<text transform="translate(201.7,958.1) rotate(-45)" font-size="10" text-anchor="end" textLength="34" lengthAdjust="spacingAndGlyphs">Tumour</text>
<line x1="278.4" y1="855.8" x2="278.4" y2="946.6" stroke="#999" stroke-width="1.1"/>
<line x1="275.5" y1="946.6" x2="333.2" y2="946.6" stroke="#888" stroke-width="1.0"/>
<line x1="274.4" y1="855.8" x2="278.4" y2="855.8" stroke="#999" stroke-width="0.9"/>
<text x="270.8" y="858.7" font-size="8.8" fill="#333" stroke="#333" stroke-width="0.08" text-anchor="end">2<tspan dx="1.2">×</tspan><tspan dx="1.0">10</tspan><tspan font-size="5.8" dy="-4.2">8</tspan></text>
<line x1="274.4" y1="878.5" x2="278.4" y2="878.5" stroke="#999" stroke-width="0.9"/>
<text x="270.8" y="881.4" font-size="8.8" fill="#333" stroke="#333" stroke-width="0.08" text-anchor="end">1.5<tspan dx="1.2">×</tspan><tspan dx="1.0">10</tspan><tspan font-size="5.8" dy="-4.2">8</tspan></text>
<line x1="274.4" y1="901.2" x2="278.4" y2="901.2" stroke="#999" stroke-width="0.9"/>
<text x="270.8" y="904.1" font-size="8.8" fill="#333" stroke="#333" stroke-width="0.08" text-anchor="end">1<tspan dx="1.2">×</tspan><tspan dx="1.0">10</tspan><tspan font-size="5.8" dy="-4.2">8</tspan></text>
<line x1="274.4" y1="923.9" x2="278.4" y2="923.9" stroke="#999" stroke-width="0.9"/>
<text x="270.8" y="926.8" font-size="8.8" fill="#333" stroke="#333" stroke-width="0.08" text-anchor="end">5<tspan dx="1.2">×</tspan><tspan dx="1.0">10</tspan><tspan font-size="5.8" dy="-4.2">7</tspan></text>
<line x1="274.4" y1="946.6" x2="278.4" y2="946.6" stroke="#999" stroke-width="0.9"/>
<text x="270.2" y="949.8000000000001" font-size="9" text-anchor="end" fill="#333" stroke="#333" stroke-width="0.25">0</text>
<line x1="293.15" y1="946.6" x2="293.15" y2="950.8000000000001" stroke="#999" stroke-width="0.9"/>
<path d="M286.1,946.6 V923.4 H300.2 V946.6" fill="none" stroke="#1414ff" stroke-width="1.7"/>
<line x1="293.15" y1="915.5" x2="293.15" y2="929.8" stroke="#1414ff" stroke-width="0.9"/>
<line x1="289.15" y1="915.5" x2="297.15" y2="915.5" stroke="#1414ff" stroke-width="1.1"/>
<line x1="289.15" y1="929.8" x2="297.15" y2="929.8" stroke="#1414ff" stroke-width="1.1"/>
<circle cx="293.4" cy="911.8" r="1.05" fill="#1414ff"/>
<circle cx="292.0" cy="922.6" r="1.05" fill="#1414ff"/>
<circle cx="295.0" cy="925.5" r="1.05" fill="#1414ff"/>
<circle cx="293.4" cy="931.8" r="1.05" fill="#1414ff"/>
<line x1="316.9" y1="946.6" x2="316.9" y2="950.8000000000001" stroke="#999" stroke-width="0.9"/>
<path d="M310.1,946.6 V895.8 H323.7 V946.6" fill="none" stroke="#1414ff" stroke-width="1.7"/>
<line x1="316.9" y1="880.2" x2="316.9" y2="909.6" stroke="#1414ff" stroke-width="0.9"/>
<line x1="312.9" y1="880.2" x2="320.9" y2="880.2" stroke="#1414ff" stroke-width="1.1"/>
<line x1="312.9" y1="909.6" x2="320.9" y2="909.6" stroke="#1414ff" stroke-width="1.1"/>
<circle cx="317.1" cy="873.6" r="1.05" fill="#1414ff"/>
<circle cx="317.1" cy="884.5" r="1.05" fill="#1414ff"/>
<circle cx="317.1" cy="889.0" r="1.05" fill="#1414ff"/>
<circle cx="317.1" cy="911.8" r="1.05" fill="#1414ff"/>
<path d="M293.4,906.3 V868.8 H317.1 V873.2" fill="none" stroke="#333" stroke-width="0.9"/>
<polygon points="308.20,859.20 308.88,860.97 310.77,861.07 309.29,862.26 309.79,864.08 308.20,863.05 306.61,864.08 307.11,862.26 305.63,861.07 307.52,860.97" fill="#222"/>
<text x="295.1" y="843.6" font-size="10" textLength="20.7" lengthAdjust="spacingAndGlyphs" stroke="#231f20" stroke-width="0.25">UMP</text>
<text transform="translate(233.5,953.9) rotate(-90)" font-size="10" textLength="106.5" lengthAdjust="spacingAndGlyphs">Peak area (normalized)</text>
<text transform="translate(295.9,958.1) rotate(-45)" font-size="10" text-anchor="end" textLength="53" lengthAdjust="spacingAndGlyphs">Normal adj.</text>
<text transform="translate(319.7,958.1) rotate(-45)" font-size="10" text-anchor="end" textLength="34" lengthAdjust="spacingAndGlyphs">Tumour</text>
<line x1="403.2" y1="855.8" x2="403.2" y2="946.6" stroke="#999" stroke-width="1.1"/>
<line x1="399.9" y1="946.6" x2="457.6" y2="946.6" stroke="#888" stroke-width="1.0"/>
<line x1="399.2" y1="855.8" x2="403.2" y2="855.8" stroke="#999" stroke-width="0.9"/>
<text x="395.6" y="858.7" font-size="8.8" fill="#333" stroke="#333" stroke-width="0.08" text-anchor="end">3<tspan dx="1.2">×</tspan><tspan dx="1.0">10</tspan><tspan font-size="5.8" dy="-4.2">7</tspan></text>
<line x1="399.2" y1="886.1" x2="403.2" y2="886.1" stroke="#999" stroke-width="0.9"/>
<text x="395.6" y="889.0" font-size="8.8" fill="#333" stroke="#333" stroke-width="0.08" text-anchor="end">2<tspan dx="1.2">×</tspan><tspan dx="1.0">10</tspan><tspan font-size="5.8" dy="-4.2">7</tspan></text>
<line x1="399.2" y1="916.4" x2="403.2" y2="916.4" stroke="#999" stroke-width="0.9"/>
<text x="395.6" y="919.3" font-size="8.8" fill="#333" stroke="#333" stroke-width="0.08" text-anchor="end">1<tspan dx="1.2">×</tspan><tspan dx="1.0">10</tspan><tspan font-size="5.8" dy="-4.2">7</tspan></text>
<line x1="399.2" y1="946.6" x2="403.2" y2="946.6" stroke="#999" stroke-width="0.9"/>
<text x="395.0" y="949.8000000000001" font-size="9" text-anchor="end" fill="#333" stroke="#333" stroke-width="0.25">0</text>
<line x1="418.4" y1="946.6" x2="418.4" y2="950.8000000000001" stroke="#999" stroke-width="0.9"/>
<path d="M411.6,946.6 V943.0 H425.2 V946.6" fill="none" stroke="#f81818" stroke-width="1.7"/>
<line x1="418.4" y1="938.5" x2="418.4" y2="946" stroke="#f81818" stroke-width="0.9"/>
<line x1="414.4" y1="938.5" x2="422.4" y2="938.5" stroke="#f81818" stroke-width="1.1"/>
<line x1="414.4" y1="946" x2="422.4" y2="946" stroke="#f81818" stroke-width="1.1"/>
<circle cx="418.4" cy="934.0" r="1.05" fill="#f81818"/>
<circle cx="414.0" cy="944.0" r="1.05" fill="#f81818"/>
<circle cx="418.0" cy="943.0" r="1.05" fill="#f81818"/>
<circle cx="422.0" cy="944.5" r="1.05" fill="#f81818"/>
<line x1="441.8" y1="946.6" x2="441.8" y2="950.8000000000001" stroke="#999" stroke-width="0.9"/>
<path d="M435.1,946.6 V916.3 H448.5 V946.6" fill="none" stroke="#f81818" stroke-width="1.7"/>
<line x1="441.8" y1="892.8" x2="441.8" y2="937.2" stroke="#f81818" stroke-width="0.9"/>
<line x1="437.8" y1="892.8" x2="445.8" y2="892.8" stroke="#f81818" stroke-width="1.1"/>
<line x1="437.8" y1="937.2" x2="445.8" y2="937.2" stroke="#f81818" stroke-width="1.1"/>
<circle cx="441.7" cy="868.6" r="1.05" fill="#f81818"/>
<circle cx="441.7" cy="895.5" r="1.05" fill="#f81818"/>
<circle cx="441.7" cy="919.0" r="1.05" fill="#f81818"/>
<circle cx="441.7" cy="924.0" r="1.05" fill="#f81818"/>
<circle cx="441.7" cy="929.0" r="1.05" fill="#f81818"/>
<circle cx="441.7" cy="934.0" r="1.05" fill="#f81818"/>
<path d="M418.4,930.3 V857.3 H441.7 V862.8" fill="none" stroke="#333" stroke-width="0.9"/>
<polygon points="428.80,849.40 429.48,851.17 431.37,851.27 429.89,852.46 430.39,854.28 428.80,853.25 427.21,854.28 427.71,852.46 426.23,851.27 428.12,851.17" fill="#222"/>
<polygon points="434.40,849.40 435.08,851.17 436.97,851.27 435.49,852.46 435.99,854.28 434.40,853.25 432.81,854.28 433.31,852.46 431.83,851.27 433.72,851.17" fill="#222"/>
<text x="404.9" y="832.3" font-size="10" textLength="50.5" lengthAdjust="spacingAndGlyphs" stroke="#231f20" stroke-width="0.25">Carbamoyl</text>
<text x="409.2" y="843.6" font-size="10" textLength="43" lengthAdjust="spacingAndGlyphs" stroke="#231f20" stroke-width="0.25">aspartate</text>
<text transform="translate(362.2,953.9) rotate(-90)" font-size="10" textLength="106.5" lengthAdjust="spacingAndGlyphs">Peak area (normalized)</text>
<text transform="translate(421.2,958.1) rotate(-45)" font-size="10" text-anchor="end" textLength="53" lengthAdjust="spacingAndGlyphs">Normal adj.</text>
<text transform="translate(444.6,958.1) rotate(-45)" font-size="10" text-anchor="end" textLength="34" lengthAdjust="spacingAndGlyphs">Tumour</text>
<line x1="514.9" y1="855.8" x2="514.9" y2="946.6" stroke="#999" stroke-width="1.1"/>
<line x1="511.6" y1="946.6" x2="570" y2="946.6" stroke="#888" stroke-width="1.0"/>
<line x1="510.9" y1="855.8" x2="514.9" y2="855.8" stroke="#999" stroke-width="0.9"/>
<text x="507.3" y="858.7" font-size="8.8" fill="#333" stroke="#333" stroke-width="0.08" text-anchor="end">5<tspan dx="1.2">×</tspan><tspan dx="1.0">10</tspan><tspan font-size="5.8" dy="-4.2">7</tspan></text>
<line x1="510.9" y1="874" x2="514.9" y2="874" stroke="#999" stroke-width="0.9"/>
<text x="507.3" y="876.9" font-size="8.8" fill="#333" stroke="#333" stroke-width="0.08" text-anchor="end">4<tspan dx="1.2">×</tspan><tspan dx="1.0">10</tspan><tspan font-size="5.8" dy="-4.2">7</tspan></text>
<line x1="510.9" y1="892.2" x2="514.9" y2="892.2" stroke="#999" stroke-width="0.9"/>
<text x="507.3" y="895.1" font-size="8.8" fill="#333" stroke="#333" stroke-width="0.08" text-anchor="end">3<tspan dx="1.2">×</tspan><tspan dx="1.0">10</tspan><tspan font-size="5.8" dy="-4.2">7</tspan></text>
<line x1="510.9" y1="910.4" x2="514.9" y2="910.4" stroke="#999" stroke-width="0.9"/>
<text x="507.3" y="913.3" font-size="8.8" fill="#333" stroke="#333" stroke-width="0.08" text-anchor="end">2<tspan dx="1.2">×</tspan><tspan dx="1.0">10</tspan><tspan font-size="5.8" dy="-4.2">7</tspan></text>
<line x1="510.9" y1="928.5" x2="514.9" y2="928.5" stroke="#999" stroke-width="0.9"/>
<text x="507.3" y="931.4" font-size="8.8" fill="#333" stroke="#333" stroke-width="0.08" text-anchor="end">1<tspan dx="1.2">×</tspan><tspan dx="1.0">10</tspan><tspan font-size="5.8" dy="-4.2">7</tspan></text>
<line x1="510.9" y1="946.6" x2="514.9" y2="946.6" stroke="#999" stroke-width="0.9"/>
<text x="506.7" y="949.8000000000001" font-size="9" text-anchor="end" fill="#333" stroke="#333" stroke-width="0.25">0</text>
<line x1="530.15" y1="946.6" x2="530.15" y2="950.8000000000001" stroke="#999" stroke-width="0.9"/>
<path d="M523.3,946.6 V944.6 H537.0 V946.6" fill="none" stroke="#f81818" stroke-width="1.7"/>
<line x1="530.15" y1="941.2" x2="530.15" y2="946" stroke="#f81818" stroke-width="0.9"/>
<line x1="526.15" y1="941.2" x2="534.15" y2="941.2" stroke="#f81818" stroke-width="1.1"/>
<line x1="526.15" y1="946" x2="534.15" y2="946" stroke="#f81818" stroke-width="1.1"/>
<circle cx="530.1" cy="936.8" r="1.05" fill="#f81818"/>
<circle cx="526.0" cy="944.5" r="1.05" fill="#f81818"/>
<circle cx="534.0" cy="944.5" r="1.05" fill="#f81818"/>
<line x1="553.65" y1="946.6" x2="553.65" y2="950.8000000000001" stroke="#999" stroke-width="0.9"/>
<path d="M546.6,946.6 V918.4 H560.7 V946.6" fill="none" stroke="#f81818" stroke-width="1.7"/>
<line x1="553.65" y1="897.6" x2="553.65" y2="937.2" stroke="#f81818" stroke-width="0.9"/>
<line x1="549.65" y1="897.6" x2="557.65" y2="897.6" stroke="#f81818" stroke-width="1.1"/>
<line x1="549.65" y1="937.2" x2="557.65" y2="937.2" stroke="#f81818" stroke-width="1.1"/>
<circle cx="553.7" cy="876.5" r="1.05" fill="#f81818"/>
<circle cx="553.7" cy="900.5" r="1.05" fill="#f81818"/>
<circle cx="552.3" cy="928.0" r="1.05" fill="#f81818"/>
<circle cx="555.2" cy="927.0" r="1.05" fill="#f81818"/>
<circle cx="553.7" cy="936.0" r="1.05" fill="#f81818"/>
<path d="M530.1,932.4 V865.6 H553.7 V871" fill="none" stroke="#333" stroke-width="0.9"/>
<polygon points="539.20,857.90 539.88,859.67 541.77,859.77 540.29,860.96 540.79,862.78 539.20,861.75 537.61,862.78 538.11,860.96 536.63,859.77 538.52,859.67" fill="#222"/>
<polygon points="544.80,857.90 545.48,859.67 547.37,859.77 545.89,860.96 546.39,862.78 544.80,861.75 543.21,862.78 543.71,860.96 542.23,859.77 544.12,859.67" fill="#222"/>
<text x="507" y="843.6" font-size="10" textLength="70.1" lengthAdjust="spacingAndGlyphs" stroke="#231f20" stroke-width="0.25">Dihydroorotate</text>
<text transform="translate(474.3,953.9) rotate(-90)" font-size="10" textLength="106.5" lengthAdjust="spacingAndGlyphs">Peak area (normalized)</text>
<text transform="translate(532.9,958.1) rotate(-45)" font-size="10" text-anchor="end" textLength="53" lengthAdjust="spacingAndGlyphs">Normal adj.</text>
<text transform="translate(556.4,958.1) rotate(-45)" font-size="10" text-anchor="end" textLength="34" lengthAdjust="spacingAndGlyphs">Tumour</text>
<line x1="629.9" y1="855.8" x2="629.9" y2="946.6" stroke="#999" stroke-width="1.1"/>
<line x1="626.6" y1="946.6" x2="685" y2="946.6" stroke="#888" stroke-width="1.0"/>
<line x1="625.9" y1="855.8" x2="629.9" y2="855.8" stroke="#999" stroke-width="0.9"/>
<text x="622.3" y="858.7" font-size="8.8" fill="#333" stroke="#333" stroke-width="0.08" text-anchor="end">6<tspan dx="1.2">×</tspan><tspan dx="1.0">10</tspan><tspan font-size="5.8" dy="-4.2">7</tspan></text>
<line x1="625.9" y1="886.1" x2="629.9" y2="886.1" stroke="#999" stroke-width="0.9"/>
<text x="622.3" y="889.0" font-size="8.8" fill="#333" stroke="#333" stroke-width="0.08" text-anchor="end">4<tspan dx="1.2">×</tspan><tspan dx="1.0">10</tspan><tspan font-size="5.8" dy="-4.2">7</tspan></text>
<line x1="625.9" y1="916.4" x2="629.9" y2="916.4" stroke="#999" stroke-width="0.9"/>
<text x="622.3" y="919.3" font-size="8.8" fill="#333" stroke="#333" stroke-width="0.08" text-anchor="end">2<tspan dx="1.2">×</tspan><tspan dx="1.0">10</tspan><tspan font-size="5.8" dy="-4.2">7</tspan></text>
<line x1="625.9" y1="946.6" x2="629.9" y2="946.6" stroke="#999" stroke-width="0.9"/>
<text x="621.6999999999999" y="949.8000000000001" font-size="9" text-anchor="end" fill="#333" stroke="#333" stroke-width="0.25">0</text>
<line x1="645.15" y1="946.6" x2="645.15" y2="950.8000000000001" stroke="#999" stroke-width="0.9"/>
<path d="M638.3,946.6 V935.8 H652.0 V946.6" fill="none" stroke="#f81818" stroke-width="1.7"/>
<line x1="645.15" y1="930.7" x2="645.15" y2="938.5" stroke="#f81818" stroke-width="0.9"/>
<line x1="641.15" y1="930.7" x2="649.15" y2="930.7" stroke="#f81818" stroke-width="1.1"/>
<line x1="641.15" y1="938.5" x2="649.15" y2="938.5" stroke="#f81818" stroke-width="1.1"/>
<circle cx="645.1" cy="928.1" r="1.05" fill="#f81818"/>
<circle cx="641.0" cy="938.0" r="1.05" fill="#f81818"/>
<circle cx="645.0" cy="939.0" r="1.05" fill="#f81818"/>
<circle cx="649.0" cy="938.5" r="1.05" fill="#f81818"/>
<line x1="668.65" y1="946.6" x2="668.65" y2="950.8000000000001" stroke="#999" stroke-width="0.9"/>
<path d="M661.6,946.6 V912.6 H675.7 V946.6" fill="none" stroke="#f81818" stroke-width="1.7"/>
<line x1="668.65" y1="888.2" x2="668.65" y2="934.6" stroke="#f81818" stroke-width="0.9"/>
<line x1="664.65" y1="888.2" x2="672.65" y2="888.2" stroke="#f81818" stroke-width="1.1"/>
<line x1="664.65" y1="934.6" x2="672.65" y2="934.6" stroke="#f81818" stroke-width="1.1"/>
<circle cx="668.7" cy="873.6" r="1.05" fill="#f81818"/>
<circle cx="668.7" cy="890.0" r="1.05" fill="#f81818"/>
<circle cx="668.7" cy="918.5" r="1.05" fill="#f81818"/>
<circle cx="668.7" cy="925.0" r="1.05" fill="#f81818"/>
<circle cx="668.7" cy="930.0" r="1.05" fill="#f81818"/>
<path d="M645.1,923.7 V862.3 H668.7 V867.1" fill="none" stroke="#333" stroke-width="0.9"/>
<polygon points="654.20,854.60 654.88,856.37 656.77,856.47 655.29,857.66 655.79,859.48 654.20,858.45 652.61,859.48 653.11,857.66 651.63,856.47 653.52,856.37" fill="#222"/>
<polygon points="659.80,854.60 660.48,856.37 662.37,856.47 660.89,857.66 661.39,859.48 659.80,858.45 658.21,859.48 658.71,857.66 657.23,856.47 659.12,856.37" fill="#222"/>
<text x="639.7" y="843.6" font-size="10" textLength="35.3" lengthAdjust="spacingAndGlyphs" stroke="#231f20" stroke-width="0.25">Orotate</text>
<text transform="translate(589.3,953.9) rotate(-90)" font-size="10" textLength="106.5" lengthAdjust="spacingAndGlyphs">Peak area (normalized)</text>
<text transform="translate(647.9,958.1) rotate(-45)" font-size="10" text-anchor="end" textLength="53" lengthAdjust="spacingAndGlyphs">Normal adj.</text>
<text transform="translate(671.4,958.1) rotate(-45)" font-size="10" text-anchor="end" textLength="34" lengthAdjust="spacingAndGlyphs">Tumour</text>
</svg></body></html>
